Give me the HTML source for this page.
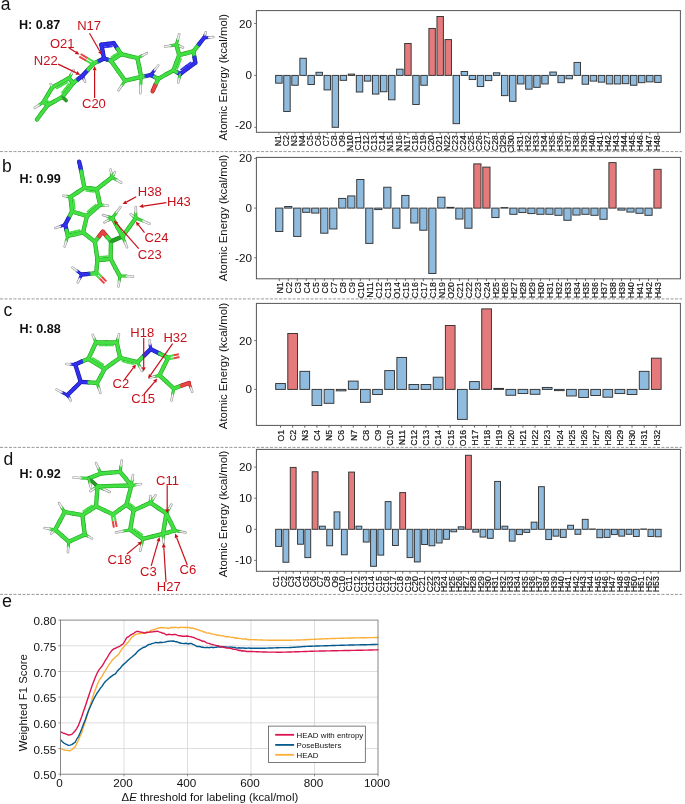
<!DOCTYPE html>
<html><head><meta charset="utf-8"><title>Figure</title>
<style>html,body{margin:0;padding:0;background:#fff;overflow:hidden;width:685px;height:804px;}svg{display:block;will-change:transform;}text{font-family:"Liberation Sans", sans-serif;}</style>
</head><body>
<svg width="685" height="804" viewBox="0 0 685 804">
<rect width="685" height="804" fill="#fff"/>
<rect x="275.67" y="75.40" width="6.45" height="7.78" fill="#8fbbde" stroke="#333" stroke-width="0.95"/>
<rect x="283.74" y="75.40" width="6.45" height="36.07" fill="#8fbbde" stroke="#333" stroke-width="0.95"/>
<rect x="291.80" y="75.40" width="6.45" height="9.86" fill="#8fbbde" stroke="#333" stroke-width="0.95"/>
<rect x="299.86" y="58.27" width="6.45" height="17.13" fill="#8fbbde" stroke="#333" stroke-width="0.95"/>
<rect x="307.93" y="75.40" width="6.45" height="9.08" fill="#8fbbde" stroke="#333" stroke-width="0.95"/>
<rect x="315.99" y="72.29" width="6.45" height="3.11" fill="#8fbbde" stroke="#333" stroke-width="0.95"/>
<rect x="324.06" y="75.40" width="6.45" height="14.53" fill="#8fbbde" stroke="#333" stroke-width="0.95"/>
<rect x="332.12" y="75.40" width="6.45" height="51.90" fill="#8fbbde" stroke="#333" stroke-width="0.95"/>
<rect x="340.18" y="75.40" width="6.45" height="4.93" fill="#8fbbde" stroke="#333" stroke-width="0.95"/>
<rect x="348.25" y="74.10" width="6.45" height="1.30" fill="#8fbbde" stroke="#333" stroke-width="0.95"/>
<rect x="356.31" y="75.40" width="6.45" height="16.61" fill="#8fbbde" stroke="#333" stroke-width="0.95"/>
<rect x="364.38" y="75.40" width="6.45" height="5.71" fill="#8fbbde" stroke="#333" stroke-width="0.95"/>
<rect x="372.44" y="75.40" width="6.45" height="18.68" fill="#8fbbde" stroke="#333" stroke-width="0.95"/>
<rect x="380.50" y="75.40" width="6.45" height="16.35" fill="#8fbbde" stroke="#333" stroke-width="0.95"/>
<rect x="388.57" y="75.40" width="6.45" height="24.39" fill="#8fbbde" stroke="#333" stroke-width="0.95"/>
<rect x="396.63" y="69.17" width="6.45" height="6.23" fill="#8fbbde" stroke="#333" stroke-width="0.95"/>
<rect x="404.70" y="43.48" width="6.45" height="31.92" fill="#e47a7c" stroke="#333" stroke-width="0.95"/>
<rect x="412.76" y="75.40" width="6.45" height="29.06" fill="#8fbbde" stroke="#333" stroke-width="0.95"/>
<rect x="420.82" y="75.40" width="6.45" height="9.86" fill="#8fbbde" stroke="#333" stroke-width="0.95"/>
<rect x="428.89" y="28.43" width="6.45" height="46.97" fill="#e47a7c" stroke="#333" stroke-width="0.95"/>
<rect x="436.95" y="16.49" width="6.45" height="58.91" fill="#e47a7c" stroke="#333" stroke-width="0.95"/>
<rect x="445.01" y="39.59" width="6.45" height="35.81" fill="#e47a7c" stroke="#333" stroke-width="0.95"/>
<rect x="453.08" y="75.40" width="6.45" height="48.27" fill="#8fbbde" stroke="#333" stroke-width="0.95"/>
<rect x="461.14" y="71.51" width="6.45" height="3.89" fill="#8fbbde" stroke="#333" stroke-width="0.95"/>
<rect x="469.21" y="75.40" width="6.45" height="4.15" fill="#8fbbde" stroke="#333" stroke-width="0.95"/>
<rect x="477.27" y="75.40" width="6.45" height="11.16" fill="#8fbbde" stroke="#333" stroke-width="0.95"/>
<rect x="485.33" y="75.40" width="6.45" height="5.19" fill="#8fbbde" stroke="#333" stroke-width="0.95"/>
<rect x="493.40" y="72.81" width="6.45" height="2.59" fill="#8fbbde" stroke="#333" stroke-width="0.95"/>
<rect x="501.46" y="75.40" width="6.45" height="20.24" fill="#8fbbde" stroke="#333" stroke-width="0.95"/>
<rect x="509.53" y="75.40" width="6.45" height="25.95" fill="#8fbbde" stroke="#333" stroke-width="0.95"/>
<rect x="517.59" y="75.40" width="6.45" height="8.56" fill="#8fbbde" stroke="#333" stroke-width="0.95"/>
<rect x="525.65" y="75.40" width="6.45" height="13.75" fill="#8fbbde" stroke="#333" stroke-width="0.95"/>
<rect x="533.72" y="75.40" width="6.45" height="11.94" fill="#8fbbde" stroke="#333" stroke-width="0.95"/>
<rect x="541.78" y="75.40" width="6.45" height="8.56" fill="#8fbbde" stroke="#333" stroke-width="0.95"/>
<rect x="549.85" y="72.03" width="6.45" height="3.37" fill="#8fbbde" stroke="#333" stroke-width="0.95"/>
<rect x="557.91" y="75.40" width="6.45" height="7.27" fill="#8fbbde" stroke="#333" stroke-width="0.95"/>
<rect x="565.97" y="75.40" width="6.45" height="3.37" fill="#8fbbde" stroke="#333" stroke-width="0.95"/>
<rect x="574.04" y="62.43" width="6.45" height="12.98" fill="#8fbbde" stroke="#333" stroke-width="0.95"/>
<rect x="582.10" y="75.40" width="6.45" height="8.82" fill="#8fbbde" stroke="#333" stroke-width="0.95"/>
<rect x="590.16" y="75.40" width="6.45" height="5.71" fill="#8fbbde" stroke="#333" stroke-width="0.95"/>
<rect x="598.23" y="75.40" width="6.45" height="6.75" fill="#8fbbde" stroke="#333" stroke-width="0.95"/>
<rect x="606.29" y="75.40" width="6.45" height="8.56" fill="#8fbbde" stroke="#333" stroke-width="0.95"/>
<rect x="614.36" y="75.40" width="6.45" height="8.56" fill="#8fbbde" stroke="#333" stroke-width="0.95"/>
<rect x="622.42" y="75.40" width="6.45" height="8.30" fill="#8fbbde" stroke="#333" stroke-width="0.95"/>
<rect x="630.48" y="75.40" width="6.45" height="9.86" fill="#8fbbde" stroke="#333" stroke-width="0.95"/>
<rect x="638.55" y="75.40" width="6.45" height="7.27" fill="#8fbbde" stroke="#333" stroke-width="0.95"/>
<rect x="646.61" y="75.40" width="6.45" height="6.49" fill="#8fbbde" stroke="#333" stroke-width="0.95"/>
<rect x="654.68" y="75.40" width="6.45" height="7.01" fill="#8fbbde" stroke="#333" stroke-width="0.95"/>
<rect x="256.4" y="10.6" width="424.00" height="121.70" fill="none" stroke="#555" stroke-width="1"/>
<line x1="254.20" y1="23.50" x2="256.40" y2="23.50" stroke="#555" stroke-width="0.8"/>
<text x="251.90" y="27.50" font-size="11.7" text-anchor="end" font-weight="normal" fill="#111">20</text>
<line x1="254.20" y1="75.40" x2="256.40" y2="75.40" stroke="#555" stroke-width="0.8"/>
<text x="251.90" y="79.40" font-size="11.7" text-anchor="end" font-weight="normal" fill="#111">0</text>
<line x1="254.20" y1="127.30" x2="256.40" y2="127.30" stroke="#555" stroke-width="0.8"/>
<text x="251.90" y="129.30" font-size="11.7" text-anchor="end" font-weight="normal" fill="#111">-20</text>
<text x="226.90" y="77.25" font-size="11.4" text-anchor="middle" font-weight="normal" fill="#111" transform="rotate(-90 226.90 77.25)">Atomic Energy (kcal/mol)</text>
<line x1="278.90" y1="132.30" x2="278.90" y2="134.60" stroke="#555" stroke-width="0.9"/>
<text x="280.60" y="135.30" font-size="8.5" text-anchor="end" font-weight="normal" fill="#111" transform="rotate(-90 280.60 135.30)" stroke="#111" stroke-width="0.18">N1</text>
<line x1="286.96" y1="132.30" x2="286.96" y2="134.60" stroke="#555" stroke-width="0.9"/>
<text x="288.66" y="135.30" font-size="8.5" text-anchor="end" font-weight="normal" fill="#111" transform="rotate(-90 288.66 135.30)" stroke="#111" stroke-width="0.18">C2</text>
<line x1="295.03" y1="132.30" x2="295.03" y2="134.60" stroke="#555" stroke-width="0.9"/>
<text x="296.73" y="135.30" font-size="8.5" text-anchor="end" font-weight="normal" fill="#111" transform="rotate(-90 296.73 135.30)" stroke="#111" stroke-width="0.18">N3</text>
<line x1="303.09" y1="132.30" x2="303.09" y2="134.60" stroke="#555" stroke-width="0.9"/>
<text x="304.79" y="135.30" font-size="8.5" text-anchor="end" font-weight="normal" fill="#111" transform="rotate(-90 304.79 135.30)" stroke="#111" stroke-width="0.18">N4</text>
<line x1="311.15" y1="132.30" x2="311.15" y2="134.60" stroke="#555" stroke-width="0.9"/>
<text x="312.85" y="135.30" font-size="8.5" text-anchor="end" font-weight="normal" fill="#111" transform="rotate(-90 312.85 135.30)" stroke="#111" stroke-width="0.18">C5</text>
<line x1="319.22" y1="132.30" x2="319.22" y2="134.60" stroke="#555" stroke-width="0.9"/>
<text x="320.92" y="135.30" font-size="8.5" text-anchor="end" font-weight="normal" fill="#111" transform="rotate(-90 320.92 135.30)" stroke="#111" stroke-width="0.18">C6</text>
<line x1="327.28" y1="132.30" x2="327.28" y2="134.60" stroke="#555" stroke-width="0.9"/>
<text x="328.98" y="135.30" font-size="8.5" text-anchor="end" font-weight="normal" fill="#111" transform="rotate(-90 328.98 135.30)" stroke="#111" stroke-width="0.18">C7</text>
<line x1="335.35" y1="132.30" x2="335.35" y2="134.60" stroke="#555" stroke-width="0.9"/>
<text x="337.05" y="135.30" font-size="8.5" text-anchor="end" font-weight="normal" fill="#111" transform="rotate(-90 337.05 135.30)" stroke="#111" stroke-width="0.18">C8</text>
<line x1="343.41" y1="132.30" x2="343.41" y2="134.60" stroke="#555" stroke-width="0.9"/>
<text x="345.11" y="135.30" font-size="8.5" text-anchor="end" font-weight="normal" fill="#111" transform="rotate(-90 345.11 135.30)" stroke="#111" stroke-width="0.18">O9</text>
<line x1="351.47" y1="132.30" x2="351.47" y2="134.60" stroke="#555" stroke-width="0.9"/>
<text x="353.17" y="135.30" font-size="8.5" text-anchor="end" font-weight="normal" fill="#111" transform="rotate(-90 353.17 135.30)" stroke="#111" stroke-width="0.18">N10</text>
<line x1="359.54" y1="132.30" x2="359.54" y2="134.60" stroke="#555" stroke-width="0.9"/>
<text x="361.24" y="135.30" font-size="8.5" text-anchor="end" font-weight="normal" fill="#111" transform="rotate(-90 361.24 135.30)" stroke="#111" stroke-width="0.18">C11</text>
<line x1="367.60" y1="132.30" x2="367.60" y2="134.60" stroke="#555" stroke-width="0.9"/>
<text x="369.30" y="135.30" font-size="8.5" text-anchor="end" font-weight="normal" fill="#111" transform="rotate(-90 369.30 135.30)" stroke="#111" stroke-width="0.18">C12</text>
<line x1="375.67" y1="132.30" x2="375.67" y2="134.60" stroke="#555" stroke-width="0.9"/>
<text x="377.37" y="135.30" font-size="8.5" text-anchor="end" font-weight="normal" fill="#111" transform="rotate(-90 377.37 135.30)" stroke="#111" stroke-width="0.18">C13</text>
<line x1="383.73" y1="132.30" x2="383.73" y2="134.60" stroke="#555" stroke-width="0.9"/>
<text x="385.43" y="135.30" font-size="8.5" text-anchor="end" font-weight="normal" fill="#111" transform="rotate(-90 385.43 135.30)" stroke="#111" stroke-width="0.18">C14</text>
<line x1="391.79" y1="132.30" x2="391.79" y2="134.60" stroke="#555" stroke-width="0.9"/>
<text x="393.49" y="135.30" font-size="8.5" text-anchor="end" font-weight="normal" fill="#111" transform="rotate(-90 393.49 135.30)" stroke="#111" stroke-width="0.18">N15</text>
<line x1="399.86" y1="132.30" x2="399.86" y2="134.60" stroke="#555" stroke-width="0.9"/>
<text x="401.56" y="135.30" font-size="8.5" text-anchor="end" font-weight="normal" fill="#111" transform="rotate(-90 401.56 135.30)" stroke="#111" stroke-width="0.18">N16</text>
<line x1="407.92" y1="132.30" x2="407.92" y2="134.60" stroke="#555" stroke-width="0.9"/>
<text x="409.62" y="135.30" font-size="8.5" text-anchor="end" font-weight="normal" fill="#111" transform="rotate(-90 409.62 135.30)" stroke="#111" stroke-width="0.18">N17</text>
<line x1="415.98" y1="132.30" x2="415.98" y2="134.60" stroke="#555" stroke-width="0.9"/>
<text x="417.68" y="135.30" font-size="8.5" text-anchor="end" font-weight="normal" fill="#111" transform="rotate(-90 417.68 135.30)" stroke="#111" stroke-width="0.18">C18</text>
<line x1="424.05" y1="132.30" x2="424.05" y2="134.60" stroke="#555" stroke-width="0.9"/>
<text x="425.75" y="135.30" font-size="8.5" text-anchor="end" font-weight="normal" fill="#111" transform="rotate(-90 425.75 135.30)" stroke="#111" stroke-width="0.18">C19</text>
<line x1="432.11" y1="132.30" x2="432.11" y2="134.60" stroke="#555" stroke-width="0.9"/>
<text x="433.81" y="135.30" font-size="8.5" text-anchor="end" font-weight="normal" fill="#111" transform="rotate(-90 433.81 135.30)" stroke="#111" stroke-width="0.18">C20</text>
<line x1="440.18" y1="132.30" x2="440.18" y2="134.60" stroke="#555" stroke-width="0.9"/>
<text x="441.88" y="135.30" font-size="8.5" text-anchor="end" font-weight="normal" fill="#111" transform="rotate(-90 441.88 135.30)" stroke="#111" stroke-width="0.18">O21</text>
<line x1="448.24" y1="132.30" x2="448.24" y2="134.60" stroke="#555" stroke-width="0.9"/>
<text x="449.94" y="135.30" font-size="8.5" text-anchor="end" font-weight="normal" fill="#111" transform="rotate(-90 449.94 135.30)" stroke="#111" stroke-width="0.18">N22</text>
<line x1="456.30" y1="132.30" x2="456.30" y2="134.60" stroke="#555" stroke-width="0.9"/>
<text x="458.00" y="135.30" font-size="8.5" text-anchor="end" font-weight="normal" fill="#111" transform="rotate(-90 458.00 135.30)" stroke="#111" stroke-width="0.18">C23</text>
<line x1="464.37" y1="132.30" x2="464.37" y2="134.60" stroke="#555" stroke-width="0.9"/>
<text x="466.07" y="135.30" font-size="8.5" text-anchor="end" font-weight="normal" fill="#111" transform="rotate(-90 466.07 135.30)" stroke="#111" stroke-width="0.18">C24</text>
<line x1="472.43" y1="132.30" x2="472.43" y2="134.60" stroke="#555" stroke-width="0.9"/>
<text x="474.13" y="135.30" font-size="8.5" text-anchor="end" font-weight="normal" fill="#111" transform="rotate(-90 474.13 135.30)" stroke="#111" stroke-width="0.18">C25</text>
<line x1="480.50" y1="132.30" x2="480.50" y2="134.60" stroke="#555" stroke-width="0.9"/>
<text x="482.20" y="135.30" font-size="8.5" text-anchor="end" font-weight="normal" fill="#111" transform="rotate(-90 482.20 135.30)" stroke="#111" stroke-width="0.18">C26</text>
<line x1="488.56" y1="132.30" x2="488.56" y2="134.60" stroke="#555" stroke-width="0.9"/>
<text x="490.26" y="135.30" font-size="8.5" text-anchor="end" font-weight="normal" fill="#111" transform="rotate(-90 490.26 135.30)" stroke="#111" stroke-width="0.18">C27</text>
<line x1="496.62" y1="132.30" x2="496.62" y2="134.60" stroke="#555" stroke-width="0.9"/>
<text x="498.32" y="135.30" font-size="8.5" text-anchor="end" font-weight="normal" fill="#111" transform="rotate(-90 498.32 135.30)" stroke="#111" stroke-width="0.18">C28</text>
<line x1="504.69" y1="132.30" x2="504.69" y2="134.60" stroke="#555" stroke-width="0.9"/>
<text x="506.39" y="135.30" font-size="8.5" text-anchor="end" font-weight="normal" fill="#111" transform="rotate(-90 506.39 135.30)" stroke="#111" stroke-width="0.18">Cl29</text>
<line x1="512.75" y1="132.30" x2="512.75" y2="134.60" stroke="#555" stroke-width="0.9"/>
<text x="514.45" y="135.30" font-size="8.5" text-anchor="end" font-weight="normal" fill="#111" transform="rotate(-90 514.45 135.30)" stroke="#111" stroke-width="0.18">Cl30</text>
<line x1="520.82" y1="132.30" x2="520.82" y2="134.60" stroke="#555" stroke-width="0.9"/>
<text x="522.52" y="135.30" font-size="8.5" text-anchor="end" font-weight="normal" fill="#111" transform="rotate(-90 522.52 135.30)" stroke="#111" stroke-width="0.18">H31</text>
<line x1="528.88" y1="132.30" x2="528.88" y2="134.60" stroke="#555" stroke-width="0.9"/>
<text x="530.58" y="135.30" font-size="8.5" text-anchor="end" font-weight="normal" fill="#111" transform="rotate(-90 530.58 135.30)" stroke="#111" stroke-width="0.18">H32</text>
<line x1="536.94" y1="132.30" x2="536.94" y2="134.60" stroke="#555" stroke-width="0.9"/>
<text x="538.64" y="135.30" font-size="8.5" text-anchor="end" font-weight="normal" fill="#111" transform="rotate(-90 538.64 135.30)" stroke="#111" stroke-width="0.18">H33</text>
<line x1="545.01" y1="132.30" x2="545.01" y2="134.60" stroke="#555" stroke-width="0.9"/>
<text x="546.71" y="135.30" font-size="8.5" text-anchor="end" font-weight="normal" fill="#111" transform="rotate(-90 546.71 135.30)" stroke="#111" stroke-width="0.18">H34</text>
<line x1="553.07" y1="132.30" x2="553.07" y2="134.60" stroke="#555" stroke-width="0.9"/>
<text x="554.77" y="135.30" font-size="8.5" text-anchor="end" font-weight="normal" fill="#111" transform="rotate(-90 554.77 135.30)" stroke="#111" stroke-width="0.18">H35</text>
<line x1="561.13" y1="132.30" x2="561.13" y2="134.60" stroke="#555" stroke-width="0.9"/>
<text x="562.83" y="135.30" font-size="8.5" text-anchor="end" font-weight="normal" fill="#111" transform="rotate(-90 562.83 135.30)" stroke="#111" stroke-width="0.18">H36</text>
<line x1="569.20" y1="132.30" x2="569.20" y2="134.60" stroke="#555" stroke-width="0.9"/>
<text x="570.90" y="135.30" font-size="8.5" text-anchor="end" font-weight="normal" fill="#111" transform="rotate(-90 570.90 135.30)" stroke="#111" stroke-width="0.18">H37</text>
<line x1="577.26" y1="132.30" x2="577.26" y2="134.60" stroke="#555" stroke-width="0.9"/>
<text x="578.96" y="135.30" font-size="8.5" text-anchor="end" font-weight="normal" fill="#111" transform="rotate(-90 578.96 135.30)" stroke="#111" stroke-width="0.18">H38</text>
<line x1="585.33" y1="132.30" x2="585.33" y2="134.60" stroke="#555" stroke-width="0.9"/>
<text x="587.03" y="135.30" font-size="8.5" text-anchor="end" font-weight="normal" fill="#111" transform="rotate(-90 587.03 135.30)" stroke="#111" stroke-width="0.18">H39</text>
<line x1="593.39" y1="132.30" x2="593.39" y2="134.60" stroke="#555" stroke-width="0.9"/>
<text x="595.09" y="135.30" font-size="8.5" text-anchor="end" font-weight="normal" fill="#111" transform="rotate(-90 595.09 135.30)" stroke="#111" stroke-width="0.18">H40</text>
<line x1="601.45" y1="132.30" x2="601.45" y2="134.60" stroke="#555" stroke-width="0.9"/>
<text x="603.15" y="135.30" font-size="8.5" text-anchor="end" font-weight="normal" fill="#111" transform="rotate(-90 603.15 135.30)" stroke="#111" stroke-width="0.18">H41</text>
<line x1="609.52" y1="132.30" x2="609.52" y2="134.60" stroke="#555" stroke-width="0.9"/>
<text x="611.22" y="135.30" font-size="8.5" text-anchor="end" font-weight="normal" fill="#111" transform="rotate(-90 611.22 135.30)" stroke="#111" stroke-width="0.18">H42</text>
<line x1="617.58" y1="132.30" x2="617.58" y2="134.60" stroke="#555" stroke-width="0.9"/>
<text x="619.28" y="135.30" font-size="8.5" text-anchor="end" font-weight="normal" fill="#111" transform="rotate(-90 619.28 135.30)" stroke="#111" stroke-width="0.18">H43</text>
<line x1="625.65" y1="132.30" x2="625.65" y2="134.60" stroke="#555" stroke-width="0.9"/>
<text x="627.35" y="135.30" font-size="8.5" text-anchor="end" font-weight="normal" fill="#111" transform="rotate(-90 627.35 135.30)" stroke="#111" stroke-width="0.18">H44</text>
<line x1="633.71" y1="132.30" x2="633.71" y2="134.60" stroke="#555" stroke-width="0.9"/>
<text x="635.41" y="135.30" font-size="8.5" text-anchor="end" font-weight="normal" fill="#111" transform="rotate(-90 635.41 135.30)" stroke="#111" stroke-width="0.18">H45</text>
<line x1="641.77" y1="132.30" x2="641.77" y2="134.60" stroke="#555" stroke-width="0.9"/>
<text x="643.47" y="135.30" font-size="8.5" text-anchor="end" font-weight="normal" fill="#111" transform="rotate(-90 643.47 135.30)" stroke="#111" stroke-width="0.18">H46</text>
<line x1="649.84" y1="132.30" x2="649.84" y2="134.60" stroke="#555" stroke-width="0.9"/>
<text x="651.54" y="135.30" font-size="8.5" text-anchor="end" font-weight="normal" fill="#111" transform="rotate(-90 651.54 135.30)" stroke="#111" stroke-width="0.18">H47</text>
<line x1="657.90" y1="132.30" x2="657.90" y2="134.60" stroke="#555" stroke-width="0.9"/>
<text x="659.60" y="135.30" font-size="8.5" text-anchor="end" font-weight="normal" fill="#111" transform="rotate(-90 659.60 135.30)" stroke="#111" stroke-width="0.18">H48</text>
<rect x="275.67" y="208.10" width="7.20" height="23.36" fill="#8fbbde" stroke="#333" stroke-width="0.95"/>
<rect x="284.68" y="206.48" width="7.20" height="1.62" fill="#8fbbde" stroke="#333" stroke-width="0.95"/>
<rect x="293.68" y="208.10" width="7.20" height="28.33" fill="#8fbbde" stroke="#333" stroke-width="0.95"/>
<rect x="302.69" y="208.10" width="7.20" height="4.22" fill="#8fbbde" stroke="#333" stroke-width="0.95"/>
<rect x="311.70" y="208.10" width="7.20" height="4.97" fill="#8fbbde" stroke="#333" stroke-width="0.95"/>
<rect x="320.70" y="208.10" width="7.20" height="25.10" fill="#8fbbde" stroke="#333" stroke-width="0.95"/>
<rect x="329.71" y="208.10" width="7.20" height="20.87" fill="#8fbbde" stroke="#333" stroke-width="0.95"/>
<rect x="338.71" y="198.41" width="7.20" height="9.69" fill="#8fbbde" stroke="#333" stroke-width="0.95"/>
<rect x="347.72" y="195.92" width="7.20" height="12.18" fill="#8fbbde" stroke="#333" stroke-width="0.95"/>
<rect x="356.73" y="179.52" width="7.20" height="28.58" fill="#8fbbde" stroke="#333" stroke-width="0.95"/>
<rect x="365.73" y="208.10" width="7.20" height="35.29" fill="#8fbbde" stroke="#333" stroke-width="0.95"/>
<rect x="374.74" y="208.10" width="7.20" height="1.49" fill="#8fbbde" stroke="#333" stroke-width="0.95"/>
<rect x="383.74" y="187.23" width="7.20" height="20.87" fill="#8fbbde" stroke="#333" stroke-width="0.95"/>
<rect x="392.75" y="208.10" width="7.20" height="20.13" fill="#8fbbde" stroke="#333" stroke-width="0.95"/>
<rect x="401.76" y="195.43" width="7.20" height="12.67" fill="#8fbbde" stroke="#333" stroke-width="0.95"/>
<rect x="410.76" y="208.10" width="7.20" height="14.91" fill="#8fbbde" stroke="#333" stroke-width="0.95"/>
<rect x="419.77" y="208.10" width="7.20" height="22.12" fill="#8fbbde" stroke="#333" stroke-width="0.95"/>
<rect x="428.77" y="208.10" width="7.20" height="65.36" fill="#8fbbde" stroke="#333" stroke-width="0.95"/>
<rect x="437.78" y="197.17" width="7.20" height="10.93" fill="#8fbbde" stroke="#333" stroke-width="0.95"/>
<rect x="446.79" y="207.35" width="7.20" height="0.75" fill="#8fbbde" stroke="#333" stroke-width="0.95"/>
<rect x="455.79" y="208.10" width="7.20" height="10.93" fill="#8fbbde" stroke="#333" stroke-width="0.95"/>
<rect x="464.80" y="208.10" width="7.20" height="20.13" fill="#8fbbde" stroke="#333" stroke-width="0.95"/>
<rect x="473.80" y="163.87" width="7.20" height="44.23" fill="#e47a7c" stroke="#333" stroke-width="0.95"/>
<rect x="482.81" y="167.10" width="7.20" height="41.00" fill="#e47a7c" stroke="#333" stroke-width="0.95"/>
<rect x="491.82" y="208.10" width="7.20" height="9.44" fill="#8fbbde" stroke="#333" stroke-width="0.95"/>
<rect x="500.82" y="207.60" width="7.20" height="0.50" fill="#8fbbde" stroke="#333" stroke-width="0.95"/>
<rect x="509.83" y="208.10" width="7.20" height="6.21" fill="#8fbbde" stroke="#333" stroke-width="0.95"/>
<rect x="518.83" y="208.10" width="7.20" height="4.47" fill="#8fbbde" stroke="#333" stroke-width="0.95"/>
<rect x="527.84" y="208.10" width="7.20" height="5.47" fill="#8fbbde" stroke="#333" stroke-width="0.95"/>
<rect x="536.85" y="208.10" width="7.20" height="6.21" fill="#8fbbde" stroke="#333" stroke-width="0.95"/>
<rect x="545.85" y="208.10" width="7.20" height="6.21" fill="#8fbbde" stroke="#333" stroke-width="0.95"/>
<rect x="554.86" y="208.10" width="7.20" height="7.21" fill="#8fbbde" stroke="#333" stroke-width="0.95"/>
<rect x="563.86" y="208.10" width="7.20" height="12.18" fill="#8fbbde" stroke="#333" stroke-width="0.95"/>
<rect x="572.87" y="208.10" width="7.20" height="6.96" fill="#8fbbde" stroke="#333" stroke-width="0.95"/>
<rect x="581.87" y="208.10" width="7.20" height="6.21" fill="#8fbbde" stroke="#333" stroke-width="0.95"/>
<rect x="590.88" y="208.10" width="7.20" height="7.21" fill="#8fbbde" stroke="#333" stroke-width="0.95"/>
<rect x="599.89" y="208.10" width="7.20" height="11.18" fill="#8fbbde" stroke="#333" stroke-width="0.95"/>
<rect x="608.89" y="162.62" width="7.20" height="45.48" fill="#e47a7c" stroke="#333" stroke-width="0.95"/>
<rect x="617.90" y="208.10" width="7.20" height="1.99" fill="#8fbbde" stroke="#333" stroke-width="0.95"/>
<rect x="626.90" y="208.10" width="7.20" height="3.98" fill="#8fbbde" stroke="#333" stroke-width="0.95"/>
<rect x="635.91" y="208.10" width="7.20" height="5.22" fill="#8fbbde" stroke="#333" stroke-width="0.95"/>
<rect x="644.92" y="208.10" width="7.20" height="7.21" fill="#8fbbde" stroke="#333" stroke-width="0.95"/>
<rect x="653.92" y="169.33" width="7.20" height="38.77" fill="#e47a7c" stroke="#333" stroke-width="0.95"/>
<rect x="256.4" y="157.4" width="424.00" height="121.40" fill="none" stroke="#555" stroke-width="1"/>
<line x1="254.20" y1="158.40" x2="256.40" y2="158.40" stroke="#555" stroke-width="0.8"/>
<text x="251.90" y="162.40" font-size="11.7" text-anchor="end" font-weight="normal" fill="#111">20</text>
<line x1="254.20" y1="208.10" x2="256.40" y2="208.10" stroke="#555" stroke-width="0.8"/>
<text x="251.90" y="212.10" font-size="11.7" text-anchor="end" font-weight="normal" fill="#111">0</text>
<line x1="254.20" y1="257.80" x2="256.40" y2="257.80" stroke="#555" stroke-width="0.8"/>
<text x="251.90" y="261.80" font-size="11.7" text-anchor="end" font-weight="normal" fill="#111">-20</text>
<text x="226.90" y="217.90" font-size="11.4" text-anchor="middle" font-weight="normal" fill="#111" transform="rotate(-90 226.90 217.90)">Atomic Energy (kcal/mol)</text>
<line x1="279.28" y1="278.80" x2="279.28" y2="281.10" stroke="#555" stroke-width="0.9"/>
<text x="282.58" y="282.20" font-size="8.8" text-anchor="end" font-weight="normal" fill="#111" transform="rotate(-90 282.58 282.20)" stroke="#111" stroke-width="0.18">N1</text>
<line x1="288.28" y1="278.80" x2="288.28" y2="281.10" stroke="#555" stroke-width="0.9"/>
<text x="291.58" y="282.20" font-size="8.8" text-anchor="end" font-weight="normal" fill="#111" transform="rotate(-90 291.58 282.20)" stroke="#111" stroke-width="0.18">C2</text>
<line x1="297.29" y1="278.80" x2="297.29" y2="281.10" stroke="#555" stroke-width="0.9"/>
<text x="300.59" y="282.20" font-size="8.8" text-anchor="end" font-weight="normal" fill="#111" transform="rotate(-90 300.59 282.20)" stroke="#111" stroke-width="0.18">C3</text>
<line x1="306.29" y1="278.80" x2="306.29" y2="281.10" stroke="#555" stroke-width="0.9"/>
<text x="309.59" y="282.20" font-size="8.8" text-anchor="end" font-weight="normal" fill="#111" transform="rotate(-90 309.59 282.20)" stroke="#111" stroke-width="0.18">C4</text>
<line x1="315.30" y1="278.80" x2="315.30" y2="281.10" stroke="#555" stroke-width="0.9"/>
<text x="318.60" y="282.20" font-size="8.8" text-anchor="end" font-weight="normal" fill="#111" transform="rotate(-90 318.60 282.20)" stroke="#111" stroke-width="0.18">C5</text>
<line x1="324.30" y1="278.80" x2="324.30" y2="281.10" stroke="#555" stroke-width="0.9"/>
<text x="327.60" y="282.20" font-size="8.8" text-anchor="end" font-weight="normal" fill="#111" transform="rotate(-90 327.60 282.20)" stroke="#111" stroke-width="0.18">C6</text>
<line x1="333.31" y1="278.80" x2="333.31" y2="281.10" stroke="#555" stroke-width="0.9"/>
<text x="336.61" y="282.20" font-size="8.8" text-anchor="end" font-weight="normal" fill="#111" transform="rotate(-90 336.61 282.20)" stroke="#111" stroke-width="0.18">C7</text>
<line x1="342.32" y1="278.80" x2="342.32" y2="281.10" stroke="#555" stroke-width="0.9"/>
<text x="345.62" y="282.20" font-size="8.8" text-anchor="end" font-weight="normal" fill="#111" transform="rotate(-90 345.62 282.20)" stroke="#111" stroke-width="0.18">C8</text>
<line x1="351.32" y1="278.80" x2="351.32" y2="281.10" stroke="#555" stroke-width="0.9"/>
<text x="354.62" y="282.20" font-size="8.8" text-anchor="end" font-weight="normal" fill="#111" transform="rotate(-90 354.62 282.20)" stroke="#111" stroke-width="0.18">C9</text>
<line x1="360.33" y1="278.80" x2="360.33" y2="281.10" stroke="#555" stroke-width="0.9"/>
<text x="363.63" y="282.20" font-size="8.8" text-anchor="end" font-weight="normal" fill="#111" transform="rotate(-90 363.63 282.20)" stroke="#111" stroke-width="0.18">C10</text>
<line x1="369.33" y1="278.80" x2="369.33" y2="281.10" stroke="#555" stroke-width="0.9"/>
<text x="372.63" y="282.20" font-size="8.8" text-anchor="end" font-weight="normal" fill="#111" transform="rotate(-90 372.63 282.20)" stroke="#111" stroke-width="0.18">N11</text>
<line x1="378.34" y1="278.80" x2="378.34" y2="281.10" stroke="#555" stroke-width="0.9"/>
<text x="381.64" y="282.20" font-size="8.8" text-anchor="end" font-weight="normal" fill="#111" transform="rotate(-90 381.64 282.20)" stroke="#111" stroke-width="0.18">C12</text>
<line x1="387.35" y1="278.80" x2="387.35" y2="281.10" stroke="#555" stroke-width="0.9"/>
<text x="390.65" y="282.20" font-size="8.8" text-anchor="end" font-weight="normal" fill="#111" transform="rotate(-90 390.65 282.20)" stroke="#111" stroke-width="0.18">C13</text>
<line x1="396.35" y1="278.80" x2="396.35" y2="281.10" stroke="#555" stroke-width="0.9"/>
<text x="399.65" y="282.20" font-size="8.8" text-anchor="end" font-weight="normal" fill="#111" transform="rotate(-90 399.65 282.20)" stroke="#111" stroke-width="0.18">O14</text>
<line x1="405.36" y1="278.80" x2="405.36" y2="281.10" stroke="#555" stroke-width="0.9"/>
<text x="408.66" y="282.20" font-size="8.8" text-anchor="end" font-weight="normal" fill="#111" transform="rotate(-90 408.66 282.20)" stroke="#111" stroke-width="0.18">C15</text>
<line x1="414.36" y1="278.80" x2="414.36" y2="281.10" stroke="#555" stroke-width="0.9"/>
<text x="417.66" y="282.20" font-size="8.8" text-anchor="end" font-weight="normal" fill="#111" transform="rotate(-90 417.66 282.20)" stroke="#111" stroke-width="0.18">C16</text>
<line x1="423.37" y1="278.80" x2="423.37" y2="281.10" stroke="#555" stroke-width="0.9"/>
<text x="426.67" y="282.20" font-size="8.8" text-anchor="end" font-weight="normal" fill="#111" transform="rotate(-90 426.67 282.20)" stroke="#111" stroke-width="0.18">C17</text>
<line x1="432.38" y1="278.80" x2="432.38" y2="281.10" stroke="#555" stroke-width="0.9"/>
<text x="435.68" y="282.20" font-size="8.8" text-anchor="end" font-weight="normal" fill="#111" transform="rotate(-90 435.68 282.20)" stroke="#111" stroke-width="0.18">C18</text>
<line x1="441.38" y1="278.80" x2="441.38" y2="281.10" stroke="#555" stroke-width="0.9"/>
<text x="444.68" y="282.20" font-size="8.8" text-anchor="end" font-weight="normal" fill="#111" transform="rotate(-90 444.68 282.20)" stroke="#111" stroke-width="0.18">N19</text>
<line x1="450.39" y1="278.80" x2="450.39" y2="281.10" stroke="#555" stroke-width="0.9"/>
<text x="453.69" y="282.20" font-size="8.8" text-anchor="end" font-weight="normal" fill="#111" transform="rotate(-90 453.69 282.20)" stroke="#111" stroke-width="0.18">O20</text>
<line x1="459.39" y1="278.80" x2="459.39" y2="281.10" stroke="#555" stroke-width="0.9"/>
<text x="462.69" y="282.20" font-size="8.8" text-anchor="end" font-weight="normal" fill="#111" transform="rotate(-90 462.69 282.20)" stroke="#111" stroke-width="0.18">C21</text>
<line x1="468.40" y1="278.80" x2="468.40" y2="281.10" stroke="#555" stroke-width="0.9"/>
<text x="471.70" y="282.20" font-size="8.8" text-anchor="end" font-weight="normal" fill="#111" transform="rotate(-90 471.70 282.20)" stroke="#111" stroke-width="0.18">C22</text>
<line x1="477.41" y1="278.80" x2="477.41" y2="281.10" stroke="#555" stroke-width="0.9"/>
<text x="480.71" y="282.20" font-size="8.8" text-anchor="end" font-weight="normal" fill="#111" transform="rotate(-90 480.71 282.20)" stroke="#111" stroke-width="0.18">C23</text>
<line x1="486.41" y1="278.80" x2="486.41" y2="281.10" stroke="#555" stroke-width="0.9"/>
<text x="489.71" y="282.20" font-size="8.8" text-anchor="end" font-weight="normal" fill="#111" transform="rotate(-90 489.71 282.20)" stroke="#111" stroke-width="0.18">C24</text>
<line x1="495.42" y1="278.80" x2="495.42" y2="281.10" stroke="#555" stroke-width="0.9"/>
<text x="498.72" y="282.20" font-size="8.8" text-anchor="end" font-weight="normal" fill="#111" transform="rotate(-90 498.72 282.20)" stroke="#111" stroke-width="0.18">H25</text>
<line x1="504.42" y1="278.80" x2="504.42" y2="281.10" stroke="#555" stroke-width="0.9"/>
<text x="507.72" y="282.20" font-size="8.8" text-anchor="end" font-weight="normal" fill="#111" transform="rotate(-90 507.72 282.20)" stroke="#111" stroke-width="0.18">H26</text>
<line x1="513.43" y1="278.80" x2="513.43" y2="281.10" stroke="#555" stroke-width="0.9"/>
<text x="516.73" y="282.20" font-size="8.8" text-anchor="end" font-weight="normal" fill="#111" transform="rotate(-90 516.73 282.20)" stroke="#111" stroke-width="0.18">H27</text>
<line x1="522.44" y1="278.80" x2="522.44" y2="281.10" stroke="#555" stroke-width="0.9"/>
<text x="525.74" y="282.20" font-size="8.8" text-anchor="end" font-weight="normal" fill="#111" transform="rotate(-90 525.74 282.20)" stroke="#111" stroke-width="0.18">H28</text>
<line x1="531.44" y1="278.80" x2="531.44" y2="281.10" stroke="#555" stroke-width="0.9"/>
<text x="534.74" y="282.20" font-size="8.8" text-anchor="end" font-weight="normal" fill="#111" transform="rotate(-90 534.74 282.20)" stroke="#111" stroke-width="0.18">H29</text>
<line x1="540.45" y1="278.80" x2="540.45" y2="281.10" stroke="#555" stroke-width="0.9"/>
<text x="543.75" y="282.20" font-size="8.8" text-anchor="end" font-weight="normal" fill="#111" transform="rotate(-90 543.75 282.20)" stroke="#111" stroke-width="0.18">H30</text>
<line x1="549.45" y1="278.80" x2="549.45" y2="281.10" stroke="#555" stroke-width="0.9"/>
<text x="552.75" y="282.20" font-size="8.8" text-anchor="end" font-weight="normal" fill="#111" transform="rotate(-90 552.75 282.20)" stroke="#111" stroke-width="0.18">H31</text>
<line x1="558.46" y1="278.80" x2="558.46" y2="281.10" stroke="#555" stroke-width="0.9"/>
<text x="561.76" y="282.20" font-size="8.8" text-anchor="end" font-weight="normal" fill="#111" transform="rotate(-90 561.76 282.20)" stroke="#111" stroke-width="0.18">H32</text>
<line x1="567.47" y1="278.80" x2="567.47" y2="281.10" stroke="#555" stroke-width="0.9"/>
<text x="570.77" y="282.20" font-size="8.8" text-anchor="end" font-weight="normal" fill="#111" transform="rotate(-90 570.77 282.20)" stroke="#111" stroke-width="0.18">H33</text>
<line x1="576.47" y1="278.80" x2="576.47" y2="281.10" stroke="#555" stroke-width="0.9"/>
<text x="579.77" y="282.20" font-size="8.8" text-anchor="end" font-weight="normal" fill="#111" transform="rotate(-90 579.77 282.20)" stroke="#111" stroke-width="0.18">H34</text>
<line x1="585.48" y1="278.80" x2="585.48" y2="281.10" stroke="#555" stroke-width="0.9"/>
<text x="588.78" y="282.20" font-size="8.8" text-anchor="end" font-weight="normal" fill="#111" transform="rotate(-90 588.78 282.20)" stroke="#111" stroke-width="0.18">H35</text>
<line x1="594.48" y1="278.80" x2="594.48" y2="281.10" stroke="#555" stroke-width="0.9"/>
<text x="597.78" y="282.20" font-size="8.8" text-anchor="end" font-weight="normal" fill="#111" transform="rotate(-90 597.78 282.20)" stroke="#111" stroke-width="0.18">H36</text>
<line x1="603.49" y1="278.80" x2="603.49" y2="281.10" stroke="#555" stroke-width="0.9"/>
<text x="606.79" y="282.20" font-size="8.8" text-anchor="end" font-weight="normal" fill="#111" transform="rotate(-90 606.79 282.20)" stroke="#111" stroke-width="0.18">H37</text>
<line x1="612.50" y1="278.80" x2="612.50" y2="281.10" stroke="#555" stroke-width="0.9"/>
<text x="615.80" y="282.20" font-size="8.8" text-anchor="end" font-weight="normal" fill="#111" transform="rotate(-90 615.80 282.20)" stroke="#111" stroke-width="0.18">H38</text>
<line x1="621.50" y1="278.80" x2="621.50" y2="281.10" stroke="#555" stroke-width="0.9"/>
<text x="624.80" y="282.20" font-size="8.8" text-anchor="end" font-weight="normal" fill="#111" transform="rotate(-90 624.80 282.20)" stroke="#111" stroke-width="0.18">H39</text>
<line x1="630.51" y1="278.80" x2="630.51" y2="281.10" stroke="#555" stroke-width="0.9"/>
<text x="633.81" y="282.20" font-size="8.8" text-anchor="end" font-weight="normal" fill="#111" transform="rotate(-90 633.81 282.20)" stroke="#111" stroke-width="0.18">H40</text>
<line x1="639.51" y1="278.80" x2="639.51" y2="281.10" stroke="#555" stroke-width="0.9"/>
<text x="642.81" y="282.20" font-size="8.8" text-anchor="end" font-weight="normal" fill="#111" transform="rotate(-90 642.81 282.20)" stroke="#111" stroke-width="0.18">H41</text>
<line x1="648.52" y1="278.80" x2="648.52" y2="281.10" stroke="#555" stroke-width="0.9"/>
<text x="651.82" y="282.20" font-size="8.8" text-anchor="end" font-weight="normal" fill="#111" transform="rotate(-90 651.82 282.20)" stroke="#111" stroke-width="0.18">H42</text>
<line x1="657.52" y1="278.80" x2="657.52" y2="281.10" stroke="#555" stroke-width="0.9"/>
<text x="660.82" y="282.20" font-size="8.8" text-anchor="end" font-weight="normal" fill="#111" transform="rotate(-90 660.82 282.20)" stroke="#111" stroke-width="0.18">H43</text>
<rect x="275.67" y="383.54" width="9.70" height="5.86" fill="#8fbbde" stroke="#333" stroke-width="0.95"/>
<rect x="287.79" y="333.52" width="9.70" height="55.88" fill="#e47a7c" stroke="#333" stroke-width="0.95"/>
<rect x="299.92" y="371.34" width="9.70" height="18.06" fill="#8fbbde" stroke="#333" stroke-width="0.95"/>
<rect x="312.04" y="389.40" width="9.70" height="16.10" fill="#8fbbde" stroke="#333" stroke-width="0.95"/>
<rect x="324.16" y="389.40" width="9.70" height="13.91" fill="#8fbbde" stroke="#333" stroke-width="0.95"/>
<rect x="336.28" y="389.40" width="9.70" height="1.46" fill="#8fbbde" stroke="#333" stroke-width="0.95"/>
<rect x="348.40" y="381.10" width="9.70" height="8.30" fill="#8fbbde" stroke="#333" stroke-width="0.95"/>
<rect x="360.52" y="389.40" width="9.70" height="12.93" fill="#8fbbde" stroke="#333" stroke-width="0.95"/>
<rect x="372.64" y="389.40" width="9.70" height="5.12" fill="#8fbbde" stroke="#333" stroke-width="0.95"/>
<rect x="384.76" y="370.61" width="9.70" height="18.79" fill="#8fbbde" stroke="#333" stroke-width="0.95"/>
<rect x="396.88" y="357.44" width="9.70" height="31.96" fill="#8fbbde" stroke="#333" stroke-width="0.95"/>
<rect x="409.01" y="384.52" width="9.70" height="4.88" fill="#8fbbde" stroke="#333" stroke-width="0.95"/>
<rect x="421.13" y="384.52" width="9.70" height="4.88" fill="#8fbbde" stroke="#333" stroke-width="0.95"/>
<rect x="433.25" y="377.20" width="9.70" height="12.20" fill="#8fbbde" stroke="#333" stroke-width="0.95"/>
<rect x="445.37" y="325.47" width="9.70" height="63.93" fill="#e47a7c" stroke="#333" stroke-width="0.95"/>
<rect x="457.49" y="389.40" width="9.70" height="30.01" fill="#8fbbde" stroke="#333" stroke-width="0.95"/>
<rect x="469.61" y="381.59" width="9.70" height="7.81" fill="#8fbbde" stroke="#333" stroke-width="0.95"/>
<rect x="481.73" y="308.88" width="9.70" height="80.52" fill="#e47a7c" stroke="#333" stroke-width="0.95"/>
<rect x="493.85" y="388.42" width="9.70" height="0.98" fill="#8fbbde" stroke="#333" stroke-width="0.95"/>
<rect x="505.98" y="389.40" width="9.70" height="5.86" fill="#8fbbde" stroke="#333" stroke-width="0.95"/>
<rect x="518.10" y="389.40" width="9.70" height="4.15" fill="#8fbbde" stroke="#333" stroke-width="0.95"/>
<rect x="530.22" y="389.40" width="9.70" height="4.88" fill="#8fbbde" stroke="#333" stroke-width="0.95"/>
<rect x="542.34" y="387.45" width="9.70" height="1.95" fill="#8fbbde" stroke="#333" stroke-width="0.95"/>
<rect x="554.46" y="389.40" width="9.70" height="1.22" fill="#8fbbde" stroke="#333" stroke-width="0.95"/>
<rect x="566.58" y="389.40" width="9.70" height="6.59" fill="#8fbbde" stroke="#333" stroke-width="0.95"/>
<rect x="578.70" y="389.40" width="9.70" height="8.05" fill="#8fbbde" stroke="#333" stroke-width="0.95"/>
<rect x="590.82" y="389.40" width="9.70" height="6.10" fill="#8fbbde" stroke="#333" stroke-width="0.95"/>
<rect x="602.95" y="389.40" width="9.70" height="7.81" fill="#8fbbde" stroke="#333" stroke-width="0.95"/>
<rect x="615.07" y="389.40" width="9.70" height="4.15" fill="#8fbbde" stroke="#333" stroke-width="0.95"/>
<rect x="627.19" y="389.40" width="9.70" height="5.12" fill="#8fbbde" stroke="#333" stroke-width="0.95"/>
<rect x="639.31" y="371.34" width="9.70" height="18.06" fill="#8fbbde" stroke="#333" stroke-width="0.95"/>
<rect x="651.43" y="358.17" width="9.70" height="31.23" fill="#e47a7c" stroke="#333" stroke-width="0.95"/>
<rect x="256.4" y="303.4" width="424.00" height="122.00" fill="none" stroke="#555" stroke-width="1"/>
<line x1="254.20" y1="340.60" x2="256.40" y2="340.60" stroke="#555" stroke-width="0.8"/>
<text x="251.90" y="344.60" font-size="11.7" text-anchor="end" font-weight="normal" fill="#111">20</text>
<line x1="254.20" y1="389.40" x2="256.40" y2="389.40" stroke="#555" stroke-width="0.8"/>
<text x="251.90" y="393.40" font-size="11.7" text-anchor="end" font-weight="normal" fill="#111">0</text>
<text x="226.90" y="365.90" font-size="11.4" text-anchor="middle" font-weight="normal" fill="#111" transform="rotate(-90 226.90 365.90)">Atomic Energy (kcal/mol)</text>
<line x1="280.52" y1="425.40" x2="280.52" y2="427.70" stroke="#555" stroke-width="0.9"/>
<text x="283.82" y="429.90" font-size="8.7" text-anchor="end" font-weight="normal" fill="#111" transform="rotate(-90 283.82 429.90)" stroke="#111" stroke-width="0.18">O1</text>
<line x1="292.64" y1="425.40" x2="292.64" y2="427.70" stroke="#555" stroke-width="0.9"/>
<text x="295.94" y="429.90" font-size="8.7" text-anchor="end" font-weight="normal" fill="#111" transform="rotate(-90 295.94 429.90)" stroke="#111" stroke-width="0.18">C2</text>
<line x1="304.76" y1="425.40" x2="304.76" y2="427.70" stroke="#555" stroke-width="0.9"/>
<text x="308.06" y="429.90" font-size="8.7" text-anchor="end" font-weight="normal" fill="#111" transform="rotate(-90 308.06 429.90)" stroke="#111" stroke-width="0.18">N3</text>
<line x1="316.88" y1="425.40" x2="316.88" y2="427.70" stroke="#555" stroke-width="0.9"/>
<text x="320.18" y="429.90" font-size="8.7" text-anchor="end" font-weight="normal" fill="#111" transform="rotate(-90 320.18 429.90)" stroke="#111" stroke-width="0.18">C4</text>
<line x1="329.01" y1="425.40" x2="329.01" y2="427.70" stroke="#555" stroke-width="0.9"/>
<text x="332.31" y="429.90" font-size="8.7" text-anchor="end" font-weight="normal" fill="#111" transform="rotate(-90 332.31 429.90)" stroke="#111" stroke-width="0.18">N5</text>
<line x1="341.13" y1="425.40" x2="341.13" y2="427.70" stroke="#555" stroke-width="0.9"/>
<text x="344.43" y="429.90" font-size="8.7" text-anchor="end" font-weight="normal" fill="#111" transform="rotate(-90 344.43 429.90)" stroke="#111" stroke-width="0.18">C6</text>
<line x1="353.25" y1="425.40" x2="353.25" y2="427.70" stroke="#555" stroke-width="0.9"/>
<text x="356.55" y="429.90" font-size="8.7" text-anchor="end" font-weight="normal" fill="#111" transform="rotate(-90 356.55 429.90)" stroke="#111" stroke-width="0.18">N7</text>
<line x1="365.37" y1="425.40" x2="365.37" y2="427.70" stroke="#555" stroke-width="0.9"/>
<text x="368.67" y="429.90" font-size="8.7" text-anchor="end" font-weight="normal" fill="#111" transform="rotate(-90 368.67 429.90)" stroke="#111" stroke-width="0.18">C8</text>
<line x1="377.49" y1="425.40" x2="377.49" y2="427.70" stroke="#555" stroke-width="0.9"/>
<text x="380.79" y="429.90" font-size="8.7" text-anchor="end" font-weight="normal" fill="#111" transform="rotate(-90 380.79 429.90)" stroke="#111" stroke-width="0.18">C9</text>
<line x1="389.61" y1="425.40" x2="389.61" y2="427.70" stroke="#555" stroke-width="0.9"/>
<text x="392.91" y="429.90" font-size="8.7" text-anchor="end" font-weight="normal" fill="#111" transform="rotate(-90 392.91 429.90)" stroke="#111" stroke-width="0.18">C10</text>
<line x1="401.73" y1="425.40" x2="401.73" y2="427.70" stroke="#555" stroke-width="0.9"/>
<text x="405.03" y="429.90" font-size="8.7" text-anchor="end" font-weight="normal" fill="#111" transform="rotate(-90 405.03 429.90)" stroke="#111" stroke-width="0.18">N11</text>
<line x1="413.85" y1="425.40" x2="413.85" y2="427.70" stroke="#555" stroke-width="0.9"/>
<text x="417.15" y="429.90" font-size="8.7" text-anchor="end" font-weight="normal" fill="#111" transform="rotate(-90 417.15 429.90)" stroke="#111" stroke-width="0.18">C12</text>
<line x1="425.98" y1="425.40" x2="425.98" y2="427.70" stroke="#555" stroke-width="0.9"/>
<text x="429.28" y="429.90" font-size="8.7" text-anchor="end" font-weight="normal" fill="#111" transform="rotate(-90 429.28 429.90)" stroke="#111" stroke-width="0.18">C13</text>
<line x1="438.10" y1="425.40" x2="438.10" y2="427.70" stroke="#555" stroke-width="0.9"/>
<text x="441.40" y="429.90" font-size="8.7" text-anchor="end" font-weight="normal" fill="#111" transform="rotate(-90 441.40 429.90)" stroke="#111" stroke-width="0.18">C14</text>
<line x1="450.22" y1="425.40" x2="450.22" y2="427.70" stroke="#555" stroke-width="0.9"/>
<text x="453.52" y="429.90" font-size="8.7" text-anchor="end" font-weight="normal" fill="#111" transform="rotate(-90 453.52 429.90)" stroke="#111" stroke-width="0.18">C15</text>
<line x1="462.34" y1="425.40" x2="462.34" y2="427.70" stroke="#555" stroke-width="0.9"/>
<text x="465.64" y="429.90" font-size="8.7" text-anchor="end" font-weight="normal" fill="#111" transform="rotate(-90 465.64 429.90)" stroke="#111" stroke-width="0.18">O16</text>
<line x1="474.46" y1="425.40" x2="474.46" y2="427.70" stroke="#555" stroke-width="0.9"/>
<text x="477.76" y="429.90" font-size="8.7" text-anchor="end" font-weight="normal" fill="#111" transform="rotate(-90 477.76 429.90)" stroke="#111" stroke-width="0.18">H17</text>
<line x1="486.58" y1="425.40" x2="486.58" y2="427.70" stroke="#555" stroke-width="0.9"/>
<text x="489.88" y="429.90" font-size="8.7" text-anchor="end" font-weight="normal" fill="#111" transform="rotate(-90 489.88 429.90)" stroke="#111" stroke-width="0.18">H18</text>
<line x1="498.70" y1="425.40" x2="498.70" y2="427.70" stroke="#555" stroke-width="0.9"/>
<text x="502.00" y="429.90" font-size="8.7" text-anchor="end" font-weight="normal" fill="#111" transform="rotate(-90 502.00 429.90)" stroke="#111" stroke-width="0.18">H19</text>
<line x1="510.82" y1="425.40" x2="510.82" y2="427.70" stroke="#555" stroke-width="0.9"/>
<text x="514.12" y="429.90" font-size="8.7" text-anchor="end" font-weight="normal" fill="#111" transform="rotate(-90 514.12 429.90)" stroke="#111" stroke-width="0.18">H20</text>
<line x1="522.95" y1="425.40" x2="522.95" y2="427.70" stroke="#555" stroke-width="0.9"/>
<text x="526.25" y="429.90" font-size="8.7" text-anchor="end" font-weight="normal" fill="#111" transform="rotate(-90 526.25 429.90)" stroke="#111" stroke-width="0.18">H21</text>
<line x1="535.07" y1="425.40" x2="535.07" y2="427.70" stroke="#555" stroke-width="0.9"/>
<text x="538.37" y="429.90" font-size="8.7" text-anchor="end" font-weight="normal" fill="#111" transform="rotate(-90 538.37 429.90)" stroke="#111" stroke-width="0.18">H22</text>
<line x1="547.19" y1="425.40" x2="547.19" y2="427.70" stroke="#555" stroke-width="0.9"/>
<text x="550.49" y="429.90" font-size="8.7" text-anchor="end" font-weight="normal" fill="#111" transform="rotate(-90 550.49 429.90)" stroke="#111" stroke-width="0.18">H23</text>
<line x1="559.31" y1="425.40" x2="559.31" y2="427.70" stroke="#555" stroke-width="0.9"/>
<text x="562.61" y="429.90" font-size="8.7" text-anchor="end" font-weight="normal" fill="#111" transform="rotate(-90 562.61 429.90)" stroke="#111" stroke-width="0.18">H24</text>
<line x1="571.43" y1="425.40" x2="571.43" y2="427.70" stroke="#555" stroke-width="0.9"/>
<text x="574.73" y="429.90" font-size="8.7" text-anchor="end" font-weight="normal" fill="#111" transform="rotate(-90 574.73 429.90)" stroke="#111" stroke-width="0.18">H25</text>
<line x1="583.55" y1="425.40" x2="583.55" y2="427.70" stroke="#555" stroke-width="0.9"/>
<text x="586.85" y="429.90" font-size="8.7" text-anchor="end" font-weight="normal" fill="#111" transform="rotate(-90 586.85 429.90)" stroke="#111" stroke-width="0.18">H26</text>
<line x1="595.67" y1="425.40" x2="595.67" y2="427.70" stroke="#555" stroke-width="0.9"/>
<text x="598.97" y="429.90" font-size="8.7" text-anchor="end" font-weight="normal" fill="#111" transform="rotate(-90 598.97 429.90)" stroke="#111" stroke-width="0.18">H27</text>
<line x1="607.79" y1="425.40" x2="607.79" y2="427.70" stroke="#555" stroke-width="0.9"/>
<text x="611.09" y="429.90" font-size="8.7" text-anchor="end" font-weight="normal" fill="#111" transform="rotate(-90 611.09 429.90)" stroke="#111" stroke-width="0.18">H28</text>
<line x1="619.92" y1="425.40" x2="619.92" y2="427.70" stroke="#555" stroke-width="0.9"/>
<text x="623.22" y="429.90" font-size="8.7" text-anchor="end" font-weight="normal" fill="#111" transform="rotate(-90 623.22 429.90)" stroke="#111" stroke-width="0.18">H29</text>
<line x1="632.04" y1="425.40" x2="632.04" y2="427.70" stroke="#555" stroke-width="0.9"/>
<text x="635.34" y="429.90" font-size="8.7" text-anchor="end" font-weight="normal" fill="#111" transform="rotate(-90 635.34 429.90)" stroke="#111" stroke-width="0.18">H30</text>
<line x1="644.16" y1="425.40" x2="644.16" y2="427.70" stroke="#555" stroke-width="0.9"/>
<text x="647.46" y="429.90" font-size="8.7" text-anchor="end" font-weight="normal" fill="#111" transform="rotate(-90 647.46 429.90)" stroke="#111" stroke-width="0.18">H31</text>
<line x1="656.28" y1="425.40" x2="656.28" y2="427.70" stroke="#555" stroke-width="0.9"/>
<text x="659.58" y="429.90" font-size="8.7" text-anchor="end" font-weight="normal" fill="#111" transform="rotate(-90 659.58 429.90)" stroke="#111" stroke-width="0.18">H32</text>
<rect x="275.67" y="529.30" width="5.84" height="17.11" fill="#8fbbde" stroke="#333" stroke-width="0.95"/>
<rect x="282.97" y="529.30" width="5.84" height="32.97" fill="#8fbbde" stroke="#333" stroke-width="0.95"/>
<rect x="290.27" y="467.41" width="5.84" height="61.89" fill="#e47a7c" stroke="#333" stroke-width="0.95"/>
<rect x="297.57" y="529.30" width="5.84" height="14.93" fill="#8fbbde" stroke="#333" stroke-width="0.95"/>
<rect x="304.87" y="529.30" width="5.84" height="28.30" fill="#8fbbde" stroke="#333" stroke-width="0.95"/>
<rect x="312.17" y="471.76" width="5.84" height="57.53" fill="#e47a7c" stroke="#333" stroke-width="0.95"/>
<rect x="319.47" y="526.19" width="5.84" height="3.11" fill="#8fbbde" stroke="#333" stroke-width="0.95"/>
<rect x="326.77" y="529.30" width="5.84" height="16.48" fill="#8fbbde" stroke="#333" stroke-width="0.95"/>
<rect x="334.07" y="511.88" width="5.84" height="17.42" fill="#8fbbde" stroke="#333" stroke-width="0.95"/>
<rect x="341.38" y="529.30" width="5.84" height="25.50" fill="#8fbbde" stroke="#333" stroke-width="0.95"/>
<rect x="348.68" y="472.08" width="5.84" height="57.22" fill="#e47a7c" stroke="#333" stroke-width="0.95"/>
<rect x="355.98" y="526.19" width="5.84" height="3.11" fill="#8fbbde" stroke="#333" stroke-width="0.95"/>
<rect x="363.28" y="529.30" width="5.84" height="12.75" fill="#8fbbde" stroke="#333" stroke-width="0.95"/>
<rect x="370.58" y="529.30" width="5.84" height="37.01" fill="#8fbbde" stroke="#333" stroke-width="0.95"/>
<rect x="377.88" y="529.30" width="5.84" height="25.81" fill="#8fbbde" stroke="#333" stroke-width="0.95"/>
<rect x="385.18" y="501.62" width="5.84" height="27.68" fill="#8fbbde" stroke="#333" stroke-width="0.95"/>
<rect x="392.48" y="529.30" width="5.84" height="16.17" fill="#8fbbde" stroke="#333" stroke-width="0.95"/>
<rect x="399.78" y="492.60" width="5.84" height="36.70" fill="#e47a7c" stroke="#333" stroke-width="0.95"/>
<rect x="407.08" y="529.30" width="5.84" height="28.30" fill="#8fbbde" stroke="#333" stroke-width="0.95"/>
<rect x="414.38" y="529.30" width="5.84" height="32.65" fill="#8fbbde" stroke="#333" stroke-width="0.95"/>
<rect x="421.68" y="529.30" width="5.84" height="15.24" fill="#8fbbde" stroke="#333" stroke-width="0.95"/>
<rect x="428.98" y="529.30" width="5.84" height="16.48" fill="#8fbbde" stroke="#333" stroke-width="0.95"/>
<rect x="436.28" y="529.30" width="5.84" height="13.68" fill="#8fbbde" stroke="#333" stroke-width="0.95"/>
<rect x="443.58" y="529.30" width="5.84" height="9.95" fill="#8fbbde" stroke="#333" stroke-width="0.95"/>
<rect x="450.88" y="529.30" width="5.84" height="2.49" fill="#8fbbde" stroke="#333" stroke-width="0.95"/>
<rect x="458.18" y="526.81" width="5.84" height="2.49" fill="#8fbbde" stroke="#333" stroke-width="0.95"/>
<rect x="465.48" y="455.28" width="5.84" height="74.02" fill="#e47a7c" stroke="#333" stroke-width="0.95"/>
<rect x="472.78" y="529.30" width="5.84" height="2.80" fill="#8fbbde" stroke="#333" stroke-width="0.95"/>
<rect x="480.08" y="529.30" width="5.84" height="7.77" fill="#8fbbde" stroke="#333" stroke-width="0.95"/>
<rect x="487.38" y="529.30" width="5.84" height="9.02" fill="#8fbbde" stroke="#333" stroke-width="0.95"/>
<rect x="494.68" y="481.41" width="5.84" height="47.89" fill="#8fbbde" stroke="#333" stroke-width="0.95"/>
<rect x="501.98" y="526.19" width="5.84" height="3.11" fill="#8fbbde" stroke="#333" stroke-width="0.95"/>
<rect x="509.28" y="529.30" width="5.84" height="11.82" fill="#8fbbde" stroke="#333" stroke-width="0.95"/>
<rect x="516.58" y="529.30" width="5.84" height="5.29" fill="#8fbbde" stroke="#333" stroke-width="0.95"/>
<rect x="523.88" y="529.30" width="5.84" height="3.11" fill="#8fbbde" stroke="#333" stroke-width="0.95"/>
<rect x="531.18" y="522.15" width="5.84" height="7.15" fill="#8fbbde" stroke="#333" stroke-width="0.95"/>
<rect x="538.48" y="486.69" width="5.84" height="42.61" fill="#8fbbde" stroke="#333" stroke-width="0.95"/>
<rect x="545.78" y="529.30" width="5.84" height="10.26" fill="#8fbbde" stroke="#333" stroke-width="0.95"/>
<rect x="553.08" y="529.30" width="5.84" height="6.84" fill="#8fbbde" stroke="#333" stroke-width="0.95"/>
<rect x="560.38" y="529.30" width="5.84" height="8.09" fill="#8fbbde" stroke="#333" stroke-width="0.95"/>
<rect x="567.68" y="525.26" width="5.84" height="4.04" fill="#8fbbde" stroke="#333" stroke-width="0.95"/>
<rect x="574.98" y="529.30" width="5.84" height="4.98" fill="#8fbbde" stroke="#333" stroke-width="0.95"/>
<rect x="582.28" y="519.35" width="5.84" height="9.95" fill="#8fbbde" stroke="#333" stroke-width="0.95"/>
<rect x="589.58" y="528.99" width="5.84" height="0.31" fill="#8fbbde" stroke="#333" stroke-width="0.95"/>
<rect x="596.88" y="529.30" width="5.84" height="8.40" fill="#8fbbde" stroke="#333" stroke-width="0.95"/>
<rect x="604.19" y="529.30" width="5.84" height="8.09" fill="#8fbbde" stroke="#333" stroke-width="0.95"/>
<rect x="611.49" y="529.30" width="5.84" height="5.29" fill="#8fbbde" stroke="#333" stroke-width="0.95"/>
<rect x="618.79" y="529.30" width="5.84" height="6.84" fill="#8fbbde" stroke="#333" stroke-width="0.95"/>
<rect x="626.09" y="529.30" width="5.84" height="4.98" fill="#8fbbde" stroke="#333" stroke-width="0.95"/>
<rect x="633.39" y="529.30" width="5.84" height="7.15" fill="#8fbbde" stroke="#333" stroke-width="0.95"/>
<rect x="640.69" y="528.99" width="5.84" height="0.31" fill="#8fbbde" stroke="#333" stroke-width="0.95"/>
<rect x="647.99" y="529.30" width="5.84" height="7.15" fill="#8fbbde" stroke="#333" stroke-width="0.95"/>
<rect x="655.29" y="529.30" width="5.84" height="7.46" fill="#8fbbde" stroke="#333" stroke-width="0.95"/>
<rect x="256.4" y="449.4" width="424.00" height="121.90" fill="none" stroke="#555" stroke-width="1"/>
<line x1="254.20" y1="467.10" x2="256.40" y2="467.10" stroke="#555" stroke-width="0.8"/>
<text x="251.90" y="471.10" font-size="11.7" text-anchor="end" font-weight="normal" fill="#111">20</text>
<line x1="254.20" y1="498.20" x2="256.40" y2="498.20" stroke="#555" stroke-width="0.8"/>
<text x="251.90" y="502.20" font-size="11.7" text-anchor="end" font-weight="normal" fill="#111">10</text>
<line x1="254.20" y1="529.30" x2="256.40" y2="529.30" stroke="#555" stroke-width="0.8"/>
<text x="251.90" y="533.30" font-size="11.7" text-anchor="end" font-weight="normal" fill="#111">0</text>
<line x1="254.20" y1="560.40" x2="256.40" y2="560.40" stroke="#555" stroke-width="0.8"/>
<text x="251.90" y="564.40" font-size="11.7" text-anchor="end" font-weight="normal" fill="#111">-10</text>
<text x="226.90" y="514.00" font-size="11.4" text-anchor="middle" font-weight="normal" fill="#111" transform="rotate(-90 226.90 514.00)">Atomic Energy (kcal/mol)</text>
<line x1="278.59" y1="571.30" x2="278.59" y2="573.60" stroke="#555" stroke-width="0.9"/>
<text x="279.39" y="576.10" font-size="8.8" text-anchor="end" font-weight="normal" fill="#111" transform="rotate(-90 279.39 576.10)" stroke="#111" stroke-width="0.18">C1</text>
<line x1="285.89" y1="571.30" x2="285.89" y2="573.60" stroke="#555" stroke-width="0.9"/>
<text x="286.69" y="576.10" font-size="8.8" text-anchor="end" font-weight="normal" fill="#111" transform="rotate(-90 286.69 576.10)" stroke="#111" stroke-width="0.18">C2</text>
<line x1="293.19" y1="571.30" x2="293.19" y2="573.60" stroke="#555" stroke-width="0.9"/>
<text x="293.99" y="576.10" font-size="8.8" text-anchor="end" font-weight="normal" fill="#111" transform="rotate(-90 293.99 576.10)" stroke="#111" stroke-width="0.18">C3</text>
<line x1="300.49" y1="571.30" x2="300.49" y2="573.60" stroke="#555" stroke-width="0.9"/>
<text x="301.29" y="576.10" font-size="8.8" text-anchor="end" font-weight="normal" fill="#111" transform="rotate(-90 301.29 576.10)" stroke="#111" stroke-width="0.18">C4</text>
<line x1="307.79" y1="571.30" x2="307.79" y2="573.60" stroke="#555" stroke-width="0.9"/>
<text x="308.59" y="576.10" font-size="8.8" text-anchor="end" font-weight="normal" fill="#111" transform="rotate(-90 308.59 576.10)" stroke="#111" stroke-width="0.18">C5</text>
<line x1="315.09" y1="571.30" x2="315.09" y2="573.60" stroke="#555" stroke-width="0.9"/>
<text x="315.89" y="576.10" font-size="8.8" text-anchor="end" font-weight="normal" fill="#111" transform="rotate(-90 315.89 576.10)" stroke="#111" stroke-width="0.18">C6</text>
<line x1="322.39" y1="571.30" x2="322.39" y2="573.60" stroke="#555" stroke-width="0.9"/>
<text x="323.19" y="576.10" font-size="8.8" text-anchor="end" font-weight="normal" fill="#111" transform="rotate(-90 323.19 576.10)" stroke="#111" stroke-width="0.18">C7</text>
<line x1="329.69" y1="571.30" x2="329.69" y2="573.60" stroke="#555" stroke-width="0.9"/>
<text x="330.49" y="576.10" font-size="8.8" text-anchor="end" font-weight="normal" fill="#111" transform="rotate(-90 330.49 576.10)" stroke="#111" stroke-width="0.18">C8</text>
<line x1="337.00" y1="571.30" x2="337.00" y2="573.60" stroke="#555" stroke-width="0.9"/>
<text x="337.80" y="576.10" font-size="8.8" text-anchor="end" font-weight="normal" fill="#111" transform="rotate(-90 337.80 576.10)" stroke="#111" stroke-width="0.18">O9</text>
<line x1="344.30" y1="571.30" x2="344.30" y2="573.60" stroke="#555" stroke-width="0.9"/>
<text x="345.10" y="576.10" font-size="8.8" text-anchor="end" font-weight="normal" fill="#111" transform="rotate(-90 345.10 576.10)" stroke="#111" stroke-width="0.18">C10</text>
<line x1="351.60" y1="571.30" x2="351.60" y2="573.60" stroke="#555" stroke-width="0.9"/>
<text x="352.40" y="576.10" font-size="8.8" text-anchor="end" font-weight="normal" fill="#111" transform="rotate(-90 352.40 576.10)" stroke="#111" stroke-width="0.18">C11</text>
<line x1="358.90" y1="571.30" x2="358.90" y2="573.60" stroke="#555" stroke-width="0.9"/>
<text x="359.70" y="576.10" font-size="8.8" text-anchor="end" font-weight="normal" fill="#111" transform="rotate(-90 359.70 576.10)" stroke="#111" stroke-width="0.18">C12</text>
<line x1="366.20" y1="571.30" x2="366.20" y2="573.60" stroke="#555" stroke-width="0.9"/>
<text x="367.00" y="576.10" font-size="8.8" text-anchor="end" font-weight="normal" fill="#111" transform="rotate(-90 367.00 576.10)" stroke="#111" stroke-width="0.18">C13</text>
<line x1="373.50" y1="571.30" x2="373.50" y2="573.60" stroke="#555" stroke-width="0.9"/>
<text x="374.30" y="576.10" font-size="8.8" text-anchor="end" font-weight="normal" fill="#111" transform="rotate(-90 374.30 576.10)" stroke="#111" stroke-width="0.18">C14</text>
<line x1="380.80" y1="571.30" x2="380.80" y2="573.60" stroke="#555" stroke-width="0.9"/>
<text x="381.60" y="576.10" font-size="8.8" text-anchor="end" font-weight="normal" fill="#111" transform="rotate(-90 381.60 576.10)" stroke="#111" stroke-width="0.18">C15</text>
<line x1="388.10" y1="571.30" x2="388.10" y2="573.60" stroke="#555" stroke-width="0.9"/>
<text x="388.90" y="576.10" font-size="8.8" text-anchor="end" font-weight="normal" fill="#111" transform="rotate(-90 388.90 576.10)" stroke="#111" stroke-width="0.18">C16</text>
<line x1="395.40" y1="571.30" x2="395.40" y2="573.60" stroke="#555" stroke-width="0.9"/>
<text x="396.20" y="576.10" font-size="8.8" text-anchor="end" font-weight="normal" fill="#111" transform="rotate(-90 396.20 576.10)" stroke="#111" stroke-width="0.18">C17</text>
<line x1="402.70" y1="571.30" x2="402.70" y2="573.60" stroke="#555" stroke-width="0.9"/>
<text x="403.50" y="576.10" font-size="8.8" text-anchor="end" font-weight="normal" fill="#111" transform="rotate(-90 403.50 576.10)" stroke="#111" stroke-width="0.18">C18</text>
<line x1="410.00" y1="571.30" x2="410.00" y2="573.60" stroke="#555" stroke-width="0.9"/>
<text x="410.80" y="576.10" font-size="8.8" text-anchor="end" font-weight="normal" fill="#111" transform="rotate(-90 410.80 576.10)" stroke="#111" stroke-width="0.18">C19</text>
<line x1="417.30" y1="571.30" x2="417.30" y2="573.60" stroke="#555" stroke-width="0.9"/>
<text x="418.10" y="576.10" font-size="8.8" text-anchor="end" font-weight="normal" fill="#111" transform="rotate(-90 418.10 576.10)" stroke="#111" stroke-width="0.18">C20</text>
<line x1="424.60" y1="571.30" x2="424.60" y2="573.60" stroke="#555" stroke-width="0.9"/>
<text x="425.40" y="576.10" font-size="8.8" text-anchor="end" font-weight="normal" fill="#111" transform="rotate(-90 425.40 576.10)" stroke="#111" stroke-width="0.18">C21</text>
<line x1="431.90" y1="571.30" x2="431.90" y2="573.60" stroke="#555" stroke-width="0.9"/>
<text x="432.70" y="576.10" font-size="8.8" text-anchor="end" font-weight="normal" fill="#111" transform="rotate(-90 432.70 576.10)" stroke="#111" stroke-width="0.18">C22</text>
<line x1="439.20" y1="571.30" x2="439.20" y2="573.60" stroke="#555" stroke-width="0.9"/>
<text x="440.00" y="576.10" font-size="8.8" text-anchor="end" font-weight="normal" fill="#111" transform="rotate(-90 440.00 576.10)" stroke="#111" stroke-width="0.18">C23</text>
<line x1="446.50" y1="571.30" x2="446.50" y2="573.60" stroke="#555" stroke-width="0.9"/>
<text x="447.30" y="576.10" font-size="8.8" text-anchor="end" font-weight="normal" fill="#111" transform="rotate(-90 447.30 576.10)" stroke="#111" stroke-width="0.18">H24</text>
<line x1="453.80" y1="571.30" x2="453.80" y2="573.60" stroke="#555" stroke-width="0.9"/>
<text x="454.60" y="576.10" font-size="8.8" text-anchor="end" font-weight="normal" fill="#111" transform="rotate(-90 454.60 576.10)" stroke="#111" stroke-width="0.18">H25</text>
<line x1="461.10" y1="571.30" x2="461.10" y2="573.60" stroke="#555" stroke-width="0.9"/>
<text x="461.90" y="576.10" font-size="8.8" text-anchor="end" font-weight="normal" fill="#111" transform="rotate(-90 461.90 576.10)" stroke="#111" stroke-width="0.18">H26</text>
<line x1="468.40" y1="571.30" x2="468.40" y2="573.60" stroke="#555" stroke-width="0.9"/>
<text x="469.20" y="576.10" font-size="8.8" text-anchor="end" font-weight="normal" fill="#111" transform="rotate(-90 469.20 576.10)" stroke="#111" stroke-width="0.18">H27</text>
<line x1="475.70" y1="571.30" x2="475.70" y2="573.60" stroke="#555" stroke-width="0.9"/>
<text x="476.50" y="576.10" font-size="8.8" text-anchor="end" font-weight="normal" fill="#111" transform="rotate(-90 476.50 576.10)" stroke="#111" stroke-width="0.18">H28</text>
<line x1="483.00" y1="571.30" x2="483.00" y2="573.60" stroke="#555" stroke-width="0.9"/>
<text x="483.80" y="576.10" font-size="8.8" text-anchor="end" font-weight="normal" fill="#111" transform="rotate(-90 483.80 576.10)" stroke="#111" stroke-width="0.18">H29</text>
<line x1="490.30" y1="571.30" x2="490.30" y2="573.60" stroke="#555" stroke-width="0.9"/>
<text x="491.10" y="576.10" font-size="8.8" text-anchor="end" font-weight="normal" fill="#111" transform="rotate(-90 491.10 576.10)" stroke="#111" stroke-width="0.18">H30</text>
<line x1="497.60" y1="571.30" x2="497.60" y2="573.60" stroke="#555" stroke-width="0.9"/>
<text x="498.40" y="576.10" font-size="8.8" text-anchor="end" font-weight="normal" fill="#111" transform="rotate(-90 498.40 576.10)" stroke="#111" stroke-width="0.18">H31</text>
<line x1="504.90" y1="571.30" x2="504.90" y2="573.60" stroke="#555" stroke-width="0.9"/>
<text x="505.70" y="576.10" font-size="8.8" text-anchor="end" font-weight="normal" fill="#111" transform="rotate(-90 505.70 576.10)" stroke="#111" stroke-width="0.18">H32</text>
<line x1="512.20" y1="571.30" x2="512.20" y2="573.60" stroke="#555" stroke-width="0.9"/>
<text x="513.00" y="576.10" font-size="8.8" text-anchor="end" font-weight="normal" fill="#111" transform="rotate(-90 513.00 576.10)" stroke="#111" stroke-width="0.18">H33</text>
<line x1="519.50" y1="571.30" x2="519.50" y2="573.60" stroke="#555" stroke-width="0.9"/>
<text x="520.30" y="576.10" font-size="8.8" text-anchor="end" font-weight="normal" fill="#111" transform="rotate(-90 520.30 576.10)" stroke="#111" stroke-width="0.18">H34</text>
<line x1="526.80" y1="571.30" x2="526.80" y2="573.60" stroke="#555" stroke-width="0.9"/>
<text x="527.60" y="576.10" font-size="8.8" text-anchor="end" font-weight="normal" fill="#111" transform="rotate(-90 527.60 576.10)" stroke="#111" stroke-width="0.18">H35</text>
<line x1="534.10" y1="571.30" x2="534.10" y2="573.60" stroke="#555" stroke-width="0.9"/>
<text x="534.90" y="576.10" font-size="8.8" text-anchor="end" font-weight="normal" fill="#111" transform="rotate(-90 534.90 576.10)" stroke="#111" stroke-width="0.18">H36</text>
<line x1="541.40" y1="571.30" x2="541.40" y2="573.60" stroke="#555" stroke-width="0.9"/>
<text x="542.20" y="576.10" font-size="8.8" text-anchor="end" font-weight="normal" fill="#111" transform="rotate(-90 542.20 576.10)" stroke="#111" stroke-width="0.18">H37</text>
<line x1="548.70" y1="571.30" x2="548.70" y2="573.60" stroke="#555" stroke-width="0.9"/>
<text x="549.50" y="576.10" font-size="8.8" text-anchor="end" font-weight="normal" fill="#111" transform="rotate(-90 549.50 576.10)" stroke="#111" stroke-width="0.18">H38</text>
<line x1="556.00" y1="571.30" x2="556.00" y2="573.60" stroke="#555" stroke-width="0.9"/>
<text x="556.80" y="576.10" font-size="8.8" text-anchor="end" font-weight="normal" fill="#111" transform="rotate(-90 556.80 576.10)" stroke="#111" stroke-width="0.18">H39</text>
<line x1="563.30" y1="571.30" x2="563.30" y2="573.60" stroke="#555" stroke-width="0.9"/>
<text x="564.10" y="576.10" font-size="8.8" text-anchor="end" font-weight="normal" fill="#111" transform="rotate(-90 564.10 576.10)" stroke="#111" stroke-width="0.18">H40</text>
<line x1="570.60" y1="571.30" x2="570.60" y2="573.60" stroke="#555" stroke-width="0.9"/>
<text x="571.40" y="576.10" font-size="8.8" text-anchor="end" font-weight="normal" fill="#111" transform="rotate(-90 571.40 576.10)" stroke="#111" stroke-width="0.18">H41</text>
<line x1="577.90" y1="571.30" x2="577.90" y2="573.60" stroke="#555" stroke-width="0.9"/>
<text x="578.70" y="576.10" font-size="8.8" text-anchor="end" font-weight="normal" fill="#111" transform="rotate(-90 578.70 576.10)" stroke="#111" stroke-width="0.18">H42</text>
<line x1="585.20" y1="571.30" x2="585.20" y2="573.60" stroke="#555" stroke-width="0.9"/>
<text x="586.00" y="576.10" font-size="8.8" text-anchor="end" font-weight="normal" fill="#111" transform="rotate(-90 586.00 576.10)" stroke="#111" stroke-width="0.18">H43</text>
<line x1="592.50" y1="571.30" x2="592.50" y2="573.60" stroke="#555" stroke-width="0.9"/>
<text x="593.30" y="576.10" font-size="8.8" text-anchor="end" font-weight="normal" fill="#111" transform="rotate(-90 593.30 576.10)" stroke="#111" stroke-width="0.18">H44</text>
<line x1="599.80" y1="571.30" x2="599.80" y2="573.60" stroke="#555" stroke-width="0.9"/>
<text x="600.60" y="576.10" font-size="8.8" text-anchor="end" font-weight="normal" fill="#111" transform="rotate(-90 600.60 576.10)" stroke="#111" stroke-width="0.18">H45</text>
<line x1="607.11" y1="571.30" x2="607.11" y2="573.60" stroke="#555" stroke-width="0.9"/>
<text x="607.91" y="576.10" font-size="8.8" text-anchor="end" font-weight="normal" fill="#111" transform="rotate(-90 607.91 576.10)" stroke="#111" stroke-width="0.18">H46</text>
<line x1="614.41" y1="571.30" x2="614.41" y2="573.60" stroke="#555" stroke-width="0.9"/>
<text x="615.21" y="576.10" font-size="8.8" text-anchor="end" font-weight="normal" fill="#111" transform="rotate(-90 615.21 576.10)" stroke="#111" stroke-width="0.18">H47</text>
<line x1="621.71" y1="571.30" x2="621.71" y2="573.60" stroke="#555" stroke-width="0.9"/>
<text x="622.51" y="576.10" font-size="8.8" text-anchor="end" font-weight="normal" fill="#111" transform="rotate(-90 622.51 576.10)" stroke="#111" stroke-width="0.18">H48</text>
<line x1="629.01" y1="571.30" x2="629.01" y2="573.60" stroke="#555" stroke-width="0.9"/>
<text x="629.81" y="576.10" font-size="8.8" text-anchor="end" font-weight="normal" fill="#111" transform="rotate(-90 629.81 576.10)" stroke="#111" stroke-width="0.18">H49</text>
<line x1="636.31" y1="571.30" x2="636.31" y2="573.60" stroke="#555" stroke-width="0.9"/>
<text x="637.11" y="576.10" font-size="8.8" text-anchor="end" font-weight="normal" fill="#111" transform="rotate(-90 637.11 576.10)" stroke="#111" stroke-width="0.18">H50</text>
<line x1="643.61" y1="571.30" x2="643.61" y2="573.60" stroke="#555" stroke-width="0.9"/>
<text x="644.41" y="576.10" font-size="8.8" text-anchor="end" font-weight="normal" fill="#111" transform="rotate(-90 644.41 576.10)" stroke="#111" stroke-width="0.18">H51</text>
<line x1="650.91" y1="571.30" x2="650.91" y2="573.60" stroke="#555" stroke-width="0.9"/>
<text x="651.71" y="576.10" font-size="8.8" text-anchor="end" font-weight="normal" fill="#111" transform="rotate(-90 651.71 576.10)" stroke="#111" stroke-width="0.18">H52</text>
<line x1="658.21" y1="571.30" x2="658.21" y2="573.60" stroke="#555" stroke-width="0.9"/>
<text x="659.01" y="576.10" font-size="8.8" text-anchor="end" font-weight="normal" fill="#111" transform="rotate(-90 659.01 576.10)" stroke="#111" stroke-width="0.18">H53</text>
<line x1="0" y1="151.6" x2="682" y2="151.6" stroke="#9a9a9a" stroke-width="1" stroke-dasharray="3 1.5"/>
<line x1="0" y1="298.9" x2="682" y2="298.9" stroke="#9a9a9a" stroke-width="1" stroke-dasharray="3 1.5"/>
<line x1="0" y1="447.4" x2="682" y2="447.4" stroke="#9a9a9a" stroke-width="1" stroke-dasharray="3 1.5"/>
<line x1="0" y1="594.4" x2="682" y2="594.4" stroke="#9a9a9a" stroke-width="1" stroke-dasharray="3 1.5"/>
<text x="0.80" y="9.70" font-size="17.5" text-anchor="start" font-weight="normal" fill="#111">a</text>
<text x="2.10" y="171.70" font-size="17.5" text-anchor="start" font-weight="normal" fill="#111">b</text>
<text x="3.40" y="315.60" font-size="17.5" text-anchor="start" font-weight="normal" fill="#111">c</text>
<text x="3.40" y="464.50" font-size="17.5" text-anchor="start" font-weight="normal" fill="#111">d</text>
<text x="2.00" y="607.10" font-size="18.0" text-anchor="start" font-weight="normal" fill="#111">e</text>
<text x="18.90" y="29.20" font-size="12.6" text-anchor="start" font-weight="bold" fill="#111">H: 0.87</text>
<text x="19.50" y="183.20" font-size="12.6" text-anchor="start" font-weight="bold" fill="#111">H: 0.99</text>
<text x="19.50" y="332.60" font-size="12.6" text-anchor="start" font-weight="bold" fill="#111">H: 0.88</text>
<text x="19.50" y="478.20" font-size="12.6" text-anchor="start" font-weight="bold" fill="#111">H: 0.92</text>
<line x1="124.00" y1="620.1" x2="124.00" y2="774.2" stroke="#d4d4d4" stroke-width="0.8"/>
<line x1="187.50" y1="620.1" x2="187.50" y2="774.2" stroke="#d4d4d4" stroke-width="0.8"/>
<line x1="251.00" y1="620.1" x2="251.00" y2="774.2" stroke="#d4d4d4" stroke-width="0.8"/>
<line x1="314.50" y1="620.1" x2="314.50" y2="774.2" stroke="#d4d4d4" stroke-width="0.8"/>
<line x1="60.5" y1="748.52" x2="378.0" y2="748.52" stroke="#d4d4d4" stroke-width="0.8"/>
<line x1="60.5" y1="722.83" x2="378.0" y2="722.83" stroke="#d4d4d4" stroke-width="0.8"/>
<line x1="60.5" y1="697.15" x2="378.0" y2="697.15" stroke="#d4d4d4" stroke-width="0.8"/>
<line x1="60.5" y1="671.47" x2="378.0" y2="671.47" stroke="#d4d4d4" stroke-width="0.8"/>
<line x1="60.5" y1="645.78" x2="378.0" y2="645.78" stroke="#d4d4d4" stroke-width="0.8"/>
<path d="M60.15,748.16 L61.42,748.90 L62.69,749.30 L63.95,749.99 L65.45,750.38 L66.94,750.36 L68.43,750.69 L70.11,750.71 L71.79,749.75 L73.47,748.05 L75.15,746.90 L76.83,743.18 L78.51,740.08 L80.18,735.91 L81.86,732.10 L83.54,726.72 L85.22,722.03 L86.90,716.59 L88.58,710.75 L90.26,705.31 L91.94,699.67 L93.62,694.20 L95.30,689.65 L96.97,685.62 L98.65,681.50 L100.33,678.51 L102.01,676.30 L103.69,673.22 L105.37,670.60 L107.05,667.91 L108.73,665.00 L110.41,662.90 L112.09,660.30 L113.76,658.90 L115.44,656.97 L117.12,655.64 L118.80,653.92 L120.48,651.13 L122.16,648.92 L123.84,646.74 L125.52,645.02 L127.20,642.98 L128.88,641.43 L130.55,638.96 L132.23,636.87 L133.91,635.66 L135.59,634.52 L137.27,634.12 L138.95,633.56 L140.63,633.56 L142.31,633.19 L143.99,633.36 L145.66,633.31 L147.34,632.73 L149.02,631.83 L150.70,630.47 L152.38,629.95 L154.06,629.47 L155.74,628.86 L157.42,628.29 L159.10,628.06 L160.78,627.48 L162.45,627.69 L163.95,627.81 L165.44,627.91 L166.93,628.05 L168.42,628.31 L169.92,628.10 L171.41,627.17 L172.71,627.70 L174.02,627.46 L175.27,627.27 L176.52,627.37 L177.77,627.71 L179.02,627.78 L180.27,627.20 L181.52,627.60 L182.78,627.20 L184.09,627.58 L185.40,627.23 L186.72,627.52 L188.03,627.51 L189.43,627.52 L190.83,628.22 L192.24,628.09 L193.64,628.27 L195.04,628.99 L196.29,629.02 L197.54,629.56 L198.79,630.13 L200.04,630.70 L201.30,630.81 L202.55,631.15 L203.80,632.16 L205.05,632.07 L206.30,632.82 L207.55,633.08 L208.80,633.01 L210.06,633.37 L211.31,633.72 L212.56,634.10 L213.81,634.32 L215.06,634.54 L216.31,634.84 L217.56,635.31 L218.81,635.26 L220.07,635.45 L221.32,635.91 L222.57,635.77 L223.82,636.01 L225.07,636.69 L226.32,636.57 L227.57,636.79 L228.83,636.61 L230.08,637.10 L231.33,637.39 L232.58,637.17 L233.83,637.76 L235.08,637.95 L236.33,637.72 L237.59,638.30 L238.84,638.36 L240.09,638.66 L241.34,638.58 L242.59,638.98 L243.84,639.15 L245.09,638.80 L246.34,638.97 L247.60,639.56 L248.85,639.81 L250.10,639.53 L251.35,639.58 L252.60,639.63 L253.85,639.68 L255.10,639.73 L256.36,639.78 L257.61,639.83 L258.86,639.88 L260.11,639.93 L261.36,639.98 L262.61,640.03 L263.86,640.08 L265.12,640.13 L266.36,640.15 L267.60,640.16 L268.84,640.18 L270.08,640.19 L271.32,640.21 L272.56,640.22 L273.80,640.24 L275.04,640.25 L276.28,640.26 L277.53,640.28 L278.77,640.29 L280.01,640.31 L281.26,640.31 L282.51,640.31 L283.76,640.31 L285.02,640.31 L286.27,640.31 L287.52,640.31 L288.77,640.27 L290.02,640.23 L291.27,640.20 L292.52,640.16 L293.78,640.12 L295.03,640.08 L296.28,640.05 L297.53,640.01 L298.78,639.97 L300.03,639.93 L301.28,639.90 L302.54,639.86 L303.79,639.82 L305.04,639.78 L306.39,639.71 L307.74,639.63 L309.09,639.56 L310.44,639.48 L311.80,639.41 L313.15,639.33 L314.50,639.26 L315.70,639.21 L316.90,639.16 L318.10,639.11 L319.30,639.06 L320.51,639.01 L321.71,638.96 L322.91,638.91 L324.11,638.86 L325.31,638.81 L326.51,638.76 L327.71,638.71 L328.91,638.66 L330.12,638.61 L331.32,638.56 L332.57,638.52 L333.82,638.48 L335.07,638.44 L336.32,638.41 L337.57,638.37 L338.83,638.33 L340.08,638.29 L341.33,638.26 L342.58,638.22 L343.83,638.18 L345.08,638.14 L346.33,638.11 L347.59,638.07 L348.84,638.03 L350.09,638.01 L351.34,637.98 L352.59,637.96 L353.84,637.93 L355.09,637.91 L356.34,637.88 L357.60,637.86 L358.85,637.83 L360.10,637.81 L361.35,637.78 L362.60,637.76 L363.85,637.73 L365.10,637.71 L366.36,637.68 L367.56,637.66 L368.77,637.65 L369.98,637.63 L371.19,637.61 L372.40,637.59 L373.61,637.58 L374.82,637.56 L376.03,637.54 L377.24,637.52 L378.44,637.51" fill="none" stroke="#faaf38" stroke-width="1.4" stroke-linejoin="round"/>
<path d="M60.15,739.22 L61.42,740.63 L62.69,742.00 L63.95,743.07 L65.45,743.85 L66.94,744.56 L68.43,745.35 L70.11,745.17 L71.79,744.63 L73.47,743.34 L75.15,742.27 L76.83,738.95 L78.51,736.53 L80.18,732.73 L81.86,728.51 L83.54,723.98 L85.22,719.91 L86.90,715.03 L88.58,710.52 L90.26,706.78 L91.94,703.04 L93.62,699.27 L95.30,696.06 L96.97,693.27 L98.65,690.82 L100.33,688.31 L102.01,686.36 L103.69,683.64 L105.37,681.52 L107.05,680.06 L108.73,678.55 L110.41,677.12 L112.09,675.85 L113.76,674.66 L115.44,673.82 L117.12,671.35 L118.80,669.54 L120.48,667.88 L122.16,665.74 L123.84,664.13 L125.52,662.82 L127.20,661.03 L128.88,659.46 L130.55,658.02 L132.23,656.75 L133.91,655.19 L135.59,653.86 L137.27,651.81 L138.95,650.19 L140.63,649.12 L142.31,648.00 L143.99,647.21 L145.66,646.78 L147.34,645.35 L149.02,644.35 L150.70,644.23 L152.38,643.40 L154.06,643.14 L155.74,642.41 L157.23,642.78 L158.72,642.76 L160.22,642.27 L161.71,642.48 L163.20,642.40 L164.69,642.13 L166.19,641.80 L167.68,641.42 L169.17,641.23 L170.38,641.11 L171.59,640.96 L172.80,641.29 L174.02,641.04 L175.42,641.75 L176.82,641.57 L178.22,642.52 L179.62,642.72 L181.02,643.23 L182.42,643.39 L183.83,643.57 L185.23,643.52 L186.63,643.30 L188.03,643.98 L189.78,643.49 L191.53,643.50 L192.85,644.41 L194.16,644.97 L195.48,645.55 L196.79,646.57 L198.04,646.54 L199.29,646.55 L200.54,646.69 L201.80,647.32 L203.05,647.25 L204.30,647.66 L205.55,647.56 L206.95,647.38 L208.35,647.55 L209.75,647.68 L211.16,647.16 L212.56,647.52 L213.81,647.54 L215.06,647.38 L216.31,647.32 L217.56,646.67 L218.81,647.03 L220.07,647.12 L221.32,646.48 L222.57,646.71 L223.82,646.78 L225.07,647.03 L226.32,647.04 L227.57,647.15 L228.83,647.43 L230.08,646.97 L231.33,647.10 L232.58,647.26 L233.83,647.35 L235.08,647.41 L236.33,648.15 L237.59,648.16 L238.84,647.73 L240.09,648.04 L241.34,647.94 L242.59,647.96 L243.84,648.01 L245.09,648.24 L246.34,648.23 L247.60,648.09 L248.85,647.98 L250.10,648.19 L251.35,648.19 L252.60,648.19 L253.85,648.19 L255.10,648.19 L256.36,648.19 L257.61,648.19 L258.86,648.19 L260.11,648.19 L261.36,648.19 L262.61,648.19 L263.86,648.19 L265.12,648.19 L266.36,648.15 L267.60,648.10 L268.84,648.06 L270.08,648.02 L271.32,647.97 L272.56,647.93 L273.80,647.89 L275.04,647.84 L276.28,647.80 L277.53,647.75 L278.77,647.71 L280.01,647.67 L281.26,647.67 L282.51,647.67 L283.76,647.67 L285.02,647.67 L286.27,647.67 L287.52,647.67 L288.77,647.59 L290.02,647.52 L291.27,647.44 L292.52,647.37 L293.78,647.29 L295.03,647.22 L296.28,647.14 L297.53,647.04 L298.78,646.94 L300.03,646.84 L301.28,646.74 L302.54,646.64 L303.79,646.54 L305.04,646.44 L306.39,646.39 L307.74,646.34 L309.09,646.29 L310.44,646.24 L311.80,646.19 L313.15,646.14 L314.50,646.09 L315.70,646.05 L316.90,646.01 L318.10,645.98 L319.30,645.94 L320.51,645.90 L321.71,645.86 L322.91,645.83 L324.11,645.79 L325.31,645.75 L326.51,645.71 L327.71,645.68 L328.91,645.64 L330.12,645.60 L331.32,645.56 L332.57,645.53 L333.82,645.49 L335.07,645.45 L336.32,645.41 L337.57,645.38 L338.83,645.34 L340.08,645.30 L341.33,645.26 L342.58,645.23 L343.83,645.19 L345.08,645.15 L346.33,645.11 L347.59,645.08 L348.84,645.04 L350.09,645.01 L351.34,644.99 L352.59,644.96 L353.84,644.94 L355.09,644.91 L356.34,644.89 L357.60,644.86 L358.85,644.84 L360.10,644.81 L361.35,644.79 L362.60,644.76 L363.85,644.74 L365.10,644.71 L366.36,644.69 L367.56,644.65 L368.77,644.62 L369.98,644.58 L371.19,644.55 L372.40,644.51 L373.61,644.48 L374.82,644.44 L376.03,644.41 L377.24,644.37 L378.44,644.34" fill="none" stroke="#04598f" stroke-width="1.4" stroke-linejoin="round"/>
<path d="M60.15,731.89 L61.42,732.12 L62.69,732.79 L63.95,733.28 L65.45,733.79 L66.94,734.32 L68.43,735.14 L70.11,734.72 L71.79,734.32 L73.47,732.76 L75.15,730.80 L76.83,728.30 L78.51,725.38 L80.18,720.76 L81.86,716.25 L83.54,711.30 L85.22,706.40 L86.90,701.17 L88.58,696.32 L90.26,691.12 L91.94,685.94 L93.62,681.66 L95.30,677.30 L96.97,673.50 L98.65,670.39 L100.33,668.15 L102.01,666.23 L103.69,663.47 L105.37,660.28 L107.05,657.85 L108.73,654.98 L110.41,652.37 L112.09,650.27 L113.76,648.91 L115.44,648.28 L116.94,647.42 L118.43,646.84 L119.92,646.02 L121.60,644.82 L123.28,643.74 L124.96,640.83 L126.64,637.71 L128.32,636.93 L129.99,635.40 L131.67,634.38 L133.35,633.70 L135.03,632.29 L136.71,631.43 L138.39,631.43 L140.07,631.98 L141.75,632.16 L143.43,632.72 L145.11,632.96 L146.78,632.12 L148.28,632.40 L149.77,632.06 L151.26,631.95 L152.75,631.88 L154.25,631.47 L155.74,631.48 L157.42,631.17 L159.10,631.90 L160.78,632.39 L162.45,633.21 L163.95,633.31 L165.44,634.28 L166.93,634.93 L168.35,634.30 L169.77,634.46 L171.18,634.61 L172.60,634.78 L174.02,634.35 L175.27,634.55 L176.52,634.85 L177.77,635.36 L179.02,635.71 L180.27,635.70 L181.52,635.94 L182.78,636.21 L184.18,636.17 L185.58,636.22 L186.98,635.99 L188.38,636.28 L189.78,636.61 L191.10,636.66 L192.41,637.33 L193.72,637.36 L195.04,638.16 L196.29,638.71 L197.54,639.15 L198.79,639.54 L200.04,640.02 L201.30,640.63 L202.55,641.31 L203.80,641.29 L205.05,641.70 L206.30,642.61 L207.55,643.18 L208.80,643.35 L210.06,643.75 L211.31,644.39 L212.56,644.47 L213.81,644.83 L215.06,645.08 L216.31,645.65 L217.56,645.76 L218.81,646.00 L220.07,646.62 L221.32,647.11 L222.57,646.90 L223.82,647.43 L225.07,647.48 L226.32,648.04 L227.57,648.10 L228.83,648.13 L230.08,648.34 L231.33,648.46 L232.58,649.03 L233.83,649.21 L235.08,649.31 L236.33,649.70 L237.59,649.92 L238.84,650.49 L240.09,650.20 L241.34,650.94 L242.59,650.73 L243.84,650.96 L245.09,651.02 L246.34,651.43 L247.60,651.57 L248.85,651.44 L250.10,651.45 L251.35,651.50 L252.60,651.55 L253.85,651.60 L255.10,651.65 L256.36,651.70 L257.61,651.75 L258.86,651.80 L260.11,651.85 L261.36,651.90 L262.61,651.95 L263.86,652.00 L265.12,652.05 L266.36,652.06 L267.60,652.08 L268.84,652.09 L270.08,652.10 L271.32,652.12 L272.56,652.13 L273.80,652.15 L275.04,652.16 L276.28,652.18 L277.53,652.19 L278.77,652.21 L280.01,652.22 L281.26,652.19 L282.51,652.16 L283.76,652.13 L285.02,652.10 L286.27,652.08 L287.52,652.05 L288.77,652.01 L290.02,651.97 L291.27,651.93 L292.52,651.90 L293.78,651.86 L295.03,651.82 L296.28,651.78 L297.53,651.75 L298.78,651.71 L300.03,651.67 L301.28,651.63 L302.54,651.60 L303.79,651.56 L305.04,651.52 L306.39,651.47 L307.74,651.42 L309.09,651.37 L310.44,651.32 L311.80,651.27 L313.15,651.22 L314.50,651.17 L315.70,651.15 L316.90,651.12 L318.10,651.10 L319.30,651.07 L320.51,651.05 L321.71,651.02 L322.91,651.00 L324.11,650.97 L325.31,650.95 L326.51,650.92 L327.71,650.89 L328.91,650.87 L330.12,650.84 L331.32,650.82 L332.57,650.79 L333.82,650.77 L335.07,650.74 L336.32,650.72 L337.57,650.69 L338.83,650.67 L340.08,650.64 L341.33,650.62 L342.58,650.59 L343.83,650.57 L345.08,650.54 L346.33,650.52 L347.59,650.49 L348.84,650.47 L350.09,650.44 L351.34,650.42 L352.59,650.39 L353.84,650.37 L355.09,650.34 L356.34,650.32 L357.60,650.29 L358.85,650.27 L360.10,650.24 L361.35,650.22 L362.60,650.19 L363.85,650.17 L365.10,650.14 L366.36,650.12 L367.56,650.08 L368.77,650.05 L369.98,650.01 L371.19,649.98 L372.40,649.94 L373.61,649.91 L374.82,649.87 L376.03,649.84 L377.24,649.80 L378.44,649.77" fill="none" stroke="#dc1450" stroke-width="1.4" stroke-linejoin="round"/>
<rect x="60.5" y="620.1" width="317.50" height="154.10" fill="none" stroke="#7a7a7a" stroke-width="0.9"/>
<line x1="58.30" y1="620.10" x2="60.5" y2="620.10" stroke="#7a7a7a" stroke-width="0.8"/>
<text x="56.30" y="625.20" font-size="11.7" text-anchor="end" font-weight="normal" fill="#111">0.80</text>
<line x1="58.30" y1="645.78" x2="60.5" y2="645.78" stroke="#7a7a7a" stroke-width="0.8"/>
<text x="56.30" y="650.88" font-size="11.7" text-anchor="end" font-weight="normal" fill="#111">0.75</text>
<line x1="58.30" y1="671.47" x2="60.5" y2="671.47" stroke="#7a7a7a" stroke-width="0.8"/>
<text x="56.30" y="676.57" font-size="11.7" text-anchor="end" font-weight="normal" fill="#111">0.70</text>
<line x1="58.30" y1="697.15" x2="60.5" y2="697.15" stroke="#7a7a7a" stroke-width="0.8"/>
<text x="56.30" y="702.25" font-size="11.7" text-anchor="end" font-weight="normal" fill="#111">0.65</text>
<line x1="58.30" y1="722.83" x2="60.5" y2="722.83" stroke="#7a7a7a" stroke-width="0.8"/>
<text x="56.30" y="727.93" font-size="11.7" text-anchor="end" font-weight="normal" fill="#111">0.60</text>
<line x1="58.30" y1="748.52" x2="60.5" y2="748.52" stroke="#7a7a7a" stroke-width="0.8"/>
<text x="56.30" y="753.62" font-size="11.7" text-anchor="end" font-weight="normal" fill="#111">0.55</text>
<line x1="58.30" y1="774.20" x2="60.5" y2="774.20" stroke="#7a7a7a" stroke-width="0.8"/>
<text x="56.30" y="779.30" font-size="11.7" text-anchor="end" font-weight="normal" fill="#111">0.50</text>
<line x1="60.50" y1="774.2" x2="60.50" y2="776.40" stroke="#7a7a7a" stroke-width="0.8"/>
<text x="59.60" y="786.90" font-size="11.7" text-anchor="middle" font-weight="normal" fill="#111">0</text>
<line x1="124.00" y1="774.2" x2="124.00" y2="776.40" stroke="#7a7a7a" stroke-width="0.8"/>
<text x="123.10" y="786.90" font-size="11.7" text-anchor="middle" font-weight="normal" fill="#111">200</text>
<line x1="187.50" y1="774.2" x2="187.50" y2="776.40" stroke="#7a7a7a" stroke-width="0.8"/>
<text x="186.60" y="786.90" font-size="11.7" text-anchor="middle" font-weight="normal" fill="#111">400</text>
<line x1="251.00" y1="774.2" x2="251.00" y2="776.40" stroke="#7a7a7a" stroke-width="0.8"/>
<text x="250.10" y="786.90" font-size="11.7" text-anchor="middle" font-weight="normal" fill="#111">600</text>
<line x1="314.50" y1="774.2" x2="314.50" y2="776.40" stroke="#7a7a7a" stroke-width="0.8"/>
<text x="313.60" y="786.90" font-size="11.7" text-anchor="middle" font-weight="normal" fill="#111">800</text>
<line x1="378.00" y1="774.2" x2="378.00" y2="776.40" stroke="#7a7a7a" stroke-width="0.8"/>
<text x="377.10" y="786.90" font-size="11.7" text-anchor="middle" font-weight="normal" fill="#111">1000</text>
<text x="27.40" y="702.70" font-size="11.4" text-anchor="middle" font-weight="normal" fill="#111" transform="rotate(-90 27.40 702.70)">Weighted F1 Score</text>
<text x="121.6" y="801.0" font-size="11.4" fill="#111">&#916;<tspan font-style="italic">E</tspan> threshold for labeling (kcal/mol)</text>
<rect x="268.4" y="726.1" width="96.9" height="36.5" fill="#fff" stroke="#444" stroke-width="0.7"/>
<line x1="275.2" y1="734.8" x2="294.1" y2="734.8" stroke="#dc1450" stroke-width="1.8"/>
<text x="296.60" y="737.70" font-size="7.9" text-anchor="start" font-weight="normal" fill="#111">HEAD with entropy</text>
<line x1="275.2" y1="744.9" x2="294.1" y2="744.9" stroke="#04598f" stroke-width="1.8"/>
<text x="296.60" y="747.80" font-size="7.9" text-anchor="start" font-weight="normal" fill="#111">PoseBusters</text>
<line x1="275.2" y1="754.8" x2="294.1" y2="754.8" stroke="#faaf38" stroke-width="1.8"/>
<text x="296.60" y="757.70" font-size="7.9" text-anchor="start" font-weight="normal" fill="#111">HEAD</text>
<g><line x1="43.5" y1="102.0" x2="47.9" y2="94.7" stroke="#25a825" stroke-width="4.30" stroke-linecap="round"/><line x1="47.9" y1="94.7" x2="52.2" y2="87.4" stroke="#25a825" stroke-width="4.30" stroke-linecap="round"/><line x1="52.2" y1="87.4" x2="60.6" y2="82.8" stroke="#25a825" stroke-width="4.30" stroke-linecap="round"/><line x1="60.6" y1="82.8" x2="69.0" y2="78.2" stroke="#25a825" stroke-width="4.30" stroke-linecap="round"/><line x1="69.0" y1="78.2" x2="71.0" y2="80.7" stroke="#25a825" stroke-width="4.30" stroke-linecap="round"/><line x1="71.0" y1="80.7" x2="73.1" y2="83.1" stroke="#25a825" stroke-width="4.30" stroke-linecap="round"/><line x1="73.1" y1="83.1" x2="67.8" y2="90.0" stroke="#25a825" stroke-width="4.30" stroke-linecap="round"/><line x1="67.8" y1="90.0" x2="62.4" y2="96.9" stroke="#25a825" stroke-width="4.30" stroke-linecap="round"/><line x1="62.4" y1="96.9" x2="55.1" y2="101.0" stroke="#25a825" stroke-width="4.30" stroke-linecap="round"/><line x1="55.1" y1="101.0" x2="47.8" y2="105.0" stroke="#25a825" stroke-width="4.30" stroke-linecap="round"/><line x1="47.8" y1="105.0" x2="45.6" y2="103.5" stroke="#25a825" stroke-width="4.30" stroke-linecap="round"/><line x1="45.6" y1="103.5" x2="43.5" y2="102.0" stroke="#25a825" stroke-width="4.30" stroke-linecap="round"/><line x1="47.8" y1="105.0" x2="42.3" y2="112.3" stroke="#25a825" stroke-width="4.20" stroke-linecap="round"/><line x1="42.3" y1="112.3" x2="36.9" y2="119.6" stroke="#25a825" stroke-width="4.20" stroke-linecap="round"/><line x1="62.4" y1="96.9" x2="66.1" y2="100.6" stroke="#1f8a1f" stroke-width="3.60" stroke-linecap="round"/><line x1="43.5" y1="102.0" x2="39.1" y2="105.0" stroke="#25a825" stroke-width="3.00" stroke-linecap="round"/><line x1="39.1" y1="105.0" x2="34.7" y2="107.9" stroke="#9a9a9a" stroke-width="2.55" stroke-linecap="round"/><line x1="69.0" y1="78.2" x2="71.3" y2="74.1" stroke="#25a825" stroke-width="3.00" stroke-linecap="round"/><line x1="71.3" y1="74.1" x2="73.6" y2="70.0" stroke="#9a9a9a" stroke-width="2.55" stroke-linecap="round"/><line x1="52.2" y1="87.4" x2="51.4" y2="85.7" stroke="#25a825" stroke-width="3.00" stroke-linecap="round"/><line x1="51.4" y1="85.7" x2="50.6" y2="84.0" stroke="#9a9a9a" stroke-width="2.55" stroke-linecap="round"/><line x1="73.1" y1="83.1" x2="77.7" y2="79.5" stroke="#25a825" stroke-width="4.30" stroke-linecap="round"/><line x1="77.7" y1="79.5" x2="82.2" y2="76.0" stroke="#1a1aa8" stroke-width="4.30" stroke-linecap="round"/><line x1="82.2" y1="76.0" x2="88.0" y2="69.7" stroke="#1a1aa8" stroke-width="4.30" stroke-linecap="round"/><line x1="88.0" y1="69.7" x2="93.8" y2="63.4" stroke="#25a825" stroke-width="4.30" stroke-linecap="round"/><line x1="82.2" y1="76.0" x2="83.7" y2="78.8" stroke="#1a1aa8" stroke-width="3.00" stroke-linecap="round"/><line x1="83.7" y1="78.8" x2="85.1" y2="81.6" stroke="#9a9a9a" stroke-width="2.55" stroke-linecap="round"/><line x1="93.8" y1="63.4" x2="98.9" y2="61.0" stroke="#25a825" stroke-width="4.30" stroke-linecap="round"/><line x1="98.9" y1="61.0" x2="104.0" y2="58.5" stroke="#1a1aa8" stroke-width="4.30" stroke-linecap="round"/><line x1="104.0" y1="58.5" x2="102.7" y2="51.6" stroke="#1a1aa8" stroke-width="4.30" stroke-linecap="round"/><line x1="102.7" y1="51.6" x2="101.4" y2="44.7" stroke="#1a1aa8" stroke-width="4.30" stroke-linecap="round"/><line x1="101.4" y1="44.7" x2="107.6" y2="43.9" stroke="#1a1aa8" stroke-width="4.30" stroke-linecap="round"/><line x1="107.6" y1="43.9" x2="113.7" y2="43.1" stroke="#1a1aa8" stroke-width="4.30" stroke-linecap="round"/><line x1="113.7" y1="43.1" x2="117.5" y2="48.7" stroke="#1a1aa8" stroke-width="4.30" stroke-linecap="round"/><line x1="117.5" y1="48.7" x2="121.3" y2="54.2" stroke="#25a825" stroke-width="4.30" stroke-linecap="round"/><line x1="121.3" y1="54.2" x2="116.1" y2="57.5" stroke="#25a825" stroke-width="4.30" stroke-linecap="round"/><line x1="116.1" y1="57.5" x2="110.9" y2="60.8" stroke="#25a825" stroke-width="4.30" stroke-linecap="round"/><line x1="110.9" y1="60.8" x2="107.5" y2="59.6" stroke="#25a825" stroke-width="4.30" stroke-linecap="round"/><line x1="107.5" y1="59.6" x2="104.0" y2="58.5" stroke="#1a1aa8" stroke-width="4.30" stroke-linecap="round"/><line x1="121.3" y1="54.2" x2="129.3" y2="56.1" stroke="#25a825" stroke-width="4.30" stroke-linecap="round"/><line x1="129.3" y1="56.1" x2="137.4" y2="58.0" stroke="#25a825" stroke-width="4.30" stroke-linecap="round"/><line x1="137.4" y1="58.0" x2="139.3" y2="67.5" stroke="#25a825" stroke-width="4.30" stroke-linecap="round"/><line x1="139.3" y1="67.5" x2="141.2" y2="76.9" stroke="#25a825" stroke-width="4.30" stroke-linecap="round"/><line x1="141.2" y1="76.9" x2="133.1" y2="78.8" stroke="#25a825" stroke-width="4.30" stroke-linecap="round"/><line x1="133.1" y1="78.8" x2="125.1" y2="80.7" stroke="#25a825" stroke-width="4.30" stroke-linecap="round"/><line x1="125.1" y1="80.7" x2="118.0" y2="70.8" stroke="#25a825" stroke-width="4.30" stroke-linecap="round"/><line x1="118.0" y1="70.8" x2="110.9" y2="60.8" stroke="#25a825" stroke-width="4.30" stroke-linecap="round"/><line x1="137.4" y1="58.0" x2="142.2" y2="55.6" stroke="#25a825" stroke-width="3.00" stroke-linecap="round"/><line x1="142.2" y1="55.6" x2="146.9" y2="53.2" stroke="#9a9a9a" stroke-width="2.55" stroke-linecap="round"/><line x1="125.1" y1="80.7" x2="121.8" y2="85.5" stroke="#25a825" stroke-width="3.00" stroke-linecap="round"/><line x1="121.8" y1="85.5" x2="118.5" y2="90.2" stroke="#9a9a9a" stroke-width="2.55" stroke-linecap="round"/><line x1="141.2" y1="76.9" x2="140.8" y2="85.0" stroke="#25a825" stroke-width="3.00" stroke-linecap="round"/><line x1="140.8" y1="85.0" x2="140.3" y2="93.1" stroke="#9a9a9a" stroke-width="2.55" stroke-linecap="round"/><line x1="141.2" y1="76.9" x2="145.9" y2="76.0" stroke="#25a825" stroke-width="4.30" stroke-linecap="round"/><line x1="145.9" y1="76.0" x2="150.7" y2="75.0" stroke="#1a1aa8" stroke-width="4.30" stroke-linecap="round"/><line x1="150.7" y1="75.0" x2="154.5" y2="70.2" stroke="#1a1aa8" stroke-width="3.00" stroke-linecap="round"/><line x1="154.5" y1="70.2" x2="158.3" y2="65.5" stroke="#9a9a9a" stroke-width="2.55" stroke-linecap="round"/><line x1="150.7" y1="75.0" x2="154.5" y2="76.9" stroke="#1a1aa8" stroke-width="4.30" stroke-linecap="round"/><line x1="154.5" y1="76.9" x2="158.3" y2="78.8" stroke="#25a825" stroke-width="4.30" stroke-linecap="round"/><line x1="158.3" y1="78.8" x2="155.4" y2="85.0" stroke="#25a825" stroke-width="4.30" stroke-linecap="round"/><line x1="155.4" y1="85.0" x2="152.6" y2="91.2" stroke="#b02020" stroke-width="4.30" stroke-linecap="round"/><line x1="158.3" y1="78.8" x2="165.9" y2="74.5" stroke="#25a825" stroke-width="4.30" stroke-linecap="round"/><line x1="165.9" y1="74.5" x2="173.5" y2="70.3" stroke="#25a825" stroke-width="4.30" stroke-linecap="round"/><line x1="173.5" y1="70.3" x2="176.3" y2="62.7" stroke="#25a825" stroke-width="4.30" stroke-linecap="round"/><line x1="176.3" y1="62.7" x2="179.2" y2="55.1" stroke="#25a825" stroke-width="4.30" stroke-linecap="round"/><line x1="179.2" y1="55.1" x2="186.3" y2="53.2" stroke="#25a825" stroke-width="4.30" stroke-linecap="round"/><line x1="186.3" y1="53.2" x2="193.4" y2="51.3" stroke="#25a825" stroke-width="4.30" stroke-linecap="round"/><line x1="193.4" y1="51.3" x2="194.4" y2="57.0" stroke="#25a825" stroke-width="4.30" stroke-linecap="round"/><line x1="194.4" y1="57.0" x2="195.3" y2="62.7" stroke="#1a1aa8" stroke-width="4.30" stroke-linecap="round"/><line x1="195.3" y1="62.7" x2="187.7" y2="68.4" stroke="#1a1aa8" stroke-width="4.30" stroke-linecap="round"/><line x1="187.7" y1="68.4" x2="180.1" y2="74.1" stroke="#1a1aa8" stroke-width="4.30" stroke-linecap="round"/><line x1="180.1" y1="74.1" x2="176.8" y2="72.2" stroke="#1a1aa8" stroke-width="4.30" stroke-linecap="round"/><line x1="176.8" y1="72.2" x2="173.5" y2="70.3" stroke="#25a825" stroke-width="4.30" stroke-linecap="round"/><line x1="179.2" y1="55.1" x2="177.8" y2="49.9" stroke="#25a825" stroke-width="4.30" stroke-linecap="round"/><line x1="177.8" y1="49.9" x2="176.3" y2="44.7" stroke="#25a825" stroke-width="4.30" stroke-linecap="round"/><line x1="176.3" y1="44.7" x2="177.8" y2="39.5" stroke="#25a825" stroke-width="3.00" stroke-linecap="round"/><line x1="177.8" y1="39.5" x2="179.2" y2="34.2" stroke="#9a9a9a" stroke-width="2.55" stroke-linecap="round"/><line x1="176.3" y1="44.7" x2="170.7" y2="45.7" stroke="#25a825" stroke-width="3.00" stroke-linecap="round"/><line x1="170.7" y1="45.7" x2="165.0" y2="46.6" stroke="#9a9a9a" stroke-width="2.55" stroke-linecap="round"/><line x1="176.3" y1="44.7" x2="179.7" y2="46.1" stroke="#25a825" stroke-width="3.00" stroke-linecap="round"/><line x1="179.7" y1="46.1" x2="183.0" y2="47.5" stroke="#9a9a9a" stroke-width="2.55" stroke-linecap="round"/><line x1="193.4" y1="51.3" x2="198.7" y2="44.6" stroke="#25a825" stroke-width="4.30" stroke-linecap="round"/><line x1="198.7" y1="44.6" x2="203.9" y2="38.0" stroke="#1a1aa8" stroke-width="4.30" stroke-linecap="round"/><line x1="203.9" y1="38.0" x2="208.6" y2="37.5" stroke="#1a1aa8" stroke-width="3.00" stroke-linecap="round"/><line x1="208.6" y1="37.5" x2="213.3" y2="37.1" stroke="#9a9a9a" stroke-width="2.55" stroke-linecap="round"/><line x1="203.9" y1="38.0" x2="204.8" y2="35.1" stroke="#1a1aa8" stroke-width="3.00" stroke-linecap="round"/><line x1="204.8" y1="35.1" x2="205.7" y2="32.3" stroke="#9a9a9a" stroke-width="2.55" stroke-linecap="round"/><line x1="180.1" y1="74.1" x2="179.1" y2="78.3" stroke="#25a825" stroke-width="3.00" stroke-linecap="round"/><line x1="179.1" y1="78.3" x2="178.2" y2="82.6" stroke="#9a9a9a" stroke-width="2.55" stroke-linecap="round"/><line x1="43.5" y1="102.0" x2="47.9" y2="94.7" stroke="#42e042" stroke-width="3.00" stroke-linecap="round"/><line x1="47.9" y1="94.7" x2="52.2" y2="87.4" stroke="#42e042" stroke-width="3.00" stroke-linecap="round"/><line x1="52.2" y1="87.4" x2="60.6" y2="82.8" stroke="#42e042" stroke-width="3.00" stroke-linecap="round"/><line x1="60.6" y1="82.8" x2="69.0" y2="78.2" stroke="#42e042" stroke-width="3.00" stroke-linecap="round"/><line x1="56.7" y1="88.4" x2="62.0" y2="85.4" stroke="#42e042" stroke-width="1.70" stroke-linecap="round"/><line x1="62.0" y1="85.4" x2="67.4" y2="82.5" stroke="#42e042" stroke-width="1.70" stroke-linecap="round"/><line x1="69.0" y1="78.2" x2="71.0" y2="80.7" stroke="#42e042" stroke-width="3.00" stroke-linecap="round"/><line x1="71.0" y1="80.7" x2="73.1" y2="83.1" stroke="#42e042" stroke-width="3.00" stroke-linecap="round"/><line x1="73.1" y1="83.1" x2="67.8" y2="90.0" stroke="#42e042" stroke-width="3.00" stroke-linecap="round"/><line x1="67.8" y1="90.0" x2="62.4" y2="96.9" stroke="#42e042" stroke-width="3.00" stroke-linecap="round"/><line x1="68.8" y1="83.7" x2="65.4" y2="88.2" stroke="#42e042" stroke-width="1.70" stroke-linecap="round"/><line x1="65.4" y1="88.2" x2="62.0" y2="92.6" stroke="#42e042" stroke-width="1.70" stroke-linecap="round"/><line x1="62.4" y1="96.9" x2="55.1" y2="101.0" stroke="#42e042" stroke-width="3.00" stroke-linecap="round"/><line x1="55.1" y1="101.0" x2="47.8" y2="105.0" stroke="#42e042" stroke-width="3.00" stroke-linecap="round"/><line x1="47.8" y1="105.0" x2="45.6" y2="103.5" stroke="#42e042" stroke-width="3.00" stroke-linecap="round"/><line x1="45.6" y1="103.5" x2="43.5" y2="102.0" stroke="#42e042" stroke-width="3.00" stroke-linecap="round"/><line x1="48.7" y1="102.0" x2="47.4" y2="101.0" stroke="#42e042" stroke-width="1.70" stroke-linecap="round"/><line x1="47.4" y1="101.0" x2="46.0" y2="100.1" stroke="#42e042" stroke-width="1.70" stroke-linecap="round"/><line x1="47.8" y1="105.0" x2="42.3" y2="112.3" stroke="#42e042" stroke-width="2.90" stroke-linecap="round"/><line x1="42.3" y1="112.3" x2="36.9" y2="119.6" stroke="#42e042" stroke-width="2.90" stroke-linecap="round"/><line x1="62.4" y1="96.9" x2="66.1" y2="100.6" stroke="#2aa02a" stroke-width="2.30" stroke-linecap="round"/><line x1="43.5" y1="102.0" x2="39.1" y2="105.0" stroke="#42e042" stroke-width="1.70" stroke-linecap="round"/><line x1="39.1" y1="105.0" x2="34.7" y2="107.9" stroke="#f6f6f6" stroke-width="1.27" stroke-linecap="round"/><line x1="69.0" y1="78.2" x2="71.3" y2="74.1" stroke="#42e042" stroke-width="1.70" stroke-linecap="round"/><line x1="71.3" y1="74.1" x2="73.6" y2="70.0" stroke="#f6f6f6" stroke-width="1.27" stroke-linecap="round"/><line x1="52.2" y1="87.4" x2="51.4" y2="85.7" stroke="#42e042" stroke-width="1.70" stroke-linecap="round"/><line x1="51.4" y1="85.7" x2="50.6" y2="84.0" stroke="#f6f6f6" stroke-width="1.27" stroke-linecap="round"/><line x1="73.1" y1="83.1" x2="77.7" y2="79.5" stroke="#42e042" stroke-width="3.00" stroke-linecap="round"/><line x1="77.7" y1="79.5" x2="82.2" y2="76.0" stroke="#3030ee" stroke-width="3.00" stroke-linecap="round"/><line x1="82.2" y1="76.0" x2="88.0" y2="69.7" stroke="#3030ee" stroke-width="3.00" stroke-linecap="round"/><line x1="88.0" y1="69.7" x2="93.8" y2="63.4" stroke="#42e042" stroke-width="3.00" stroke-linecap="round"/><line x1="82.2" y1="76.0" x2="83.7" y2="78.8" stroke="#3030ee" stroke-width="1.70" stroke-linecap="round"/><line x1="83.7" y1="78.8" x2="85.1" y2="81.6" stroke="#f6f6f6" stroke-width="1.27" stroke-linecap="round"/><line x1="93.1" y1="64.7" x2="86.2" y2="60.6" stroke="#42e042" stroke-width="2.00" stroke-linecap="butt"/><line x1="86.2" y1="60.6" x2="79.3" y2="56.6" stroke="#e84444" stroke-width="2.00" stroke-linecap="butt"/><line x1="94.5" y1="62.1" x2="87.6" y2="58.1" stroke="#42e042" stroke-width="2.00" stroke-linecap="butt"/><line x1="87.6" y1="58.1" x2="80.7" y2="54.0" stroke="#e84444" stroke-width="2.00" stroke-linecap="butt"/><line x1="93.8" y1="63.4" x2="98.9" y2="61.0" stroke="#42e042" stroke-width="3.00" stroke-linecap="round"/><line x1="98.9" y1="61.0" x2="104.0" y2="58.5" stroke="#3030ee" stroke-width="3.00" stroke-linecap="round"/><line x1="104.0" y1="58.5" x2="102.7" y2="51.6" stroke="#3030ee" stroke-width="3.00" stroke-linecap="round"/><line x1="102.7" y1="51.6" x2="101.4" y2="44.7" stroke="#3030ee" stroke-width="3.00" stroke-linecap="round"/><line x1="101.4" y1="44.7" x2="107.6" y2="43.9" stroke="#3030ee" stroke-width="3.00" stroke-linecap="round"/><line x1="107.6" y1="43.9" x2="113.7" y2="43.1" stroke="#3030ee" stroke-width="3.00" stroke-linecap="round"/><line x1="104.0" y1="47.4" x2="107.9" y2="46.9" stroke="#3030ee" stroke-width="1.70" stroke-linecap="round"/><line x1="107.9" y1="46.9" x2="111.9" y2="46.4" stroke="#3030ee" stroke-width="1.70" stroke-linecap="round"/><line x1="113.7" y1="43.1" x2="117.5" y2="48.7" stroke="#3030ee" stroke-width="3.00" stroke-linecap="round"/><line x1="117.5" y1="48.7" x2="121.3" y2="54.2" stroke="#42e042" stroke-width="3.00" stroke-linecap="round"/><line x1="121.3" y1="54.2" x2="116.1" y2="57.5" stroke="#42e042" stroke-width="3.00" stroke-linecap="round"/><line x1="116.1" y1="57.5" x2="110.9" y2="60.8" stroke="#42e042" stroke-width="3.00" stroke-linecap="round"/><line x1="117.8" y1="52.9" x2="114.5" y2="55.0" stroke="#42e042" stroke-width="1.70" stroke-linecap="round"/><line x1="114.5" y1="55.0" x2="111.2" y2="57.1" stroke="#42e042" stroke-width="1.70" stroke-linecap="round"/><line x1="110.9" y1="60.8" x2="107.5" y2="59.6" stroke="#42e042" stroke-width="3.00" stroke-linecap="round"/><line x1="107.5" y1="59.6" x2="104.0" y2="58.5" stroke="#3030ee" stroke-width="3.00" stroke-linecap="round"/><line x1="121.3" y1="54.2" x2="129.3" y2="56.1" stroke="#42e042" stroke-width="3.00" stroke-linecap="round"/><line x1="129.3" y1="56.1" x2="137.4" y2="58.0" stroke="#42e042" stroke-width="3.00" stroke-linecap="round"/><line x1="137.4" y1="58.0" x2="139.3" y2="67.5" stroke="#42e042" stroke-width="3.00" stroke-linecap="round"/><line x1="139.3" y1="67.5" x2="141.2" y2="76.9" stroke="#42e042" stroke-width="3.00" stroke-linecap="round"/><line x1="141.2" y1="76.9" x2="133.1" y2="78.8" stroke="#42e042" stroke-width="3.00" stroke-linecap="round"/><line x1="133.1" y1="78.8" x2="125.1" y2="80.7" stroke="#42e042" stroke-width="3.00" stroke-linecap="round"/><line x1="125.1" y1="80.7" x2="118.0" y2="70.8" stroke="#42e042" stroke-width="3.00" stroke-linecap="round"/><line x1="118.0" y1="70.8" x2="110.9" y2="60.8" stroke="#42e042" stroke-width="3.00" stroke-linecap="round"/><line x1="137.4" y1="58.0" x2="142.2" y2="55.6" stroke="#42e042" stroke-width="1.70" stroke-linecap="round"/><line x1="142.2" y1="55.6" x2="146.9" y2="53.2" stroke="#f6f6f6" stroke-width="1.27" stroke-linecap="round"/><line x1="125.1" y1="80.7" x2="121.8" y2="85.5" stroke="#42e042" stroke-width="1.70" stroke-linecap="round"/><line x1="121.8" y1="85.5" x2="118.5" y2="90.2" stroke="#f6f6f6" stroke-width="1.27" stroke-linecap="round"/><line x1="141.2" y1="76.9" x2="140.8" y2="85.0" stroke="#42e042" stroke-width="1.70" stroke-linecap="round"/><line x1="140.8" y1="85.0" x2="140.3" y2="93.1" stroke="#f6f6f6" stroke-width="1.27" stroke-linecap="round"/><line x1="141.2" y1="76.9" x2="145.9" y2="76.0" stroke="#42e042" stroke-width="3.00" stroke-linecap="round"/><line x1="145.9" y1="76.0" x2="150.7" y2="75.0" stroke="#3030ee" stroke-width="3.00" stroke-linecap="round"/><line x1="150.7" y1="75.0" x2="154.5" y2="70.2" stroke="#3030ee" stroke-width="1.70" stroke-linecap="round"/><line x1="154.5" y1="70.2" x2="158.3" y2="65.5" stroke="#f6f6f6" stroke-width="1.27" stroke-linecap="round"/><line x1="150.7" y1="75.0" x2="154.5" y2="76.9" stroke="#3030ee" stroke-width="3.00" stroke-linecap="round"/><line x1="154.5" y1="76.9" x2="158.3" y2="78.8" stroke="#42e042" stroke-width="3.00" stroke-linecap="round"/><line x1="158.3" y1="78.8" x2="155.4" y2="85.0" stroke="#42e042" stroke-width="3.00" stroke-linecap="round"/><line x1="155.4" y1="85.0" x2="152.6" y2="91.2" stroke="#e84444" stroke-width="3.00" stroke-linecap="round"/><line x1="158.3" y1="78.8" x2="165.9" y2="74.5" stroke="#42e042" stroke-width="3.00" stroke-linecap="round"/><line x1="165.9" y1="74.5" x2="173.5" y2="70.3" stroke="#42e042" stroke-width="3.00" stroke-linecap="round"/><line x1="173.5" y1="70.3" x2="176.3" y2="62.7" stroke="#42e042" stroke-width="3.00" stroke-linecap="round"/><line x1="176.3" y1="62.7" x2="179.2" y2="55.1" stroke="#42e042" stroke-width="3.00" stroke-linecap="round"/><line x1="177.3" y1="68.6" x2="179.2" y2="63.8" stroke="#42e042" stroke-width="1.70" stroke-linecap="round"/><line x1="179.2" y1="63.8" x2="181.0" y2="58.9" stroke="#42e042" stroke-width="1.70" stroke-linecap="round"/><line x1="179.2" y1="55.1" x2="186.3" y2="53.2" stroke="#42e042" stroke-width="3.00" stroke-linecap="round"/><line x1="186.3" y1="53.2" x2="193.4" y2="51.3" stroke="#42e042" stroke-width="3.00" stroke-linecap="round"/><line x1="193.4" y1="51.3" x2="194.4" y2="57.0" stroke="#42e042" stroke-width="3.00" stroke-linecap="round"/><line x1="194.4" y1="57.0" x2="195.3" y2="62.7" stroke="#3030ee" stroke-width="3.00" stroke-linecap="round"/><line x1="195.3" y1="62.7" x2="187.7" y2="68.4" stroke="#3030ee" stroke-width="3.00" stroke-linecap="round"/><line x1="187.7" y1="68.4" x2="180.1" y2="74.1" stroke="#3030ee" stroke-width="3.00" stroke-linecap="round"/><line x1="190.8" y1="62.4" x2="185.9" y2="66.0" stroke="#3030ee" stroke-width="1.70" stroke-linecap="round"/><line x1="185.9" y1="66.0" x2="181.0" y2="69.6" stroke="#3030ee" stroke-width="1.70" stroke-linecap="round"/><line x1="180.1" y1="74.1" x2="176.8" y2="72.2" stroke="#3030ee" stroke-width="3.00" stroke-linecap="round"/><line x1="176.8" y1="72.2" x2="173.5" y2="70.3" stroke="#42e042" stroke-width="3.00" stroke-linecap="round"/><line x1="179.2" y1="55.1" x2="177.8" y2="49.9" stroke="#42e042" stroke-width="3.00" stroke-linecap="round"/><line x1="177.8" y1="49.9" x2="176.3" y2="44.7" stroke="#42e042" stroke-width="3.00" stroke-linecap="round"/><line x1="176.3" y1="44.7" x2="177.8" y2="39.5" stroke="#42e042" stroke-width="1.70" stroke-linecap="round"/><line x1="177.8" y1="39.5" x2="179.2" y2="34.2" stroke="#f6f6f6" stroke-width="1.27" stroke-linecap="round"/><line x1="176.3" y1="44.7" x2="170.7" y2="45.7" stroke="#42e042" stroke-width="1.70" stroke-linecap="round"/><line x1="170.7" y1="45.7" x2="165.0" y2="46.6" stroke="#f6f6f6" stroke-width="1.27" stroke-linecap="round"/><line x1="176.3" y1="44.7" x2="179.7" y2="46.1" stroke="#42e042" stroke-width="1.70" stroke-linecap="round"/><line x1="179.7" y1="46.1" x2="183.0" y2="47.5" stroke="#f6f6f6" stroke-width="1.27" stroke-linecap="round"/><line x1="193.4" y1="51.3" x2="198.7" y2="44.6" stroke="#42e042" stroke-width="3.00" stroke-linecap="round"/><line x1="198.7" y1="44.6" x2="203.9" y2="38.0" stroke="#3030ee" stroke-width="3.00" stroke-linecap="round"/><line x1="203.9" y1="38.0" x2="208.6" y2="37.5" stroke="#3030ee" stroke-width="1.70" stroke-linecap="round"/><line x1="208.6" y1="37.5" x2="213.3" y2="37.1" stroke="#f6f6f6" stroke-width="1.27" stroke-linecap="round"/><line x1="203.9" y1="38.0" x2="204.8" y2="35.1" stroke="#3030ee" stroke-width="1.70" stroke-linecap="round"/><line x1="204.8" y1="35.1" x2="205.7" y2="32.3" stroke="#f6f6f6" stroke-width="1.27" stroke-linecap="round"/><line x1="180.1" y1="74.1" x2="179.1" y2="78.3" stroke="#42e042" stroke-width="1.70" stroke-linecap="round"/><line x1="179.1" y1="78.3" x2="178.2" y2="82.6" stroke="#f6f6f6" stroke-width="1.27" stroke-linecap="round"/></g>
<text x="77.20" y="29.60" font-size="13.0" text-anchor="start" font-weight="normal" fill="#c8101a">N17</text>
<line x1="89.5" y1="33.2" x2="99.8" y2="51.3" stroke="#c8101a" stroke-width="1.2"/>
<polygon points="101.9,55.0 98.1,52.3 101.6,50.4" fill="#c8101a"/>
<text x="49.90" y="47.80" font-size="13.0" text-anchor="start" font-weight="normal" fill="#c8101a">O21</text>
<line x1="69.0" y1="48.0" x2="75.9" y2="52.3" stroke="#c8101a" stroke-width="1.2"/>
<polygon points="79.4,54.6 74.8,54.0 76.9,50.7" fill="#c8101a"/>
<text x="33.80" y="64.90" font-size="13.0" text-anchor="start" font-weight="normal" fill="#c8101a">N22</text>
<line x1="58.1" y1="64.1" x2="76.4" y2="72.9" stroke="#c8101a" stroke-width="1.2"/>
<polygon points="80.2,74.7 75.5,74.7 77.3,71.1" fill="#c8101a"/>
<text x="82.00" y="108.40" font-size="13.0" text-anchor="start" font-weight="normal" fill="#c8101a">C20</text>
<line x1="94.6" y1="98.0" x2="94.6" y2="70.2" stroke="#c8101a" stroke-width="1.2"/>
<polygon points="94.6,66.0 96.6,70.2 92.6,70.2" fill="#c8101a"/>
<g><line x1="79.1" y1="161.6" x2="80.2" y2="166.3" stroke="#1a1aa8" stroke-width="4.30" stroke-linecap="round"/><line x1="80.2" y1="166.3" x2="81.2" y2="171.0" stroke="#1a1aa8" stroke-width="4.30" stroke-linecap="round"/><line x1="81.2" y1="171.0" x2="82.8" y2="179.4" stroke="#25a825" stroke-width="4.30" stroke-linecap="round"/><line x1="82.8" y1="179.4" x2="84.4" y2="187.8" stroke="#25a825" stroke-width="4.30" stroke-linecap="round"/><line x1="84.4" y1="187.8" x2="90.6" y2="188.5" stroke="#25a825" stroke-width="4.30" stroke-linecap="round"/><line x1="90.6" y1="188.5" x2="96.7" y2="189.2" stroke="#25a825" stroke-width="4.30" stroke-linecap="round"/><line x1="96.7" y1="189.2" x2="98.4" y2="197.1" stroke="#25a825" stroke-width="4.30" stroke-linecap="round"/><line x1="98.4" y1="197.1" x2="100.1" y2="204.9" stroke="#25a825" stroke-width="4.30" stroke-linecap="round"/><line x1="100.1" y1="204.9" x2="93.5" y2="210.4" stroke="#25a825" stroke-width="4.30" stroke-linecap="round"/><line x1="93.5" y1="210.4" x2="87.0" y2="216.0" stroke="#25a825" stroke-width="4.30" stroke-linecap="round"/><line x1="87.0" y1="216.0" x2="79.5" y2="213.8" stroke="#25a825" stroke-width="4.30" stroke-linecap="round"/><line x1="79.5" y1="213.8" x2="72.0" y2="211.5" stroke="#25a825" stroke-width="4.30" stroke-linecap="round"/><line x1="72.0" y1="211.5" x2="71.2" y2="204.2" stroke="#25a825" stroke-width="4.30" stroke-linecap="round"/><line x1="71.2" y1="204.2" x2="70.4" y2="197.0" stroke="#25a825" stroke-width="4.30" stroke-linecap="round"/><line x1="70.4" y1="197.0" x2="77.4" y2="192.4" stroke="#25a825" stroke-width="4.30" stroke-linecap="round"/><line x1="77.4" y1="192.4" x2="84.4" y2="187.8" stroke="#25a825" stroke-width="4.30" stroke-linecap="round"/><line x1="96.7" y1="189.2" x2="104.3" y2="183.2" stroke="#25a825" stroke-width="4.30" stroke-linecap="round"/><line x1="104.3" y1="183.2" x2="112.0" y2="177.3" stroke="#25a825" stroke-width="4.30" stroke-linecap="round"/><line x1="112.0" y1="177.3" x2="111.3" y2="173.4" stroke="#25a825" stroke-width="3.00" stroke-linecap="round"/><line x1="111.3" y1="173.4" x2="110.6" y2="169.5" stroke="#9a9a9a" stroke-width="2.55" stroke-linecap="round"/><line x1="112.0" y1="177.3" x2="116.6" y2="179.9" stroke="#25a825" stroke-width="3.00" stroke-linecap="round"/><line x1="116.6" y1="179.9" x2="121.2" y2="182.6" stroke="#9a9a9a" stroke-width="2.55" stroke-linecap="round"/><line x1="112.0" y1="177.3" x2="113.5" y2="174.7" stroke="#25a825" stroke-width="3.00" stroke-linecap="round"/><line x1="113.5" y1="174.7" x2="115.0" y2="172.0" stroke="#9a9a9a" stroke-width="2.55" stroke-linecap="round"/><line x1="70.4" y1="197.0" x2="66.9" y2="196.3" stroke="#25a825" stroke-width="3.00" stroke-linecap="round"/><line x1="66.9" y1="196.3" x2="63.4" y2="195.7" stroke="#9a9a9a" stroke-width="2.55" stroke-linecap="round"/><line x1="100.1" y1="204.9" x2="104.0" y2="205.2" stroke="#25a825" stroke-width="3.00" stroke-linecap="round"/><line x1="104.0" y1="205.2" x2="108.0" y2="205.5" stroke="#9a9a9a" stroke-width="2.55" stroke-linecap="round"/><line x1="72.0" y1="211.5" x2="68.6" y2="218.1" stroke="#25a825" stroke-width="4.30" stroke-linecap="round"/><line x1="68.6" y1="218.1" x2="65.2" y2="224.6" stroke="#1a1aa8" stroke-width="4.30" stroke-linecap="round"/><line x1="65.2" y1="224.6" x2="66.5" y2="230.2" stroke="#1a1aa8" stroke-width="4.30" stroke-linecap="round"/><line x1="66.5" y1="230.2" x2="67.8" y2="235.9" stroke="#25a825" stroke-width="4.30" stroke-linecap="round"/><line x1="67.8" y1="235.9" x2="75.4" y2="234.2" stroke="#25a825" stroke-width="4.30" stroke-linecap="round"/><line x1="75.4" y1="234.2" x2="83.1" y2="232.5" stroke="#25a825" stroke-width="4.30" stroke-linecap="round"/><line x1="83.1" y1="232.5" x2="85.0" y2="224.2" stroke="#25a825" stroke-width="4.30" stroke-linecap="round"/><line x1="85.0" y1="224.2" x2="87.0" y2="216.0" stroke="#25a825" stroke-width="4.30" stroke-linecap="round"/><line x1="65.2" y1="224.6" x2="60.4" y2="226.3" stroke="#1a1aa8" stroke-width="3.00" stroke-linecap="round"/><line x1="60.4" y1="226.3" x2="55.5" y2="228.0" stroke="#9a9a9a" stroke-width="2.55" stroke-linecap="round"/><line x1="67.8" y1="235.9" x2="66.2" y2="241.2" stroke="#25a825" stroke-width="3.00" stroke-linecap="round"/><line x1="66.2" y1="241.2" x2="64.7" y2="246.5" stroke="#9a9a9a" stroke-width="2.55" stroke-linecap="round"/><line x1="83.1" y1="232.5" x2="89.0" y2="237.1" stroke="#25a825" stroke-width="4.30" stroke-linecap="round"/><line x1="89.0" y1="237.1" x2="94.9" y2="241.7" stroke="#25a825" stroke-width="4.30" stroke-linecap="round"/><line x1="94.9" y1="241.7" x2="98.8" y2="236.7" stroke="#25a825" stroke-width="4.30" stroke-linecap="round"/><line x1="98.8" y1="236.7" x2="102.8" y2="231.7" stroke="#b02020" stroke-width="4.30" stroke-linecap="round"/><line x1="102.8" y1="231.7" x2="106.9" y2="236.5" stroke="#b02020" stroke-width="4.30" stroke-linecap="round"/><line x1="106.9" y1="236.5" x2="111.0" y2="241.3" stroke="#25a825" stroke-width="4.30" stroke-linecap="round"/><line x1="111.0" y1="241.3" x2="110.8" y2="250.1" stroke="#25a825" stroke-width="4.30" stroke-linecap="round"/><line x1="110.8" y1="250.1" x2="110.6" y2="258.8" stroke="#25a825" stroke-width="4.30" stroke-linecap="round"/><line x1="110.6" y1="258.8" x2="104.0" y2="259.5" stroke="#25a825" stroke-width="4.30" stroke-linecap="round"/><line x1="104.0" y1="259.5" x2="97.5" y2="260.1" stroke="#25a825" stroke-width="4.30" stroke-linecap="round"/><line x1="97.5" y1="260.1" x2="96.2" y2="250.9" stroke="#25a825" stroke-width="4.30" stroke-linecap="round"/><line x1="96.2" y1="250.9" x2="94.9" y2="241.7" stroke="#25a825" stroke-width="4.30" stroke-linecap="round"/><line x1="111.0" y1="241.3" x2="122.5" y2="236.5" stroke="#1a8a1a" stroke-width="4.60" stroke-linecap="round"/><line x1="122.5" y1="236.5" x2="117.5" y2="227.2" stroke="#25a825" stroke-width="4.30" stroke-linecap="round"/><line x1="117.5" y1="227.2" x2="112.4" y2="218.0" stroke="#25a825" stroke-width="4.30" stroke-linecap="round"/><line x1="122.5" y1="236.5" x2="129.2" y2="227.2" stroke="#25a825" stroke-width="4.30" stroke-linecap="round"/><line x1="129.2" y1="227.2" x2="135.8" y2="218.0" stroke="#25a825" stroke-width="4.30" stroke-linecap="round"/><line x1="122.5" y1="236.5" x2="124.8" y2="241.8" stroke="#25a825" stroke-width="3.00" stroke-linecap="round"/><line x1="124.8" y1="241.8" x2="127.0" y2="247.2" stroke="#9a9a9a" stroke-width="2.55" stroke-linecap="round"/><line x1="112.4" y1="218.0" x2="107.7" y2="216.5" stroke="#25a825" stroke-width="3.00" stroke-linecap="round"/><line x1="107.7" y1="216.5" x2="102.9" y2="215.0" stroke="#9a9a9a" stroke-width="2.55" stroke-linecap="round"/><line x1="112.4" y1="218.0" x2="108.4" y2="220.2" stroke="#25a825" stroke-width="3.00" stroke-linecap="round"/><line x1="108.4" y1="220.2" x2="104.4" y2="222.3" stroke="#9a9a9a" stroke-width="2.55" stroke-linecap="round"/><line x1="112.4" y1="218.0" x2="116.4" y2="212.5" stroke="#25a825" stroke-width="3.00" stroke-linecap="round"/><line x1="116.4" y1="212.5" x2="120.4" y2="207.0" stroke="#9a9a9a" stroke-width="2.55" stroke-linecap="round"/><line x1="135.8" y1="218.0" x2="135.8" y2="212.5" stroke="#25a825" stroke-width="3.00" stroke-linecap="round"/><line x1="135.8" y1="212.5" x2="135.8" y2="207.0" stroke="#9a9a9a" stroke-width="2.55" stroke-linecap="round"/><line x1="135.8" y1="218.0" x2="133.2" y2="216.2" stroke="#25a825" stroke-width="3.00" stroke-linecap="round"/><line x1="133.2" y1="216.2" x2="130.7" y2="214.3" stroke="#9a9a9a" stroke-width="2.55" stroke-linecap="round"/><line x1="135.8" y1="218.0" x2="142.7" y2="220.9" stroke="#25a825" stroke-width="3.00" stroke-linecap="round"/><line x1="142.7" y1="220.9" x2="149.6" y2="223.8" stroke="#9a9a9a" stroke-width="2.55" stroke-linecap="round"/><line x1="110.6" y1="258.8" x2="115.2" y2="267.4" stroke="#25a825" stroke-width="4.30" stroke-linecap="round"/><line x1="115.2" y1="267.4" x2="119.8" y2="275.9" stroke="#25a825" stroke-width="4.30" stroke-linecap="round"/><line x1="119.8" y1="275.9" x2="119.2" y2="281.1" stroke="#25a825" stroke-width="3.00" stroke-linecap="round"/><line x1="119.2" y1="281.1" x2="118.5" y2="286.4" stroke="#9a9a9a" stroke-width="2.55" stroke-linecap="round"/><line x1="119.8" y1="275.9" x2="126.4" y2="276.1" stroke="#25a825" stroke-width="3.00" stroke-linecap="round"/><line x1="126.4" y1="276.1" x2="133.0" y2="276.4" stroke="#9a9a9a" stroke-width="2.55" stroke-linecap="round"/><line x1="97.5" y1="260.1" x2="96.8" y2="266.6" stroke="#25a825" stroke-width="4.30" stroke-linecap="round"/><line x1="96.8" y1="266.6" x2="96.2" y2="273.2" stroke="#25a825" stroke-width="4.30" stroke-linecap="round"/><line x1="96.2" y1="273.2" x2="89.0" y2="273.9" stroke="#25a825" stroke-width="4.30" stroke-linecap="round"/><line x1="89.0" y1="273.9" x2="81.7" y2="274.5" stroke="#1a1aa8" stroke-width="4.30" stroke-linecap="round"/><line x1="81.7" y1="274.5" x2="77.1" y2="271.0" stroke="#1a1aa8" stroke-width="3.00" stroke-linecap="round"/><line x1="77.1" y1="271.0" x2="72.5" y2="267.5" stroke="#9a9a9a" stroke-width="2.55" stroke-linecap="round"/><line x1="81.7" y1="274.5" x2="79.8" y2="278.4" stroke="#1a1aa8" stroke-width="3.00" stroke-linecap="round"/><line x1="79.8" y1="278.4" x2="77.8" y2="282.4" stroke="#9a9a9a" stroke-width="2.55" stroke-linecap="round"/><line x1="79.1" y1="161.6" x2="80.2" y2="166.3" stroke="#3030ee" stroke-width="3.00" stroke-linecap="round"/><line x1="80.2" y1="166.3" x2="81.2" y2="171.0" stroke="#3030ee" stroke-width="3.00" stroke-linecap="round"/><line x1="81.2" y1="171.0" x2="82.8" y2="179.4" stroke="#42e042" stroke-width="3.00" stroke-linecap="round"/><line x1="82.8" y1="179.4" x2="84.4" y2="187.8" stroke="#42e042" stroke-width="3.00" stroke-linecap="round"/><line x1="84.4" y1="187.8" x2="90.6" y2="188.5" stroke="#42e042" stroke-width="3.00" stroke-linecap="round"/><line x1="90.6" y1="188.5" x2="96.7" y2="189.2" stroke="#42e042" stroke-width="3.00" stroke-linecap="round"/><line x1="86.3" y1="191.0" x2="90.2" y2="191.5" stroke="#42e042" stroke-width="1.70" stroke-linecap="round"/><line x1="90.2" y1="191.5" x2="94.1" y2="191.9" stroke="#42e042" stroke-width="1.70" stroke-linecap="round"/><line x1="96.7" y1="189.2" x2="98.4" y2="197.1" stroke="#42e042" stroke-width="3.00" stroke-linecap="round"/><line x1="98.4" y1="197.1" x2="100.1" y2="204.9" stroke="#42e042" stroke-width="3.00" stroke-linecap="round"/><line x1="100.1" y1="204.9" x2="93.5" y2="210.4" stroke="#42e042" stroke-width="3.00" stroke-linecap="round"/><line x1="93.5" y1="210.4" x2="87.0" y2="216.0" stroke="#42e042" stroke-width="3.00" stroke-linecap="round"/><line x1="95.8" y1="204.6" x2="91.6" y2="208.2" stroke="#42e042" stroke-width="1.70" stroke-linecap="round"/><line x1="91.6" y1="208.2" x2="87.4" y2="211.7" stroke="#42e042" stroke-width="1.70" stroke-linecap="round"/><line x1="87.0" y1="216.0" x2="79.5" y2="213.8" stroke="#42e042" stroke-width="3.00" stroke-linecap="round"/><line x1="79.5" y1="213.8" x2="72.0" y2="211.5" stroke="#42e042" stroke-width="3.00" stroke-linecap="round"/><line x1="72.0" y1="211.5" x2="71.2" y2="204.2" stroke="#42e042" stroke-width="3.00" stroke-linecap="round"/><line x1="71.2" y1="204.2" x2="70.4" y2="197.0" stroke="#42e042" stroke-width="3.00" stroke-linecap="round"/><line x1="74.7" y1="208.6" x2="74.2" y2="203.9" stroke="#42e042" stroke-width="1.70" stroke-linecap="round"/><line x1="74.2" y1="203.9" x2="73.7" y2="199.3" stroke="#42e042" stroke-width="1.70" stroke-linecap="round"/><line x1="70.4" y1="197.0" x2="77.4" y2="192.4" stroke="#42e042" stroke-width="3.00" stroke-linecap="round"/><line x1="77.4" y1="192.4" x2="84.4" y2="187.8" stroke="#42e042" stroke-width="3.00" stroke-linecap="round"/><line x1="96.7" y1="189.2" x2="104.3" y2="183.2" stroke="#42e042" stroke-width="3.00" stroke-linecap="round"/><line x1="104.3" y1="183.2" x2="112.0" y2="177.3" stroke="#42e042" stroke-width="3.00" stroke-linecap="round"/><line x1="112.0" y1="177.3" x2="111.3" y2="173.4" stroke="#42e042" stroke-width="1.70" stroke-linecap="round"/><line x1="111.3" y1="173.4" x2="110.6" y2="169.5" stroke="#f6f6f6" stroke-width="1.27" stroke-linecap="round"/><line x1="112.0" y1="177.3" x2="116.6" y2="179.9" stroke="#42e042" stroke-width="1.70" stroke-linecap="round"/><line x1="116.6" y1="179.9" x2="121.2" y2="182.6" stroke="#f6f6f6" stroke-width="1.27" stroke-linecap="round"/><line x1="112.0" y1="177.3" x2="113.5" y2="174.7" stroke="#42e042" stroke-width="1.70" stroke-linecap="round"/><line x1="113.5" y1="174.7" x2="115.0" y2="172.0" stroke="#f6f6f6" stroke-width="1.27" stroke-linecap="round"/><line x1="70.4" y1="197.0" x2="66.9" y2="196.3" stroke="#42e042" stroke-width="1.70" stroke-linecap="round"/><line x1="66.9" y1="196.3" x2="63.4" y2="195.7" stroke="#f6f6f6" stroke-width="1.27" stroke-linecap="round"/><line x1="100.1" y1="204.9" x2="104.0" y2="205.2" stroke="#42e042" stroke-width="1.70" stroke-linecap="round"/><line x1="104.0" y1="205.2" x2="108.0" y2="205.5" stroke="#f6f6f6" stroke-width="1.27" stroke-linecap="round"/><line x1="72.0" y1="211.5" x2="68.6" y2="218.1" stroke="#42e042" stroke-width="3.00" stroke-linecap="round"/><line x1="68.6" y1="218.1" x2="65.2" y2="224.6" stroke="#3030ee" stroke-width="3.00" stroke-linecap="round"/><line x1="65.2" y1="224.6" x2="66.5" y2="230.2" stroke="#3030ee" stroke-width="3.00" stroke-linecap="round"/><line x1="66.5" y1="230.2" x2="67.8" y2="235.9" stroke="#42e042" stroke-width="3.00" stroke-linecap="round"/><line x1="67.8" y1="235.9" x2="75.4" y2="234.2" stroke="#42e042" stroke-width="3.00" stroke-linecap="round"/><line x1="75.4" y1="234.2" x2="83.1" y2="232.5" stroke="#42e042" stroke-width="3.00" stroke-linecap="round"/><line x1="69.9" y1="232.4" x2="74.8" y2="231.3" stroke="#42e042" stroke-width="1.70" stroke-linecap="round"/><line x1="74.8" y1="231.3" x2="79.7" y2="230.2" stroke="#42e042" stroke-width="1.70" stroke-linecap="round"/><line x1="83.1" y1="232.5" x2="85.0" y2="224.2" stroke="#42e042" stroke-width="3.00" stroke-linecap="round"/><line x1="85.0" y1="224.2" x2="87.0" y2="216.0" stroke="#42e042" stroke-width="3.00" stroke-linecap="round"/><line x1="65.2" y1="224.6" x2="60.4" y2="226.3" stroke="#3030ee" stroke-width="1.70" stroke-linecap="round"/><line x1="60.4" y1="226.3" x2="55.5" y2="228.0" stroke="#f6f6f6" stroke-width="1.27" stroke-linecap="round"/><line x1="67.8" y1="235.9" x2="66.2" y2="241.2" stroke="#42e042" stroke-width="1.70" stroke-linecap="round"/><line x1="66.2" y1="241.2" x2="64.7" y2="246.5" stroke="#f6f6f6" stroke-width="1.27" stroke-linecap="round"/><line x1="83.1" y1="232.5" x2="89.0" y2="237.1" stroke="#42e042" stroke-width="3.00" stroke-linecap="round"/><line x1="89.0" y1="237.1" x2="94.9" y2="241.7" stroke="#42e042" stroke-width="3.00" stroke-linecap="round"/><line x1="94.9" y1="241.7" x2="98.8" y2="236.7" stroke="#42e042" stroke-width="3.00" stroke-linecap="round"/><line x1="98.8" y1="236.7" x2="102.8" y2="231.7" stroke="#e84444" stroke-width="3.00" stroke-linecap="round"/><line x1="102.8" y1="231.7" x2="106.9" y2="236.5" stroke="#e84444" stroke-width="3.00" stroke-linecap="round"/><line x1="106.9" y1="236.5" x2="111.0" y2="241.3" stroke="#42e042" stroke-width="3.00" stroke-linecap="round"/><line x1="111.0" y1="241.3" x2="110.8" y2="250.1" stroke="#42e042" stroke-width="3.00" stroke-linecap="round"/><line x1="110.8" y1="250.1" x2="110.6" y2="258.8" stroke="#42e042" stroke-width="3.00" stroke-linecap="round"/><line x1="110.6" y1="258.8" x2="104.0" y2="259.5" stroke="#42e042" stroke-width="3.00" stroke-linecap="round"/><line x1="104.0" y1="259.5" x2="97.5" y2="260.1" stroke="#42e042" stroke-width="3.00" stroke-linecap="round"/><line x1="107.9" y1="256.0" x2="103.8" y2="256.5" stroke="#42e042" stroke-width="1.70" stroke-linecap="round"/><line x1="103.8" y1="256.5" x2="99.6" y2="256.9" stroke="#42e042" stroke-width="1.70" stroke-linecap="round"/><line x1="97.5" y1="260.1" x2="96.2" y2="250.9" stroke="#42e042" stroke-width="3.00" stroke-linecap="round"/><line x1="96.2" y1="250.9" x2="94.9" y2="241.7" stroke="#42e042" stroke-width="3.00" stroke-linecap="round"/><line x1="111.0" y1="241.3" x2="122.5" y2="236.5" stroke="#24a024" stroke-width="3.30" stroke-linecap="round"/><line x1="122.5" y1="236.5" x2="117.5" y2="227.2" stroke="#42e042" stroke-width="3.00" stroke-linecap="round"/><line x1="117.5" y1="227.2" x2="112.4" y2="218.0" stroke="#42e042" stroke-width="3.00" stroke-linecap="round"/><line x1="122.5" y1="236.5" x2="129.2" y2="227.2" stroke="#42e042" stroke-width="3.00" stroke-linecap="round"/><line x1="129.2" y1="227.2" x2="135.8" y2="218.0" stroke="#42e042" stroke-width="3.00" stroke-linecap="round"/><line x1="122.5" y1="236.5" x2="124.8" y2="241.8" stroke="#42e042" stroke-width="1.70" stroke-linecap="round"/><line x1="124.8" y1="241.8" x2="127.0" y2="247.2" stroke="#f6f6f6" stroke-width="1.27" stroke-linecap="round"/><line x1="112.4" y1="218.0" x2="107.7" y2="216.5" stroke="#42e042" stroke-width="1.70" stroke-linecap="round"/><line x1="107.7" y1="216.5" x2="102.9" y2="215.0" stroke="#f6f6f6" stroke-width="1.27" stroke-linecap="round"/><line x1="112.4" y1="218.0" x2="108.4" y2="220.2" stroke="#42e042" stroke-width="1.70" stroke-linecap="round"/><line x1="108.4" y1="220.2" x2="104.4" y2="222.3" stroke="#f6f6f6" stroke-width="1.27" stroke-linecap="round"/><line x1="112.4" y1="218.0" x2="116.4" y2="212.5" stroke="#42e042" stroke-width="1.70" stroke-linecap="round"/><line x1="116.4" y1="212.5" x2="120.4" y2="207.0" stroke="#f6f6f6" stroke-width="1.27" stroke-linecap="round"/><line x1="135.8" y1="218.0" x2="135.8" y2="212.5" stroke="#42e042" stroke-width="1.70" stroke-linecap="round"/><line x1="135.8" y1="212.5" x2="135.8" y2="207.0" stroke="#f6f6f6" stroke-width="1.27" stroke-linecap="round"/><line x1="135.8" y1="218.0" x2="133.2" y2="216.2" stroke="#42e042" stroke-width="1.70" stroke-linecap="round"/><line x1="133.2" y1="216.2" x2="130.7" y2="214.3" stroke="#f6f6f6" stroke-width="1.27" stroke-linecap="round"/><line x1="135.8" y1="218.0" x2="142.7" y2="220.9" stroke="#42e042" stroke-width="1.70" stroke-linecap="round"/><line x1="142.7" y1="220.9" x2="149.6" y2="223.8" stroke="#f6f6f6" stroke-width="1.27" stroke-linecap="round"/><line x1="110.6" y1="258.8" x2="115.2" y2="267.4" stroke="#42e042" stroke-width="3.00" stroke-linecap="round"/><line x1="115.2" y1="267.4" x2="119.8" y2="275.9" stroke="#42e042" stroke-width="3.00" stroke-linecap="round"/><line x1="119.8" y1="275.9" x2="119.2" y2="281.1" stroke="#42e042" stroke-width="1.70" stroke-linecap="round"/><line x1="119.2" y1="281.1" x2="118.5" y2="286.4" stroke="#f6f6f6" stroke-width="1.27" stroke-linecap="round"/><line x1="119.8" y1="275.9" x2="126.4" y2="276.1" stroke="#42e042" stroke-width="1.70" stroke-linecap="round"/><line x1="126.4" y1="276.1" x2="133.0" y2="276.4" stroke="#f6f6f6" stroke-width="1.27" stroke-linecap="round"/><line x1="97.5" y1="260.1" x2="96.8" y2="266.6" stroke="#42e042" stroke-width="3.00" stroke-linecap="round"/><line x1="96.8" y1="266.6" x2="96.2" y2="273.2" stroke="#42e042" stroke-width="3.00" stroke-linecap="round"/><line x1="96.2" y1="273.2" x2="89.0" y2="273.9" stroke="#42e042" stroke-width="3.00" stroke-linecap="round"/><line x1="89.0" y1="273.9" x2="81.7" y2="274.5" stroke="#3030ee" stroke-width="3.00" stroke-linecap="round"/><line x1="81.7" y1="274.5" x2="77.1" y2="271.0" stroke="#3030ee" stroke-width="1.70" stroke-linecap="round"/><line x1="77.1" y1="271.0" x2="72.5" y2="267.5" stroke="#f6f6f6" stroke-width="1.27" stroke-linecap="round"/><line x1="81.7" y1="274.5" x2="79.8" y2="278.4" stroke="#3030ee" stroke-width="1.70" stroke-linecap="round"/><line x1="79.8" y1="278.4" x2="77.8" y2="282.4" stroke="#f6f6f6" stroke-width="1.27" stroke-linecap="round"/><line x1="97.2" y1="272.2" x2="101.8" y2="276.8" stroke="#42e042" stroke-width="2.00" stroke-linecap="butt"/><line x1="101.8" y1="276.8" x2="106.4" y2="281.4" stroke="#e84444" stroke-width="2.00" stroke-linecap="butt"/><line x1="95.2" y1="274.2" x2="99.8" y2="278.8" stroke="#42e042" stroke-width="2.00" stroke-linecap="butt"/><line x1="99.8" y1="278.8" x2="104.4" y2="283.4" stroke="#e84444" stroke-width="2.00" stroke-linecap="butt"/></g>
<text x="137.80" y="196.40" font-size="13.0" text-anchor="start" font-weight="normal" fill="#c8101a">H38</text>
<line x1="136.2" y1="196.8" x2="126.3" y2="202.1" stroke="#c8101a" stroke-width="1.2"/>
<polygon points="122.6,204.1 125.4,200.4 127.2,203.9" fill="#c8101a"/>
<text x="167.00" y="205.80" font-size="13.0" text-anchor="start" font-weight="normal" fill="#c8101a">H43</text>
<line x1="166.4" y1="202.6" x2="143.3" y2="206.1" stroke="#c8101a" stroke-width="1.2"/>
<polygon points="139.1,206.7 143.0,204.1 143.6,208.1" fill="#c8101a"/>
<text x="144.60" y="241.60" font-size="13.0" text-anchor="start" font-weight="normal" fill="#c8101a">C24</text>
<line x1="144.5" y1="232.6" x2="138.4" y2="224.9" stroke="#c8101a" stroke-width="1.2"/>
<polygon points="135.8,221.6 140.0,223.7 136.8,226.1" fill="#c8101a"/>
<text x="137.80" y="258.80" font-size="13.0" text-anchor="start" font-weight="normal" fill="#c8101a">C23</text>
<line x1="138.7" y1="248.6" x2="116.7" y2="223.7" stroke="#c8101a" stroke-width="1.2"/>
<polygon points="113.9,220.6 118.2,222.4 115.2,225.1" fill="#c8101a"/>
<g><line x1="88.3" y1="358.9" x2="81.8" y2="361.6" stroke="#25a825" stroke-width="4.30" stroke-linecap="round"/><line x1="81.8" y1="361.6" x2="75.2" y2="364.4" stroke="#1a1aa8" stroke-width="4.30" stroke-linecap="round"/><line x1="75.2" y1="364.4" x2="78.0" y2="373.1" stroke="#1a1aa8" stroke-width="4.30" stroke-linecap="round"/><line x1="78.0" y1="373.1" x2="80.7" y2="381.9" stroke="#1a1aa8" stroke-width="4.30" stroke-linecap="round"/><line x1="80.7" y1="381.9" x2="88.9" y2="382.4" stroke="#1a1aa8" stroke-width="4.30" stroke-linecap="round"/><line x1="88.9" y1="382.4" x2="97.1" y2="383.0" stroke="#25a825" stroke-width="4.30" stroke-linecap="round"/><line x1="97.1" y1="383.0" x2="100.9" y2="375.9" stroke="#25a825" stroke-width="4.30" stroke-linecap="round"/><line x1="100.9" y1="375.9" x2="104.7" y2="368.8" stroke="#25a825" stroke-width="4.30" stroke-linecap="round"/><line x1="104.7" y1="368.8" x2="96.5" y2="363.9" stroke="#25a825" stroke-width="4.30" stroke-linecap="round"/><line x1="96.5" y1="363.9" x2="88.3" y2="358.9" stroke="#25a825" stroke-width="4.30" stroke-linecap="round"/><line x1="88.3" y1="358.9" x2="92.2" y2="350.7" stroke="#25a825" stroke-width="4.30" stroke-linecap="round"/><line x1="92.2" y1="350.7" x2="96.0" y2="342.5" stroke="#25a825" stroke-width="4.30" stroke-linecap="round"/><line x1="96.0" y1="342.5" x2="106.4" y2="342.5" stroke="#25a825" stroke-width="4.30" stroke-linecap="round"/><line x1="106.4" y1="342.5" x2="116.8" y2="342.5" stroke="#25a825" stroke-width="4.30" stroke-linecap="round"/><line x1="116.8" y1="342.5" x2="118.4" y2="350.1" stroke="#25a825" stroke-width="4.30" stroke-linecap="round"/><line x1="118.4" y1="350.1" x2="120.1" y2="357.8" stroke="#25a825" stroke-width="4.30" stroke-linecap="round"/><line x1="120.1" y1="357.8" x2="112.4" y2="363.3" stroke="#25a825" stroke-width="4.30" stroke-linecap="round"/><line x1="112.4" y1="363.3" x2="104.7" y2="368.8" stroke="#25a825" stroke-width="4.30" stroke-linecap="round"/><line x1="80.7" y1="381.9" x2="74.1" y2="388.5" stroke="#1a1aa8" stroke-width="4.30" stroke-linecap="round"/><line x1="74.1" y1="388.5" x2="67.5" y2="395.1" stroke="#1a1aa8" stroke-width="4.30" stroke-linecap="round"/><line x1="67.5" y1="395.1" x2="62.0" y2="392.4" stroke="#1a1aa8" stroke-width="3.00" stroke-linecap="round"/><line x1="62.0" y1="392.4" x2="56.6" y2="389.6" stroke="#9a9a9a" stroke-width="2.55" stroke-linecap="round"/><line x1="67.5" y1="395.1" x2="69.2" y2="397.8" stroke="#1a1aa8" stroke-width="3.00" stroke-linecap="round"/><line x1="69.2" y1="397.8" x2="70.8" y2="400.5" stroke="#9a9a9a" stroke-width="2.55" stroke-linecap="round"/><line x1="75.2" y1="364.4" x2="70.8" y2="364.2" stroke="#1a1aa8" stroke-width="3.00" stroke-linecap="round"/><line x1="70.8" y1="364.2" x2="66.4" y2="364.0" stroke="#9a9a9a" stroke-width="2.55" stroke-linecap="round"/><line x1="97.1" y1="383.0" x2="98.8" y2="387.9" stroke="#25a825" stroke-width="3.00" stroke-linecap="round"/><line x1="98.8" y1="387.9" x2="100.4" y2="392.9" stroke="#9a9a9a" stroke-width="2.55" stroke-linecap="round"/><line x1="96.0" y1="342.5" x2="94.3" y2="338.7" stroke="#25a825" stroke-width="3.00" stroke-linecap="round"/><line x1="94.3" y1="338.7" x2="92.7" y2="334.9" stroke="#9a9a9a" stroke-width="2.55" stroke-linecap="round"/><line x1="116.8" y1="342.5" x2="117.9" y2="338.4" stroke="#25a825" stroke-width="3.00" stroke-linecap="round"/><line x1="117.9" y1="338.4" x2="119.0" y2="334.2" stroke="#9a9a9a" stroke-width="2.55" stroke-linecap="round"/><line x1="120.1" y1="357.8" x2="128.8" y2="360.0" stroke="#25a825" stroke-width="4.30" stroke-linecap="round"/><line x1="128.8" y1="360.0" x2="137.6" y2="362.2" stroke="#25a825" stroke-width="4.30" stroke-linecap="round"/><line x1="137.6" y1="362.2" x2="144.1" y2="355.6" stroke="#25a825" stroke-width="4.30" stroke-linecap="round"/><line x1="144.1" y1="355.6" x2="150.7" y2="349.1" stroke="#1a1aa8" stroke-width="4.30" stroke-linecap="round"/><line x1="150.7" y1="349.1" x2="150.1" y2="344.7" stroke="#1a1aa8" stroke-width="3.00" stroke-linecap="round"/><line x1="150.1" y1="344.7" x2="149.6" y2="340.3" stroke="#9a9a9a" stroke-width="2.55" stroke-linecap="round"/><line x1="150.7" y1="349.1" x2="159.4" y2="353.5" stroke="#1a1aa8" stroke-width="4.30" stroke-linecap="round"/><line x1="159.4" y1="353.5" x2="168.2" y2="357.8" stroke="#25a825" stroke-width="4.30" stroke-linecap="round"/><line x1="137.6" y1="362.2" x2="139.8" y2="366.6" stroke="#25a825" stroke-width="3.00" stroke-linecap="round"/><line x1="139.8" y1="366.6" x2="142.0" y2="371.0" stroke="#9a9a9a" stroke-width="2.55" stroke-linecap="round"/><line x1="168.2" y1="357.8" x2="163.8" y2="366.6" stroke="#25a825" stroke-width="4.30" stroke-linecap="round"/><line x1="163.8" y1="366.6" x2="159.5" y2="375.4" stroke="#25a825" stroke-width="4.30" stroke-linecap="round"/><line x1="159.5" y1="375.4" x2="166.6" y2="381.9" stroke="#25a825" stroke-width="4.30" stroke-linecap="round"/><line x1="166.6" y1="381.9" x2="173.7" y2="388.5" stroke="#25a825" stroke-width="4.30" stroke-linecap="round"/><line x1="173.7" y1="388.5" x2="181.3" y2="385.8" stroke="#25a825" stroke-width="4.30" stroke-linecap="round"/><line x1="181.3" y1="385.8" x2="189.0" y2="383.0" stroke="#b02020" stroke-width="4.30" stroke-linecap="round"/><line x1="189.0" y1="383.0" x2="190.7" y2="387.4" stroke="#b02020" stroke-width="3.00" stroke-linecap="round"/><line x1="190.7" y1="387.4" x2="192.3" y2="391.8" stroke="#9a9a9a" stroke-width="2.55" stroke-linecap="round"/><line x1="173.7" y1="388.5" x2="172.6" y2="394.5" stroke="#25a825" stroke-width="3.00" stroke-linecap="round"/><line x1="172.6" y1="394.5" x2="171.5" y2="400.5" stroke="#9a9a9a" stroke-width="2.55" stroke-linecap="round"/><line x1="159.5" y1="375.4" x2="154.6" y2="376.5" stroke="#25a825" stroke-width="3.00" stroke-linecap="round"/><line x1="154.6" y1="376.5" x2="149.6" y2="377.6" stroke="#9a9a9a" stroke-width="2.55" stroke-linecap="round"/><line x1="88.3" y1="358.9" x2="81.8" y2="361.6" stroke="#42e042" stroke-width="3.00" stroke-linecap="round"/><line x1="81.8" y1="361.6" x2="75.2" y2="364.4" stroke="#3030ee" stroke-width="3.00" stroke-linecap="round"/><line x1="75.2" y1="364.4" x2="78.0" y2="373.1" stroke="#3030ee" stroke-width="3.00" stroke-linecap="round"/><line x1="78.0" y1="373.1" x2="80.7" y2="381.9" stroke="#3030ee" stroke-width="3.00" stroke-linecap="round"/><line x1="80.7" y1="381.9" x2="88.9" y2="382.4" stroke="#3030ee" stroke-width="3.00" stroke-linecap="round"/><line x1="88.9" y1="382.4" x2="97.1" y2="383.0" stroke="#42e042" stroke-width="3.00" stroke-linecap="round"/><line x1="97.1" y1="383.0" x2="100.9" y2="375.9" stroke="#42e042" stroke-width="3.00" stroke-linecap="round"/><line x1="100.9" y1="375.9" x2="104.7" y2="368.8" stroke="#42e042" stroke-width="3.00" stroke-linecap="round"/><line x1="104.7" y1="368.8" x2="96.5" y2="363.9" stroke="#42e042" stroke-width="3.00" stroke-linecap="round"/><line x1="96.5" y1="363.9" x2="88.3" y2="358.9" stroke="#42e042" stroke-width="3.00" stroke-linecap="round"/><line x1="103.3" y1="364.4" x2="98.1" y2="361.3" stroke="#42e042" stroke-width="1.70" stroke-linecap="round"/><line x1="98.1" y1="361.3" x2="92.8" y2="358.1" stroke="#42e042" stroke-width="1.70" stroke-linecap="round"/><line x1="88.3" y1="358.9" x2="92.2" y2="350.7" stroke="#42e042" stroke-width="3.00" stroke-linecap="round"/><line x1="92.2" y1="350.7" x2="96.0" y2="342.5" stroke="#42e042" stroke-width="3.00" stroke-linecap="round"/><line x1="96.0" y1="342.5" x2="106.4" y2="342.5" stroke="#42e042" stroke-width="3.00" stroke-linecap="round"/><line x1="106.4" y1="342.5" x2="116.8" y2="342.5" stroke="#42e042" stroke-width="3.00" stroke-linecap="round"/><line x1="99.7" y1="345.5" x2="106.4" y2="345.5" stroke="#42e042" stroke-width="1.70" stroke-linecap="round"/><line x1="106.4" y1="345.5" x2="113.1" y2="345.5" stroke="#42e042" stroke-width="1.70" stroke-linecap="round"/><line x1="116.8" y1="342.5" x2="118.4" y2="350.1" stroke="#42e042" stroke-width="3.00" stroke-linecap="round"/><line x1="118.4" y1="350.1" x2="120.1" y2="357.8" stroke="#42e042" stroke-width="3.00" stroke-linecap="round"/><line x1="120.1" y1="357.8" x2="112.4" y2="363.3" stroke="#42e042" stroke-width="3.00" stroke-linecap="round"/><line x1="112.4" y1="363.3" x2="104.7" y2="368.8" stroke="#42e042" stroke-width="3.00" stroke-linecap="round"/><line x1="80.7" y1="381.9" x2="74.1" y2="388.5" stroke="#3030ee" stroke-width="3.00" stroke-linecap="round"/><line x1="74.1" y1="388.5" x2="67.5" y2="395.1" stroke="#3030ee" stroke-width="3.00" stroke-linecap="round"/><line x1="67.5" y1="395.1" x2="62.0" y2="392.4" stroke="#3030ee" stroke-width="1.70" stroke-linecap="round"/><line x1="62.0" y1="392.4" x2="56.6" y2="389.6" stroke="#f6f6f6" stroke-width="1.27" stroke-linecap="round"/><line x1="67.5" y1="395.1" x2="69.2" y2="397.8" stroke="#3030ee" stroke-width="1.70" stroke-linecap="round"/><line x1="69.2" y1="397.8" x2="70.8" y2="400.5" stroke="#f6f6f6" stroke-width="1.27" stroke-linecap="round"/><line x1="75.2" y1="364.4" x2="70.8" y2="364.2" stroke="#3030ee" stroke-width="1.70" stroke-linecap="round"/><line x1="70.8" y1="364.2" x2="66.4" y2="364.0" stroke="#f6f6f6" stroke-width="1.27" stroke-linecap="round"/><line x1="97.1" y1="383.0" x2="98.8" y2="387.9" stroke="#42e042" stroke-width="1.70" stroke-linecap="round"/><line x1="98.8" y1="387.9" x2="100.4" y2="392.9" stroke="#f6f6f6" stroke-width="1.27" stroke-linecap="round"/><line x1="96.0" y1="342.5" x2="94.3" y2="338.7" stroke="#42e042" stroke-width="1.70" stroke-linecap="round"/><line x1="94.3" y1="338.7" x2="92.7" y2="334.9" stroke="#f6f6f6" stroke-width="1.27" stroke-linecap="round"/><line x1="116.8" y1="342.5" x2="117.9" y2="338.4" stroke="#42e042" stroke-width="1.70" stroke-linecap="round"/><line x1="117.9" y1="338.4" x2="119.0" y2="334.2" stroke="#f6f6f6" stroke-width="1.27" stroke-linecap="round"/><line x1="120.1" y1="357.8" x2="128.8" y2="360.0" stroke="#42e042" stroke-width="3.00" stroke-linecap="round"/><line x1="128.8" y1="360.0" x2="137.6" y2="362.2" stroke="#42e042" stroke-width="3.00" stroke-linecap="round"/><line x1="122.5" y1="361.5" x2="128.1" y2="362.9" stroke="#42e042" stroke-width="1.70" stroke-linecap="round"/><line x1="128.1" y1="362.9" x2="133.7" y2="364.3" stroke="#42e042" stroke-width="1.70" stroke-linecap="round"/><line x1="137.6" y1="362.2" x2="144.1" y2="355.6" stroke="#42e042" stroke-width="3.00" stroke-linecap="round"/><line x1="144.1" y1="355.6" x2="150.7" y2="349.1" stroke="#3030ee" stroke-width="3.00" stroke-linecap="round"/><line x1="150.7" y1="349.1" x2="150.1" y2="344.7" stroke="#3030ee" stroke-width="1.70" stroke-linecap="round"/><line x1="150.1" y1="344.7" x2="149.6" y2="340.3" stroke="#f6f6f6" stroke-width="1.27" stroke-linecap="round"/><line x1="150.7" y1="349.1" x2="159.4" y2="353.5" stroke="#3030ee" stroke-width="3.00" stroke-linecap="round"/><line x1="159.4" y1="353.5" x2="168.2" y2="357.8" stroke="#42e042" stroke-width="3.00" stroke-linecap="round"/><line x1="167.9" y1="356.4" x2="173.4" y2="355.3" stroke="#42e042" stroke-width="2.00" stroke-linecap="butt"/><line x1="173.4" y1="355.3" x2="178.9" y2="354.3" stroke="#e84444" stroke-width="2.00" stroke-linecap="butt"/><line x1="168.5" y1="359.2" x2="174.0" y2="358.2" stroke="#42e042" stroke-width="2.00" stroke-linecap="butt"/><line x1="174.0" y1="358.2" x2="179.5" y2="357.1" stroke="#e84444" stroke-width="2.00" stroke-linecap="butt"/><line x1="137.6" y1="362.2" x2="139.8" y2="366.6" stroke="#42e042" stroke-width="1.70" stroke-linecap="round"/><line x1="139.8" y1="366.6" x2="142.0" y2="371.0" stroke="#f6f6f6" stroke-width="1.27" stroke-linecap="round"/><line x1="168.2" y1="357.8" x2="163.8" y2="366.6" stroke="#42e042" stroke-width="3.00" stroke-linecap="round"/><line x1="163.8" y1="366.6" x2="159.5" y2="375.4" stroke="#42e042" stroke-width="3.00" stroke-linecap="round"/><line x1="159.5" y1="375.4" x2="166.6" y2="381.9" stroke="#42e042" stroke-width="3.00" stroke-linecap="round"/><line x1="166.6" y1="381.9" x2="173.7" y2="388.5" stroke="#42e042" stroke-width="3.00" stroke-linecap="round"/><line x1="173.7" y1="388.5" x2="181.3" y2="385.8" stroke="#42e042" stroke-width="3.00" stroke-linecap="round"/><line x1="181.3" y1="385.8" x2="189.0" y2="383.0" stroke="#e84444" stroke-width="3.00" stroke-linecap="round"/><line x1="189.0" y1="383.0" x2="190.7" y2="387.4" stroke="#e84444" stroke-width="1.70" stroke-linecap="round"/><line x1="190.7" y1="387.4" x2="192.3" y2="391.8" stroke="#f6f6f6" stroke-width="1.27" stroke-linecap="round"/><line x1="173.7" y1="388.5" x2="172.6" y2="394.5" stroke="#42e042" stroke-width="1.70" stroke-linecap="round"/><line x1="172.6" y1="394.5" x2="171.5" y2="400.5" stroke="#f6f6f6" stroke-width="1.27" stroke-linecap="round"/><line x1="159.5" y1="375.4" x2="154.6" y2="376.5" stroke="#42e042" stroke-width="1.70" stroke-linecap="round"/><line x1="154.6" y1="376.5" x2="149.6" y2="377.6" stroke="#f6f6f6" stroke-width="1.27" stroke-linecap="round"/></g>
<text x="130.30" y="336.60" font-size="13.0" text-anchor="start" font-weight="normal" fill="#c8101a">H18</text>
<line x1="143.7" y1="338.1" x2="143.7" y2="367.2" stroke="#c8101a" stroke-width="1.2"/>
<polygon points="143.7,371.4 141.7,367.2 145.7,367.2" fill="#c8101a"/>
<text x="163.40" y="342.00" font-size="13.0" text-anchor="start" font-weight="normal" fill="#c8101a">H32</text>
<line x1="172.6" y1="343.6" x2="150.5" y2="375.2" stroke="#c8101a" stroke-width="1.2"/>
<polygon points="148.1,378.6 148.9,374.0 152.1,376.3" fill="#c8101a"/>
<text x="112.60" y="388.10" font-size="13.0" text-anchor="start" font-weight="normal" fill="#c8101a">C2</text>
<line x1="124.4" y1="379.7" x2="133.5" y2="367.7" stroke="#c8101a" stroke-width="1.2"/>
<polygon points="136.0,364.4 135.1,369.0 131.9,366.5" fill="#c8101a"/>
<text x="131.20" y="402.80" font-size="13.0" text-anchor="start" font-weight="normal" fill="#c8101a">C15</text>
<line x1="144.2" y1="394.0" x2="154.6" y2="381.8" stroke="#c8101a" stroke-width="1.2"/>
<polygon points="157.3,378.6 156.1,383.1 153.1,380.5" fill="#c8101a"/>
<g><line x1="64.7" y1="512.0" x2="73.6" y2="513.6" stroke="#25a825" stroke-width="4.30" stroke-linecap="round"/><line x1="73.6" y1="513.6" x2="82.4" y2="515.2" stroke="#25a825" stroke-width="4.30" stroke-linecap="round"/><line x1="82.4" y1="515.2" x2="83.6" y2="524.9" stroke="#25a825" stroke-width="4.30" stroke-linecap="round"/><line x1="83.6" y1="524.9" x2="84.8" y2="534.5" stroke="#25a825" stroke-width="4.30" stroke-linecap="round"/><line x1="84.8" y1="534.5" x2="76.8" y2="538.1" stroke="#25a825" stroke-width="4.30" stroke-linecap="round"/><line x1="76.8" y1="538.1" x2="68.7" y2="541.7" stroke="#25a825" stroke-width="4.30" stroke-linecap="round"/><line x1="68.7" y1="541.7" x2="61.9" y2="535.7" stroke="#25a825" stroke-width="4.30" stroke-linecap="round"/><line x1="61.9" y1="535.7" x2="55.1" y2="529.7" stroke="#25a825" stroke-width="4.30" stroke-linecap="round"/><line x1="55.1" y1="529.7" x2="59.9" y2="520.9" stroke="#25a825" stroke-width="4.30" stroke-linecap="round"/><line x1="59.9" y1="520.9" x2="64.7" y2="512.0" stroke="#25a825" stroke-width="4.30" stroke-linecap="round"/><line x1="82.4" y1="515.2" x2="89.2" y2="510.8" stroke="#25a825" stroke-width="4.30" stroke-linecap="round"/><line x1="89.2" y1="510.8" x2="96.0" y2="506.4" stroke="#25a825" stroke-width="4.30" stroke-linecap="round"/><line x1="96.0" y1="506.4" x2="104.5" y2="510.4" stroke="#25a825" stroke-width="4.30" stroke-linecap="round"/><line x1="104.5" y1="510.4" x2="112.9" y2="514.4" stroke="#25a825" stroke-width="4.30" stroke-linecap="round"/><line x1="112.9" y1="514.4" x2="119.7" y2="509.6" stroke="#25a825" stroke-width="4.30" stroke-linecap="round"/><line x1="119.7" y1="509.6" x2="126.5" y2="504.8" stroke="#25a825" stroke-width="4.30" stroke-linecap="round"/><line x1="126.5" y1="504.8" x2="128.9" y2="495.1" stroke="#25a825" stroke-width="4.30" stroke-linecap="round"/><line x1="128.9" y1="495.1" x2="131.4" y2="485.5" stroke="#25a825" stroke-width="4.30" stroke-linecap="round"/><line x1="131.4" y1="485.5" x2="125.8" y2="478.7" stroke="#25a825" stroke-width="4.30" stroke-linecap="round"/><line x1="125.8" y1="478.7" x2="120.1" y2="471.9" stroke="#25a825" stroke-width="4.30" stroke-linecap="round"/><line x1="120.1" y1="471.9" x2="110.4" y2="472.7" stroke="#25a825" stroke-width="4.30" stroke-linecap="round"/><line x1="110.4" y1="472.7" x2="100.8" y2="473.5" stroke="#25a825" stroke-width="4.30" stroke-linecap="round"/><line x1="100.8" y1="473.5" x2="94.8" y2="475.9" stroke="#25a825" stroke-width="4.30" stroke-linecap="round"/><line x1="94.8" y1="475.9" x2="88.8" y2="478.3" stroke="#25a825" stroke-width="4.30" stroke-linecap="round"/><line x1="88.8" y1="478.3" x2="97.6" y2="486.3" stroke="#1a7a1a" stroke-width="3.80" stroke-linecap="round"/><line x1="97.6" y1="486.3" x2="96.8" y2="496.4" stroke="#25a825" stroke-width="4.30" stroke-linecap="round"/><line x1="96.8" y1="496.4" x2="96.0" y2="506.4" stroke="#25a825" stroke-width="4.30" stroke-linecap="round"/><line x1="97.6" y1="486.3" x2="114.5" y2="485.9" stroke="#25a825" stroke-width="4.30" stroke-linecap="round"/><line x1="114.5" y1="485.9" x2="131.4" y2="485.5" stroke="#25a825" stroke-width="4.30" stroke-linecap="round"/><line x1="88.8" y1="478.3" x2="81.2" y2="477.9" stroke="#25a825" stroke-width="3.00" stroke-linecap="round"/><line x1="81.2" y1="477.9" x2="73.5" y2="477.5" stroke="#9a9a9a" stroke-width="2.55" stroke-linecap="round"/><line x1="100.8" y1="473.5" x2="98.4" y2="468.2" stroke="#25a825" stroke-width="3.00" stroke-linecap="round"/><line x1="98.4" y1="468.2" x2="96.0" y2="463.0" stroke="#9a9a9a" stroke-width="2.55" stroke-linecap="round"/><line x1="120.1" y1="471.9" x2="120.9" y2="466.2" stroke="#25a825" stroke-width="3.00" stroke-linecap="round"/><line x1="120.9" y1="466.2" x2="121.7" y2="460.6" stroke="#9a9a9a" stroke-width="2.55" stroke-linecap="round"/><line x1="131.4" y1="485.5" x2="132.2" y2="480.2" stroke="#25a825" stroke-width="3.00" stroke-linecap="round"/><line x1="132.2" y1="480.2" x2="133.0" y2="475.0" stroke="#9a9a9a" stroke-width="2.55" stroke-linecap="round"/><line x1="131.4" y1="485.5" x2="136.2" y2="484.8" stroke="#25a825" stroke-width="3.00" stroke-linecap="round"/><line x1="136.2" y1="484.8" x2="141.0" y2="484.0" stroke="#9a9a9a" stroke-width="2.55" stroke-linecap="round"/><line x1="97.6" y1="486.3" x2="94.0" y2="488.7" stroke="#25a825" stroke-width="3.00" stroke-linecap="round"/><line x1="94.0" y1="488.7" x2="90.4" y2="491.1" stroke="#9a9a9a" stroke-width="2.55" stroke-linecap="round"/><line x1="97.6" y1="486.3" x2="103.7" y2="489.1" stroke="#25a825" stroke-width="3.00" stroke-linecap="round"/><line x1="103.7" y1="489.1" x2="109.7" y2="492.0" stroke="#9a9a9a" stroke-width="2.55" stroke-linecap="round"/><line x1="88.8" y1="478.3" x2="89.9" y2="483.1" stroke="#25a825" stroke-width="3.00" stroke-linecap="round"/><line x1="89.9" y1="483.1" x2="91.0" y2="488.0" stroke="#9a9a9a" stroke-width="2.55" stroke-linecap="round"/><line x1="64.7" y1="512.0" x2="61.9" y2="507.6" stroke="#25a825" stroke-width="3.00" stroke-linecap="round"/><line x1="61.9" y1="507.6" x2="59.1" y2="503.2" stroke="#9a9a9a" stroke-width="2.55" stroke-linecap="round"/><line x1="55.1" y1="529.7" x2="49.9" y2="528.9" stroke="#25a825" stroke-width="3.00" stroke-linecap="round"/><line x1="49.9" y1="528.9" x2="44.6" y2="528.1" stroke="#9a9a9a" stroke-width="2.55" stroke-linecap="round"/><line x1="55.1" y1="529.7" x2="53.1" y2="531.7" stroke="#25a825" stroke-width="3.00" stroke-linecap="round"/><line x1="53.1" y1="531.7" x2="51.1" y2="533.7" stroke="#9a9a9a" stroke-width="2.55" stroke-linecap="round"/><line x1="68.7" y1="541.7" x2="68.3" y2="547.0" stroke="#25a825" stroke-width="3.00" stroke-linecap="round"/><line x1="68.3" y1="547.0" x2="67.9" y2="552.2" stroke="#9a9a9a" stroke-width="2.55" stroke-linecap="round"/><line x1="84.8" y1="534.5" x2="88.4" y2="536.5" stroke="#25a825" stroke-width="3.00" stroke-linecap="round"/><line x1="88.4" y1="536.5" x2="92.0" y2="538.5" stroke="#9a9a9a" stroke-width="2.55" stroke-linecap="round"/><line x1="126.5" y1="504.8" x2="130.1" y2="507.6" stroke="#25a825" stroke-width="4.30" stroke-linecap="round"/><line x1="130.1" y1="507.6" x2="133.6" y2="510.4" stroke="#25a825" stroke-width="4.30" stroke-linecap="round"/><line x1="133.6" y1="510.4" x2="142.0" y2="506.6" stroke="#25a825" stroke-width="4.30" stroke-linecap="round"/><line x1="142.0" y1="506.6" x2="150.4" y2="502.8" stroke="#25a825" stroke-width="4.30" stroke-linecap="round"/><line x1="150.4" y1="502.8" x2="158.4" y2="508.1" stroke="#25a825" stroke-width="4.30" stroke-linecap="round"/><line x1="158.4" y1="508.1" x2="166.3" y2="513.4" stroke="#25a825" stroke-width="4.30" stroke-linecap="round"/><line x1="166.3" y1="513.4" x2="164.7" y2="523.6" stroke="#25a825" stroke-width="4.30" stroke-linecap="round"/><line x1="164.7" y1="523.6" x2="163.0" y2="533.9" stroke="#25a825" stroke-width="4.30" stroke-linecap="round"/><line x1="163.0" y1="533.9" x2="152.9" y2="536.4" stroke="#25a825" stroke-width="4.30" stroke-linecap="round"/><line x1="152.9" y1="536.4" x2="142.8" y2="538.9" stroke="#25a825" stroke-width="4.30" stroke-linecap="round"/><line x1="142.8" y1="538.9" x2="136.5" y2="534.3" stroke="#25a825" stroke-width="4.30" stroke-linecap="round"/><line x1="136.5" y1="534.3" x2="130.2" y2="529.7" stroke="#25a825" stroke-width="4.30" stroke-linecap="round"/><line x1="130.2" y1="529.7" x2="131.9" y2="520.0" stroke="#25a825" stroke-width="4.30" stroke-linecap="round"/><line x1="131.9" y1="520.0" x2="133.6" y2="510.4" stroke="#25a825" stroke-width="4.30" stroke-linecap="round"/><line x1="166.3" y1="513.4" x2="170.5" y2="522.0" stroke="#25a825" stroke-width="4.30" stroke-linecap="round"/><line x1="170.5" y1="522.0" x2="174.7" y2="530.5" stroke="#25a825" stroke-width="4.30" stroke-linecap="round"/><line x1="174.7" y1="530.5" x2="168.8" y2="532.2" stroke="#25a825" stroke-width="4.30" stroke-linecap="round"/><line x1="168.8" y1="532.2" x2="163.0" y2="533.9" stroke="#25a825" stroke-width="4.30" stroke-linecap="round"/><line x1="150.4" y1="502.8" x2="150.4" y2="499.4" stroke="#25a825" stroke-width="3.00" stroke-linecap="round"/><line x1="150.4" y1="499.4" x2="150.4" y2="496.0" stroke="#9a9a9a" stroke-width="2.55" stroke-linecap="round"/><line x1="150.4" y1="502.8" x2="152.9" y2="499.1" stroke="#25a825" stroke-width="3.00" stroke-linecap="round"/><line x1="152.9" y1="499.1" x2="155.5" y2="495.3" stroke="#9a9a9a" stroke-width="2.55" stroke-linecap="round"/><line x1="166.3" y1="513.4" x2="168.9" y2="508.9" stroke="#25a825" stroke-width="3.00" stroke-linecap="round"/><line x1="168.9" y1="508.9" x2="171.4" y2="504.5" stroke="#9a9a9a" stroke-width="2.55" stroke-linecap="round"/><line x1="174.7" y1="530.5" x2="180.1" y2="531.5" stroke="#25a825" stroke-width="3.00" stroke-linecap="round"/><line x1="180.1" y1="531.5" x2="185.6" y2="532.5" stroke="#9a9a9a" stroke-width="2.55" stroke-linecap="round"/><line x1="163.0" y1="533.9" x2="163.4" y2="538.5" stroke="#25a825" stroke-width="3.00" stroke-linecap="round"/><line x1="163.4" y1="538.5" x2="163.8" y2="543.0" stroke="#9a9a9a" stroke-width="2.55" stroke-linecap="round"/><line x1="142.8" y1="538.9" x2="141.6" y2="544.8" stroke="#25a825" stroke-width="3.00" stroke-linecap="round"/><line x1="141.6" y1="544.8" x2="140.3" y2="550.7" stroke="#9a9a9a" stroke-width="2.55" stroke-linecap="round"/><line x1="130.2" y1="529.7" x2="123.1" y2="531.1" stroke="#25a825" stroke-width="3.00" stroke-linecap="round"/><line x1="123.1" y1="531.1" x2="116.0" y2="532.5" stroke="#9a9a9a" stroke-width="2.55" stroke-linecap="round"/><line x1="64.7" y1="512.0" x2="73.6" y2="513.6" stroke="#42e042" stroke-width="3.00" stroke-linecap="round"/><line x1="73.6" y1="513.6" x2="82.4" y2="515.2" stroke="#42e042" stroke-width="3.00" stroke-linecap="round"/><line x1="82.4" y1="515.2" x2="83.6" y2="524.9" stroke="#42e042" stroke-width="3.00" stroke-linecap="round"/><line x1="83.6" y1="524.9" x2="84.8" y2="534.5" stroke="#42e042" stroke-width="3.00" stroke-linecap="round"/><line x1="84.8" y1="534.5" x2="76.8" y2="538.1" stroke="#42e042" stroke-width="3.00" stroke-linecap="round"/><line x1="76.8" y1="538.1" x2="68.7" y2="541.7" stroke="#42e042" stroke-width="3.00" stroke-linecap="round"/><line x1="68.7" y1="541.7" x2="61.9" y2="535.7" stroke="#42e042" stroke-width="3.00" stroke-linecap="round"/><line x1="61.9" y1="535.7" x2="55.1" y2="529.7" stroke="#42e042" stroke-width="3.00" stroke-linecap="round"/><line x1="55.1" y1="529.7" x2="59.9" y2="520.9" stroke="#42e042" stroke-width="3.00" stroke-linecap="round"/><line x1="59.9" y1="520.9" x2="64.7" y2="512.0" stroke="#42e042" stroke-width="3.00" stroke-linecap="round"/><line x1="82.4" y1="515.2" x2="89.2" y2="510.8" stroke="#42e042" stroke-width="3.00" stroke-linecap="round"/><line x1="89.2" y1="510.8" x2="96.0" y2="506.4" stroke="#42e042" stroke-width="3.00" stroke-linecap="round"/><line x1="83.2" y1="511.1" x2="87.6" y2="508.3" stroke="#42e042" stroke-width="1.70" stroke-linecap="round"/><line x1="87.6" y1="508.3" x2="91.9" y2="505.5" stroke="#42e042" stroke-width="1.70" stroke-linecap="round"/><line x1="96.0" y1="506.4" x2="104.5" y2="510.4" stroke="#42e042" stroke-width="3.00" stroke-linecap="round"/><line x1="104.5" y1="510.4" x2="112.9" y2="514.4" stroke="#42e042" stroke-width="3.00" stroke-linecap="round"/><line x1="112.9" y1="514.4" x2="119.7" y2="509.6" stroke="#42e042" stroke-width="3.00" stroke-linecap="round"/><line x1="119.7" y1="509.6" x2="126.5" y2="504.8" stroke="#42e042" stroke-width="3.00" stroke-linecap="round"/><line x1="126.5" y1="504.8" x2="128.9" y2="495.1" stroke="#42e042" stroke-width="3.00" stroke-linecap="round"/><line x1="128.9" y1="495.1" x2="131.4" y2="485.5" stroke="#42e042" stroke-width="3.00" stroke-linecap="round"/><line x1="131.4" y1="485.5" x2="125.8" y2="478.7" stroke="#42e042" stroke-width="3.00" stroke-linecap="round"/><line x1="125.8" y1="478.7" x2="120.1" y2="471.9" stroke="#42e042" stroke-width="3.00" stroke-linecap="round"/><line x1="120.1" y1="471.9" x2="110.4" y2="472.7" stroke="#42e042" stroke-width="3.00" stroke-linecap="round"/><line x1="110.4" y1="472.7" x2="100.8" y2="473.5" stroke="#42e042" stroke-width="3.00" stroke-linecap="round"/><line x1="100.8" y1="473.5" x2="94.8" y2="475.9" stroke="#42e042" stroke-width="3.00" stroke-linecap="round"/><line x1="94.8" y1="475.9" x2="88.8" y2="478.3" stroke="#42e042" stroke-width="3.00" stroke-linecap="round"/><line x1="88.8" y1="478.3" x2="97.6" y2="486.3" stroke="#2a9a2a" stroke-width="2.50" stroke-linecap="round"/><line x1="97.6" y1="486.3" x2="96.8" y2="496.4" stroke="#42e042" stroke-width="3.00" stroke-linecap="round"/><line x1="96.8" y1="496.4" x2="96.0" y2="506.4" stroke="#42e042" stroke-width="3.00" stroke-linecap="round"/><line x1="97.6" y1="486.3" x2="114.5" y2="485.9" stroke="#42e042" stroke-width="3.00" stroke-linecap="round"/><line x1="114.5" y1="485.9" x2="131.4" y2="485.5" stroke="#42e042" stroke-width="3.00" stroke-linecap="round"/><line x1="114.3" y1="514.1" x2="115.5" y2="520.6" stroke="#42e042" stroke-width="2.00" stroke-linecap="butt"/><line x1="115.5" y1="520.6" x2="116.7" y2="527.0" stroke="#e84444" stroke-width="2.00" stroke-linecap="butt"/><line x1="111.5" y1="514.7" x2="112.7" y2="521.1" stroke="#42e042" stroke-width="2.00" stroke-linecap="butt"/><line x1="112.7" y1="521.1" x2="113.9" y2="527.6" stroke="#e84444" stroke-width="2.00" stroke-linecap="butt"/><line x1="88.8" y1="478.3" x2="81.2" y2="477.9" stroke="#42e042" stroke-width="1.70" stroke-linecap="round"/><line x1="81.2" y1="477.9" x2="73.5" y2="477.5" stroke="#f6f6f6" stroke-width="1.27" stroke-linecap="round"/><line x1="100.8" y1="473.5" x2="98.4" y2="468.2" stroke="#42e042" stroke-width="1.70" stroke-linecap="round"/><line x1="98.4" y1="468.2" x2="96.0" y2="463.0" stroke="#f6f6f6" stroke-width="1.27" stroke-linecap="round"/><line x1="120.1" y1="471.9" x2="120.9" y2="466.2" stroke="#42e042" stroke-width="1.70" stroke-linecap="round"/><line x1="120.9" y1="466.2" x2="121.7" y2="460.6" stroke="#f6f6f6" stroke-width="1.27" stroke-linecap="round"/><line x1="131.4" y1="485.5" x2="132.2" y2="480.2" stroke="#42e042" stroke-width="1.70" stroke-linecap="round"/><line x1="132.2" y1="480.2" x2="133.0" y2="475.0" stroke="#f6f6f6" stroke-width="1.27" stroke-linecap="round"/><line x1="131.4" y1="485.5" x2="136.2" y2="484.8" stroke="#42e042" stroke-width="1.70" stroke-linecap="round"/><line x1="136.2" y1="484.8" x2="141.0" y2="484.0" stroke="#f6f6f6" stroke-width="1.27" stroke-linecap="round"/><line x1="97.6" y1="486.3" x2="94.0" y2="488.7" stroke="#42e042" stroke-width="1.70" stroke-linecap="round"/><line x1="94.0" y1="488.7" x2="90.4" y2="491.1" stroke="#f6f6f6" stroke-width="1.27" stroke-linecap="round"/><line x1="97.6" y1="486.3" x2="103.7" y2="489.1" stroke="#42e042" stroke-width="1.70" stroke-linecap="round"/><line x1="103.7" y1="489.1" x2="109.7" y2="492.0" stroke="#f6f6f6" stroke-width="1.27" stroke-linecap="round"/><line x1="88.8" y1="478.3" x2="89.9" y2="483.1" stroke="#42e042" stroke-width="1.70" stroke-linecap="round"/><line x1="89.9" y1="483.1" x2="91.0" y2="488.0" stroke="#f6f6f6" stroke-width="1.27" stroke-linecap="round"/><line x1="64.7" y1="512.0" x2="61.9" y2="507.6" stroke="#42e042" stroke-width="1.70" stroke-linecap="round"/><line x1="61.9" y1="507.6" x2="59.1" y2="503.2" stroke="#f6f6f6" stroke-width="1.27" stroke-linecap="round"/><line x1="55.1" y1="529.7" x2="49.9" y2="528.9" stroke="#42e042" stroke-width="1.70" stroke-linecap="round"/><line x1="49.9" y1="528.9" x2="44.6" y2="528.1" stroke="#f6f6f6" stroke-width="1.27" stroke-linecap="round"/><line x1="55.1" y1="529.7" x2="53.1" y2="531.7" stroke="#42e042" stroke-width="1.70" stroke-linecap="round"/><line x1="53.1" y1="531.7" x2="51.1" y2="533.7" stroke="#f6f6f6" stroke-width="1.27" stroke-linecap="round"/><line x1="68.7" y1="541.7" x2="68.3" y2="547.0" stroke="#42e042" stroke-width="1.70" stroke-linecap="round"/><line x1="68.3" y1="547.0" x2="67.9" y2="552.2" stroke="#f6f6f6" stroke-width="1.27" stroke-linecap="round"/><line x1="84.8" y1="534.5" x2="88.4" y2="536.5" stroke="#42e042" stroke-width="1.70" stroke-linecap="round"/><line x1="88.4" y1="536.5" x2="92.0" y2="538.5" stroke="#f6f6f6" stroke-width="1.27" stroke-linecap="round"/><line x1="126.5" y1="504.8" x2="130.1" y2="507.6" stroke="#42e042" stroke-width="3.00" stroke-linecap="round"/><line x1="130.1" y1="507.6" x2="133.6" y2="510.4" stroke="#42e042" stroke-width="3.00" stroke-linecap="round"/><line x1="129.6" y1="503.5" x2="131.9" y2="505.2" stroke="#42e042" stroke-width="1.70" stroke-linecap="round"/><line x1="131.9" y1="505.2" x2="134.2" y2="507.0" stroke="#42e042" stroke-width="1.70" stroke-linecap="round"/><line x1="133.6" y1="510.4" x2="142.0" y2="506.6" stroke="#42e042" stroke-width="3.00" stroke-linecap="round"/><line x1="142.0" y1="506.6" x2="150.4" y2="502.8" stroke="#42e042" stroke-width="3.00" stroke-linecap="round"/><line x1="150.4" y1="502.8" x2="158.4" y2="508.1" stroke="#42e042" stroke-width="3.00" stroke-linecap="round"/><line x1="158.4" y1="508.1" x2="166.3" y2="513.4" stroke="#42e042" stroke-width="3.00" stroke-linecap="round"/><line x1="166.3" y1="513.4" x2="164.7" y2="523.6" stroke="#42e042" stroke-width="3.00" stroke-linecap="round"/><line x1="164.7" y1="523.6" x2="163.0" y2="533.9" stroke="#42e042" stroke-width="3.00" stroke-linecap="round"/><line x1="163.0" y1="533.9" x2="152.9" y2="536.4" stroke="#42e042" stroke-width="3.00" stroke-linecap="round"/><line x1="152.9" y1="536.4" x2="142.8" y2="538.9" stroke="#42e042" stroke-width="3.00" stroke-linecap="round"/><line x1="142.8" y1="538.9" x2="136.5" y2="534.3" stroke="#42e042" stroke-width="3.00" stroke-linecap="round"/><line x1="136.5" y1="534.3" x2="130.2" y2="529.7" stroke="#42e042" stroke-width="3.00" stroke-linecap="round"/><line x1="142.3" y1="534.8" x2="138.3" y2="531.9" stroke="#42e042" stroke-width="1.70" stroke-linecap="round"/><line x1="138.3" y1="531.9" x2="134.2" y2="528.9" stroke="#42e042" stroke-width="1.70" stroke-linecap="round"/><line x1="130.2" y1="529.7" x2="131.9" y2="520.0" stroke="#42e042" stroke-width="3.00" stroke-linecap="round"/><line x1="131.9" y1="520.0" x2="133.6" y2="510.4" stroke="#42e042" stroke-width="3.00" stroke-linecap="round"/><line x1="166.3" y1="513.4" x2="170.5" y2="522.0" stroke="#42e042" stroke-width="3.00" stroke-linecap="round"/><line x1="170.5" y1="522.0" x2="174.7" y2="530.5" stroke="#42e042" stroke-width="3.00" stroke-linecap="round"/><line x1="174.7" y1="530.5" x2="168.8" y2="532.2" stroke="#42e042" stroke-width="3.00" stroke-linecap="round"/><line x1="168.8" y1="532.2" x2="163.0" y2="533.9" stroke="#42e042" stroke-width="3.00" stroke-linecap="round"/><line x1="150.4" y1="502.8" x2="150.4" y2="499.4" stroke="#42e042" stroke-width="1.70" stroke-linecap="round"/><line x1="150.4" y1="499.4" x2="150.4" y2="496.0" stroke="#f6f6f6" stroke-width="1.27" stroke-linecap="round"/><line x1="150.4" y1="502.8" x2="152.9" y2="499.1" stroke="#42e042" stroke-width="1.70" stroke-linecap="round"/><line x1="152.9" y1="499.1" x2="155.5" y2="495.3" stroke="#f6f6f6" stroke-width="1.27" stroke-linecap="round"/><line x1="166.3" y1="513.4" x2="168.9" y2="508.9" stroke="#42e042" stroke-width="1.70" stroke-linecap="round"/><line x1="168.9" y1="508.9" x2="171.4" y2="504.5" stroke="#f6f6f6" stroke-width="1.27" stroke-linecap="round"/><line x1="174.7" y1="530.5" x2="180.1" y2="531.5" stroke="#42e042" stroke-width="1.70" stroke-linecap="round"/><line x1="180.1" y1="531.5" x2="185.6" y2="532.5" stroke="#f6f6f6" stroke-width="1.27" stroke-linecap="round"/><line x1="163.0" y1="533.9" x2="163.4" y2="538.5" stroke="#42e042" stroke-width="1.70" stroke-linecap="round"/><line x1="163.4" y1="538.5" x2="163.8" y2="543.0" stroke="#f6f6f6" stroke-width="1.27" stroke-linecap="round"/><line x1="142.8" y1="538.9" x2="141.6" y2="544.8" stroke="#42e042" stroke-width="1.70" stroke-linecap="round"/><line x1="141.6" y1="544.8" x2="140.3" y2="550.7" stroke="#f6f6f6" stroke-width="1.27" stroke-linecap="round"/><line x1="130.2" y1="529.7" x2="123.1" y2="531.1" stroke="#42e042" stroke-width="1.70" stroke-linecap="round"/><line x1="123.1" y1="531.1" x2="116.0" y2="532.5" stroke="#f6f6f6" stroke-width="1.27" stroke-linecap="round"/></g>
<text x="156.00" y="485.20" font-size="13.0" text-anchor="start" font-weight="normal" fill="#c8101a">C11</text>
<line x1="167.2" y1="485.2" x2="167.2" y2="509.2" stroke="#c8101a" stroke-width="1.2"/>
<polygon points="167.2,513.4 165.2,509.2 169.2,509.2" fill="#c8101a"/>
<text x="107.60" y="563.60" font-size="13.0" text-anchor="start" font-weight="normal" fill="#c8101a">C18</text>
<line x1="126.9" y1="554.0" x2="138.8" y2="544.1" stroke="#c8101a" stroke-width="1.2"/>
<polygon points="142.0,541.4 140.1,545.6 137.5,542.6" fill="#c8101a"/>
<text x="140.00" y="575.50" font-size="13.0" text-anchor="start" font-weight="normal" fill="#c8101a">C3</text>
<line x1="151.2" y1="565.8" x2="158.4" y2="540.9" stroke="#c8101a" stroke-width="1.2"/>
<polygon points="159.6,536.9 160.3,541.5 156.5,540.4" fill="#c8101a"/>
<text x="179.50" y="574.20" font-size="13.0" text-anchor="start" font-weight="normal" fill="#c8101a">C6</text>
<line x1="187.3" y1="565.0" x2="176.6" y2="537.5" stroke="#c8101a" stroke-width="1.2"/>
<polygon points="175.1,533.6 178.5,536.8 174.8,538.2" fill="#c8101a"/>
<text x="156.80" y="591.00" font-size="13.0" text-anchor="start" font-weight="normal" fill="#c8101a">H27</text>
<line x1="166.0" y1="582.1" x2="163.8" y2="547.3" stroke="#c8101a" stroke-width="1.2"/>
<polygon points="163.5,543.1 165.8,547.2 161.8,547.4" fill="#c8101a"/>
</svg>
</body></html>
